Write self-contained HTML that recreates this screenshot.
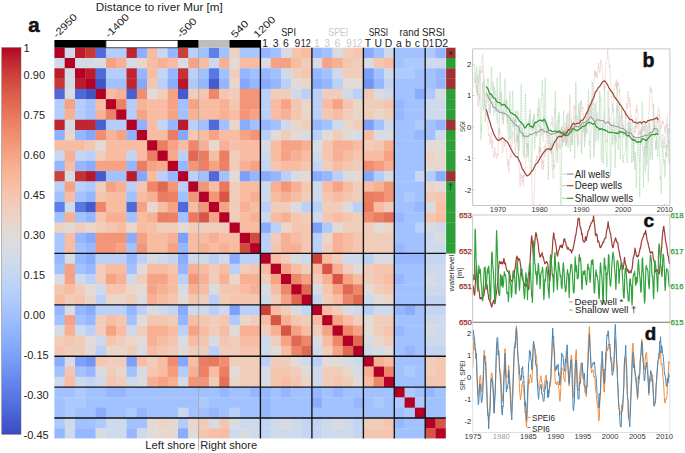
<!DOCTYPE html>
<html><head><meta charset="utf-8"><title>Correlation matrix figure</title>
<style>
html,body{margin:0;padding:0;background:#fff;}
body{width:685px;height:453px;overflow:hidden;}
svg{display:block;font-family:"Liberation Sans",sans-serif;}
</style></head><body>
<svg width="685" height="453" viewBox="0 0 685 453">
<rect width="685" height="453" fill="#fff"/>
<defs><filter id="soft" x="-1%" y="-1%" width="102%" height="102%"><feGaussianBlur stdDeviation="0.45"/></filter></defs>
<g filter="url(#soft)">
<rect x="54.40" y="47.70" width="10.60" height="10.59" fill="#b40426"/>
<rect x="64.70" y="47.70" width="10.60" height="10.59" fill="#cedaeb"/>
<rect x="75.00" y="47.70" width="10.60" height="10.59" fill="#bb1b2c"/>
<rect x="85.30" y="47.70" width="10.60" height="10.59" fill="#c83836"/>
<rect x="95.60" y="47.70" width="10.60" height="10.59" fill="#4f69d9"/>
<rect x="105.90" y="47.70" width="20.90" height="10.59" fill="#b5cdfa"/>
<rect x="126.50" y="47.70" width="10.60" height="10.59" fill="#c0282f"/>
<rect x="136.80" y="47.70" width="10.60" height="10.59" fill="#8caffe"/>
<rect x="147.10" y="47.70" width="10.60" height="10.59" fill="#f7bca1"/>
<rect x="157.40" y="47.70" width="10.60" height="10.59" fill="#c9d7f0"/>
<rect x="167.70" y="47.70" width="10.60" height="10.59" fill="#96b7ff"/>
<rect x="178.00" y="47.70" width="10.60" height="10.59" fill="#cc403a"/>
<rect x="188.30" y="47.70" width="10.60" height="10.59" fill="#bad0f8"/>
<rect x="198.60" y="47.70" width="10.60" height="10.59" fill="#a2c1ff"/>
<rect x="208.90" y="47.70" width="10.60" height="10.59" fill="#5f7fe8"/>
<rect x="219.20" y="47.70" width="10.60" height="10.59" fill="#a2c1ff"/>
<rect x="229.50" y="47.70" width="10.60" height="10.59" fill="#edd1c2"/>
<rect x="239.80" y="47.70" width="20.90" height="10.59" fill="#a9c6fd"/>
<rect x="260.40" y="47.70" width="10.60" height="10.59" fill="#96b7ff"/>
<rect x="270.70" y="47.70" width="10.60" height="10.59" fill="#a2c1ff"/>
<rect x="281.00" y="47.70" width="10.60" height="10.59" fill="#d8dce2"/>
<rect x="291.30" y="47.70" width="10.60" height="10.59" fill="#f4c6af"/>
<rect x="301.60" y="47.70" width="10.60" height="10.59" fill="#f7bca1"/>
<rect x="311.90" y="47.70" width="10.60" height="10.59" fill="#96b7ff"/>
<rect x="322.20" y="47.70" width="10.60" height="10.59" fill="#a2c1ff"/>
<rect x="332.50" y="47.70" width="10.60" height="10.59" fill="#d8dce2"/>
<rect x="342.80" y="47.70" width="10.60" height="10.59" fill="#f0cdbb"/>
<rect x="353.10" y="47.70" width="10.60" height="10.59" fill="#f4c6af"/>
<rect x="363.40" y="47.70" width="10.60" height="10.59" fill="#89acfd"/>
<rect x="373.70" y="47.70" width="10.60" height="10.59" fill="#a2c1ff"/>
<rect x="384.00" y="47.70" width="10.60" height="10.59" fill="#cedaeb"/>
<rect x="394.30" y="47.70" width="31.20" height="10.59" fill="#a2c1ff"/>
<rect x="425.20" y="47.70" width="10.60" height="10.59" fill="#aec9fc"/>
<rect x="435.50" y="47.70" width="10.60" height="10.59" fill="#96b7ff"/>
<rect x="54.40" y="57.98" width="10.60" height="10.59" fill="#cedaeb"/>
<rect x="64.70" y="57.98" width="10.60" height="10.59" fill="#b40426"/>
<rect x="75.00" y="57.98" width="20.90" height="10.59" fill="#d3dbe7"/>
<rect x="95.60" y="57.98" width="10.60" height="10.59" fill="#d8dce2"/>
<rect x="105.90" y="57.98" width="10.60" height="10.59" fill="#f6a385"/>
<rect x="116.20" y="57.98" width="10.60" height="10.59" fill="#f7b093"/>
<rect x="126.50" y="57.98" width="10.60" height="10.59" fill="#d3dbe7"/>
<rect x="136.80" y="57.98" width="10.60" height="10.59" fill="#ead5c9"/>
<rect x="147.10" y="57.98" width="10.60" height="10.59" fill="#f7bca1"/>
<rect x="157.40" y="57.98" width="10.60" height="10.59" fill="#f7b093"/>
<rect x="167.70" y="57.98" width="10.60" height="10.59" fill="#f7bca1"/>
<rect x="178.00" y="57.98" width="10.60" height="10.59" fill="#d8dce2"/>
<rect x="188.30" y="57.98" width="10.60" height="10.59" fill="#f6a385"/>
<rect x="198.60" y="57.98" width="10.60" height="10.59" fill="#f7bca1"/>
<rect x="208.90" y="57.98" width="10.60" height="10.59" fill="#cedaeb"/>
<rect x="219.20" y="57.98" width="10.60" height="10.59" fill="#f7b093"/>
<rect x="229.50" y="57.98" width="10.60" height="10.59" fill="#e1dad6"/>
<rect x="239.80" y="57.98" width="20.90" height="10.59" fill="#f7bca1"/>
<rect x="260.40" y="57.98" width="10.60" height="10.59" fill="#d8dce2"/>
<rect x="270.70" y="57.98" width="20.90" height="10.59" fill="#f6a385"/>
<rect x="291.30" y="57.98" width="10.60" height="10.59" fill="#f7bca1"/>
<rect x="301.60" y="57.98" width="10.60" height="10.59" fill="#f0cdbb"/>
<rect x="311.90" y="57.98" width="10.60" height="10.59" fill="#d8dce2"/>
<rect x="322.20" y="57.98" width="10.60" height="10.59" fill="#f6a385"/>
<rect x="332.50" y="57.98" width="10.60" height="10.59" fill="#f7b093"/>
<rect x="342.80" y="57.98" width="10.60" height="10.59" fill="#f4c6af"/>
<rect x="353.10" y="57.98" width="10.60" height="10.59" fill="#f0cdbb"/>
<rect x="363.40" y="57.98" width="10.60" height="10.59" fill="#d8dce2"/>
<rect x="373.70" y="57.98" width="10.60" height="10.59" fill="#f4c6af"/>
<rect x="384.00" y="57.98" width="10.60" height="10.59" fill="#f7bca1"/>
<rect x="394.30" y="57.98" width="10.60" height="10.59" fill="#a2c1ff"/>
<rect x="404.60" y="57.98" width="20.90" height="10.59" fill="#aec9fc"/>
<rect x="425.20" y="57.98" width="20.90" height="10.59" fill="#cedaeb"/>
<rect x="54.40" y="68.27" width="10.60" height="10.59" fill="#bb1b2c"/>
<rect x="64.70" y="68.27" width="10.60" height="10.59" fill="#d3dbe7"/>
<rect x="75.00" y="68.27" width="10.60" height="10.59" fill="#b40426"/>
<rect x="85.30" y="68.27" width="10.60" height="10.59" fill="#bb1b2c"/>
<rect x="95.60" y="68.27" width="10.60" height="10.59" fill="#4f69d9"/>
<rect x="105.90" y="68.27" width="20.90" height="10.59" fill="#b5cdfa"/>
<rect x="126.50" y="68.27" width="10.60" height="10.59" fill="#c0282f"/>
<rect x="136.80" y="68.27" width="10.60" height="10.59" fill="#96b7ff"/>
<rect x="147.10" y="68.27" width="10.60" height="10.59" fill="#f7bca1"/>
<rect x="157.40" y="68.27" width="10.60" height="10.59" fill="#c4d5f3"/>
<rect x="167.70" y="68.27" width="10.60" height="10.59" fill="#96b7ff"/>
<rect x="178.00" y="68.27" width="10.60" height="10.59" fill="#c53334"/>
<rect x="188.30" y="68.27" width="10.60" height="10.59" fill="#bad0f8"/>
<rect x="198.60" y="68.27" width="10.60" height="10.59" fill="#a2c1ff"/>
<rect x="208.90" y="68.27" width="10.60" height="10.59" fill="#5a78e4"/>
<rect x="219.20" y="68.27" width="10.60" height="10.59" fill="#a2c1ff"/>
<rect x="229.50" y="68.27" width="10.60" height="10.59" fill="#f0cdbb"/>
<rect x="239.80" y="68.27" width="10.60" height="10.59" fill="#96b7ff"/>
<rect x="250.10" y="68.27" width="10.60" height="10.59" fill="#a2c1ff"/>
<rect x="260.40" y="68.27" width="10.60" height="10.59" fill="#96b7ff"/>
<rect x="270.70" y="68.27" width="10.60" height="10.59" fill="#a2c1ff"/>
<rect x="281.00" y="68.27" width="10.60" height="10.59" fill="#cedaeb"/>
<rect x="291.30" y="68.27" width="10.60" height="10.59" fill="#f0cdbb"/>
<rect x="301.60" y="68.27" width="10.60" height="10.59" fill="#f4c6af"/>
<rect x="311.90" y="68.27" width="10.60" height="10.59" fill="#96b7ff"/>
<rect x="322.20" y="68.27" width="10.60" height="10.59" fill="#a2c1ff"/>
<rect x="332.50" y="68.27" width="10.60" height="10.59" fill="#cedaeb"/>
<rect x="342.80" y="68.27" width="20.90" height="10.59" fill="#f0cdbb"/>
<rect x="363.40" y="68.27" width="10.60" height="10.59" fill="#7da0f9"/>
<rect x="373.70" y="68.27" width="10.60" height="10.59" fill="#a2c1ff"/>
<rect x="384.00" y="68.27" width="10.60" height="10.59" fill="#cedaeb"/>
<rect x="394.30" y="68.27" width="20.90" height="10.59" fill="#aec9fc"/>
<rect x="414.90" y="68.27" width="20.90" height="10.59" fill="#a2c1ff"/>
<rect x="435.50" y="68.27" width="10.60" height="10.59" fill="#96b7ff"/>
<rect x="54.40" y="78.56" width="10.60" height="10.59" fill="#c83836"/>
<rect x="64.70" y="78.56" width="10.60" height="10.59" fill="#d3dbe7"/>
<rect x="75.00" y="78.56" width="10.60" height="10.59" fill="#bb1b2c"/>
<rect x="85.30" y="78.56" width="10.60" height="10.59" fill="#b40426"/>
<rect x="95.60" y="78.56" width="10.60" height="10.59" fill="#4055c8"/>
<rect x="105.90" y="78.56" width="20.90" height="10.59" fill="#a2c1ff"/>
<rect x="126.50" y="78.56" width="10.60" height="10.59" fill="#c0282f"/>
<rect x="136.80" y="78.56" width="10.60" height="10.59" fill="#85a8fc"/>
<rect x="147.10" y="78.56" width="10.60" height="10.59" fill="#f4c6af"/>
<rect x="157.40" y="78.56" width="10.60" height="10.59" fill="#bad0f8"/>
<rect x="167.70" y="78.56" width="10.60" height="10.59" fill="#89acfd"/>
<rect x="178.00" y="78.56" width="10.60" height="10.59" fill="#b8122a"/>
<rect x="188.30" y="78.56" width="10.60" height="10.59" fill="#aec9fc"/>
<rect x="198.60" y="78.56" width="10.60" height="10.59" fill="#96b7ff"/>
<rect x="208.90" y="78.56" width="10.60" height="10.59" fill="#445acc"/>
<rect x="219.20" y="78.56" width="10.60" height="10.59" fill="#96b7ff"/>
<rect x="229.50" y="78.56" width="10.60" height="10.59" fill="#ead5c9"/>
<rect x="239.80" y="78.56" width="10.60" height="10.59" fill="#85a8fc"/>
<rect x="250.10" y="78.56" width="10.60" height="10.59" fill="#96b7ff"/>
<rect x="260.40" y="78.56" width="10.60" height="10.59" fill="#89acfd"/>
<rect x="270.70" y="78.56" width="10.60" height="10.59" fill="#96b7ff"/>
<rect x="281.00" y="78.56" width="10.60" height="10.59" fill="#bad0f8"/>
<rect x="291.30" y="78.56" width="10.60" height="10.59" fill="#e1dad6"/>
<rect x="301.60" y="78.56" width="10.60" height="10.59" fill="#ead5c9"/>
<rect x="311.90" y="78.56" width="10.60" height="10.59" fill="#89acfd"/>
<rect x="322.20" y="78.56" width="10.60" height="10.59" fill="#96b7ff"/>
<rect x="332.50" y="78.56" width="10.60" height="10.59" fill="#bad0f8"/>
<rect x="342.80" y="78.56" width="20.90" height="10.59" fill="#e1dad6"/>
<rect x="363.40" y="78.56" width="10.60" height="10.59" fill="#7295f4"/>
<rect x="373.70" y="78.56" width="10.60" height="10.59" fill="#96b7ff"/>
<rect x="384.00" y="78.56" width="10.60" height="10.59" fill="#c4d5f3"/>
<rect x="394.30" y="78.56" width="41.50" height="10.59" fill="#a2c1ff"/>
<rect x="435.50" y="78.56" width="10.60" height="10.59" fill="#96b7ff"/>
<rect x="54.40" y="88.84" width="10.60" height="10.59" fill="#4f69d9"/>
<rect x="64.70" y="88.84" width="10.60" height="10.59" fill="#d8dce2"/>
<rect x="75.00" y="88.84" width="10.60" height="10.59" fill="#4f69d9"/>
<rect x="85.30" y="88.84" width="10.60" height="10.59" fill="#4055c8"/>
<rect x="95.60" y="88.84" width="10.60" height="10.59" fill="#b40426"/>
<rect x="105.90" y="88.84" width="10.60" height="10.59" fill="#f7bca1"/>
<rect x="116.20" y="88.84" width="10.60" height="10.59" fill="#f7b093"/>
<rect x="126.50" y="88.84" width="10.60" height="10.59" fill="#4961d2"/>
<rect x="136.80" y="88.84" width="10.60" height="10.59" fill="#f18d6f"/>
<rect x="147.10" y="88.84" width="10.60" height="10.59" fill="#e1dad6"/>
<rect x="157.40" y="88.84" width="10.60" height="10.59" fill="#f0cdbb"/>
<rect x="167.70" y="88.84" width="10.60" height="10.59" fill="#f6a385"/>
<rect x="178.00" y="88.84" width="10.60" height="10.59" fill="#445acc"/>
<rect x="188.30" y="88.84" width="10.60" height="10.59" fill="#f0cdbb"/>
<rect x="198.60" y="88.84" width="10.60" height="10.59" fill="#f4c6af"/>
<rect x="208.90" y="88.84" width="10.60" height="10.59" fill="#ee8669"/>
<rect x="219.20" y="88.84" width="10.60" height="10.59" fill="#f4c6af"/>
<rect x="229.50" y="88.84" width="10.60" height="10.59" fill="#f0cdbb"/>
<rect x="239.80" y="88.84" width="20.90" height="10.59" fill="#f39577"/>
<rect x="260.40" y="88.84" width="10.60" height="10.59" fill="#bad0f8"/>
<rect x="270.70" y="88.84" width="20.90" height="10.59" fill="#f0cdbb"/>
<rect x="291.30" y="88.84" width="10.60" height="10.59" fill="#cedaeb"/>
<rect x="301.60" y="88.84" width="20.90" height="10.59" fill="#bad0f8"/>
<rect x="322.20" y="88.84" width="20.90" height="10.59" fill="#f0cdbb"/>
<rect x="342.80" y="88.84" width="10.60" height="10.59" fill="#cedaeb"/>
<rect x="353.10" y="88.84" width="10.60" height="10.59" fill="#bad0f8"/>
<rect x="363.40" y="88.84" width="10.60" height="10.59" fill="#f4c6af"/>
<rect x="373.70" y="88.84" width="10.60" height="10.59" fill="#d8dce2"/>
<rect x="384.00" y="88.84" width="10.60" height="10.59" fill="#cedaeb"/>
<rect x="394.30" y="88.84" width="20.90" height="10.59" fill="#a2c1ff"/>
<rect x="414.90" y="88.84" width="10.60" height="10.59" fill="#89acfd"/>
<rect x="425.20" y="88.84" width="10.60" height="10.59" fill="#aec9fc"/>
<rect x="435.50" y="88.84" width="10.60" height="10.59" fill="#d8dce2"/>
<rect x="54.40" y="99.12" width="10.60" height="10.59" fill="#b5cdfa"/>
<rect x="64.70" y="99.12" width="10.60" height="10.59" fill="#f6a385"/>
<rect x="75.00" y="99.12" width="10.60" height="10.59" fill="#b5cdfa"/>
<rect x="85.30" y="99.12" width="10.60" height="10.59" fill="#a2c1ff"/>
<rect x="95.60" y="99.12" width="10.60" height="10.59" fill="#f7bca1"/>
<rect x="105.90" y="99.12" width="10.60" height="10.59" fill="#b40426"/>
<rect x="116.20" y="99.12" width="10.60" height="10.59" fill="#ec8165"/>
<rect x="126.50" y="99.12" width="10.60" height="10.59" fill="#b5cdfa"/>
<rect x="136.80" y="99.12" width="10.60" height="10.59" fill="#f7b497"/>
<rect x="147.10" y="99.12" width="20.90" height="10.59" fill="#f7bca1"/>
<rect x="167.70" y="99.12" width="10.60" height="10.59" fill="#f6a385"/>
<rect x="178.00" y="99.12" width="10.60" height="10.59" fill="#a2c1ff"/>
<rect x="188.30" y="99.12" width="10.60" height="10.59" fill="#f6a385"/>
<rect x="198.60" y="99.12" width="20.90" height="10.59" fill="#f7bca1"/>
<rect x="219.20" y="99.12" width="10.60" height="10.59" fill="#f7b093"/>
<rect x="229.50" y="99.12" width="10.60" height="10.59" fill="#f4c6af"/>
<rect x="239.80" y="99.12" width="20.90" height="10.59" fill="#f39577"/>
<rect x="260.40" y="99.12" width="10.60" height="10.59" fill="#bad0f8"/>
<rect x="270.70" y="99.12" width="10.60" height="10.59" fill="#f7bca1"/>
<rect x="281.00" y="99.12" width="10.60" height="10.59" fill="#f6a385"/>
<rect x="291.30" y="99.12" width="10.60" height="10.59" fill="#f4c6af"/>
<rect x="301.60" y="99.12" width="10.60" height="10.59" fill="#ead5c9"/>
<rect x="311.90" y="99.12" width="10.60" height="10.59" fill="#bad0f8"/>
<rect x="322.20" y="99.12" width="10.60" height="10.59" fill="#f7bca1"/>
<rect x="332.50" y="99.12" width="10.60" height="10.59" fill="#f6a385"/>
<rect x="342.80" y="99.12" width="10.60" height="10.59" fill="#f4c6af"/>
<rect x="353.10" y="99.12" width="10.60" height="10.59" fill="#ead5c9"/>
<rect x="363.40" y="99.12" width="20.90" height="10.59" fill="#f0cdbb"/>
<rect x="384.00" y="99.12" width="10.60" height="10.59" fill="#f4c6af"/>
<rect x="394.30" y="99.12" width="10.60" height="10.59" fill="#96b7ff"/>
<rect x="404.60" y="99.12" width="20.90" height="10.59" fill="#a2c1ff"/>
<rect x="425.20" y="99.12" width="20.90" height="10.59" fill="#cedaeb"/>
<rect x="54.40" y="109.41" width="10.60" height="10.59" fill="#b5cdfa"/>
<rect x="64.70" y="109.41" width="10.60" height="10.59" fill="#f7b093"/>
<rect x="75.00" y="109.41" width="10.60" height="10.59" fill="#b5cdfa"/>
<rect x="85.30" y="109.41" width="10.60" height="10.59" fill="#a2c1ff"/>
<rect x="95.60" y="109.41" width="10.60" height="10.59" fill="#f7b093"/>
<rect x="105.90" y="109.41" width="10.60" height="10.59" fill="#ec8165"/>
<rect x="116.20" y="109.41" width="10.60" height="10.59" fill="#b40426"/>
<rect x="126.50" y="109.41" width="10.60" height="10.59" fill="#b5cdfa"/>
<rect x="136.80" y="109.41" width="10.60" height="10.59" fill="#f6a385"/>
<rect x="147.10" y="109.41" width="20.90" height="10.59" fill="#f7bca1"/>
<rect x="167.70" y="109.41" width="10.60" height="10.59" fill="#f6a385"/>
<rect x="178.00" y="109.41" width="10.60" height="10.59" fill="#a2c1ff"/>
<rect x="188.30" y="109.41" width="10.60" height="10.59" fill="#f7b093"/>
<rect x="198.60" y="109.41" width="20.90" height="10.59" fill="#f7bca1"/>
<rect x="219.20" y="109.41" width="10.60" height="10.59" fill="#f7b093"/>
<rect x="229.50" y="109.41" width="10.60" height="10.59" fill="#f7bca1"/>
<rect x="239.80" y="109.41" width="10.60" height="10.59" fill="#f39577"/>
<rect x="250.10" y="109.41" width="10.60" height="10.59" fill="#f6a385"/>
<rect x="260.40" y="109.41" width="10.60" height="10.59" fill="#bad0f8"/>
<rect x="270.70" y="109.41" width="10.60" height="10.59" fill="#f7bca1"/>
<rect x="281.00" y="109.41" width="10.60" height="10.59" fill="#f7b093"/>
<rect x="291.30" y="109.41" width="10.60" height="10.59" fill="#f4c6af"/>
<rect x="301.60" y="109.41" width="10.60" height="10.59" fill="#ead5c9"/>
<rect x="311.90" y="109.41" width="10.60" height="10.59" fill="#bad0f8"/>
<rect x="322.20" y="109.41" width="10.60" height="10.59" fill="#f4c6af"/>
<rect x="332.50" y="109.41" width="10.60" height="10.59" fill="#f7bca1"/>
<rect x="342.80" y="109.41" width="10.60" height="10.59" fill="#f0cdbb"/>
<rect x="353.10" y="109.41" width="10.60" height="10.59" fill="#ead5c9"/>
<rect x="363.40" y="109.41" width="10.60" height="10.59" fill="#f0cdbb"/>
<rect x="373.70" y="109.41" width="10.60" height="10.59" fill="#ead5c9"/>
<rect x="384.00" y="109.41" width="10.60" height="10.59" fill="#f0cdbb"/>
<rect x="394.30" y="109.41" width="10.60" height="10.59" fill="#96b7ff"/>
<rect x="404.60" y="109.41" width="20.90" height="10.59" fill="#a2c1ff"/>
<rect x="425.20" y="109.41" width="20.90" height="10.59" fill="#cedaeb"/>
<rect x="54.40" y="119.70" width="10.60" height="10.59" fill="#c0282f"/>
<rect x="64.70" y="119.70" width="10.60" height="10.59" fill="#d3dbe7"/>
<rect x="75.00" y="119.70" width="20.90" height="10.59" fill="#c0282f"/>
<rect x="95.60" y="119.70" width="10.60" height="10.59" fill="#4961d2"/>
<rect x="105.90" y="119.70" width="20.90" height="10.59" fill="#b5cdfa"/>
<rect x="126.50" y="119.70" width="10.60" height="10.59" fill="#b40426"/>
<rect x="136.80" y="119.70" width="10.60" height="10.59" fill="#8fb1fe"/>
<rect x="147.10" y="119.70" width="10.60" height="10.59" fill="#f7bca1"/>
<rect x="157.40" y="119.70" width="10.60" height="10.59" fill="#c4d5f3"/>
<rect x="167.70" y="119.70" width="10.60" height="10.59" fill="#96b7ff"/>
<rect x="178.00" y="119.70" width="10.60" height="10.59" fill="#bb1b2c"/>
<rect x="188.30" y="119.70" width="10.60" height="10.59" fill="#bad0f8"/>
<rect x="198.60" y="119.70" width="10.60" height="10.59" fill="#a2c1ff"/>
<rect x="208.90" y="119.70" width="10.60" height="10.59" fill="#4f69d9"/>
<rect x="219.20" y="119.70" width="10.60" height="10.59" fill="#a2c1ff"/>
<rect x="229.50" y="119.70" width="10.60" height="10.59" fill="#ead5c9"/>
<rect x="239.80" y="119.70" width="10.60" height="10.59" fill="#89acfd"/>
<rect x="250.10" y="119.70" width="10.60" height="10.59" fill="#a2c1ff"/>
<rect x="260.40" y="119.70" width="10.60" height="10.59" fill="#96b7ff"/>
<rect x="270.70" y="119.70" width="10.60" height="10.59" fill="#a2c1ff"/>
<rect x="281.00" y="119.70" width="10.60" height="10.59" fill="#cedaeb"/>
<rect x="291.30" y="119.70" width="10.60" height="10.59" fill="#ead5c9"/>
<rect x="301.60" y="119.70" width="10.60" height="10.59" fill="#f0cdbb"/>
<rect x="311.90" y="119.70" width="10.60" height="10.59" fill="#96b7ff"/>
<rect x="322.20" y="119.70" width="10.60" height="10.59" fill="#a2c1ff"/>
<rect x="332.50" y="119.70" width="10.60" height="10.59" fill="#cedaeb"/>
<rect x="342.80" y="119.70" width="10.60" height="10.59" fill="#ead5c9"/>
<rect x="353.10" y="119.70" width="10.60" height="10.59" fill="#f0cdbb"/>
<rect x="363.40" y="119.70" width="10.60" height="10.59" fill="#7da0f9"/>
<rect x="373.70" y="119.70" width="10.60" height="10.59" fill="#a2c1ff"/>
<rect x="384.00" y="119.70" width="10.60" height="10.59" fill="#cedaeb"/>
<rect x="394.30" y="119.70" width="20.90" height="10.59" fill="#a2c1ff"/>
<rect x="414.90" y="119.70" width="10.60" height="10.59" fill="#aec9fc"/>
<rect x="425.20" y="119.70" width="10.60" height="10.59" fill="#a2c1ff"/>
<rect x="435.50" y="119.70" width="10.60" height="10.59" fill="#96b7ff"/>
<rect x="54.40" y="129.98" width="10.60" height="10.59" fill="#8caffe"/>
<rect x="64.70" y="129.98" width="10.60" height="10.59" fill="#ead5c9"/>
<rect x="75.00" y="129.98" width="10.60" height="10.59" fill="#96b7ff"/>
<rect x="85.30" y="129.98" width="10.60" height="10.59" fill="#85a8fc"/>
<rect x="95.60" y="129.98" width="10.60" height="10.59" fill="#f18d6f"/>
<rect x="105.90" y="129.98" width="10.60" height="10.59" fill="#f7b497"/>
<rect x="116.20" y="129.98" width="10.60" height="10.59" fill="#f6a385"/>
<rect x="126.50" y="129.98" width="10.60" height="10.59" fill="#8fb1fe"/>
<rect x="136.80" y="129.98" width="10.60" height="10.59" fill="#b40426"/>
<rect x="147.10" y="129.98" width="20.90" height="10.59" fill="#f7bca1"/>
<rect x="167.70" y="129.98" width="10.60" height="10.59" fill="#eb7d62"/>
<rect x="178.00" y="129.98" width="10.60" height="10.59" fill="#85a8fc"/>
<rect x="188.30" y="129.98" width="10.60" height="10.59" fill="#f4c6af"/>
<rect x="198.60" y="129.98" width="10.60" height="10.59" fill="#f7bca1"/>
<rect x="208.90" y="129.98" width="10.60" height="10.59" fill="#f6a385"/>
<rect x="219.20" y="129.98" width="20.90" height="10.59" fill="#f7bca1"/>
<rect x="239.80" y="129.98" width="10.60" height="10.59" fill="#f6a385"/>
<rect x="250.10" y="129.98" width="10.60" height="10.59" fill="#f39577"/>
<rect x="260.40" y="129.98" width="10.60" height="10.59" fill="#bad0f8"/>
<rect x="270.70" y="129.98" width="10.60" height="10.59" fill="#e1dad6"/>
<rect x="281.00" y="129.98" width="10.60" height="10.59" fill="#f0cdbb"/>
<rect x="291.30" y="129.98" width="10.60" height="10.59" fill="#e1dad6"/>
<rect x="301.60" y="129.98" width="10.60" height="10.59" fill="#d8dce2"/>
<rect x="311.90" y="129.98" width="10.60" height="10.59" fill="#bad0f8"/>
<rect x="322.20" y="129.98" width="10.60" height="10.59" fill="#e1dad6"/>
<rect x="332.50" y="129.98" width="10.60" height="10.59" fill="#f0cdbb"/>
<rect x="342.80" y="129.98" width="10.60" height="10.59" fill="#e1dad6"/>
<rect x="353.10" y="129.98" width="10.60" height="10.59" fill="#d8dce2"/>
<rect x="363.40" y="129.98" width="10.60" height="10.59" fill="#f7bca1"/>
<rect x="373.70" y="129.98" width="20.90" height="10.59" fill="#d8dce2"/>
<rect x="394.30" y="129.98" width="20.90" height="10.59" fill="#a2c1ff"/>
<rect x="414.90" y="129.98" width="10.60" height="10.59" fill="#96b7ff"/>
<rect x="425.20" y="129.98" width="10.60" height="10.59" fill="#a2c1ff"/>
<rect x="435.50" y="129.98" width="10.60" height="10.59" fill="#cedaeb"/>
<rect x="54.40" y="140.26" width="31.20" height="10.59" fill="#f7bca1"/>
<rect x="85.30" y="140.26" width="10.60" height="10.59" fill="#f4c6af"/>
<rect x="95.60" y="140.26" width="10.60" height="10.59" fill="#e1dad6"/>
<rect x="105.90" y="140.26" width="41.50" height="10.59" fill="#f7bca1"/>
<rect x="147.10" y="140.26" width="10.60" height="10.59" fill="#b40426"/>
<rect x="157.40" y="140.26" width="10.60" height="10.59" fill="#eb7d62"/>
<rect x="167.70" y="140.26" width="10.60" height="10.59" fill="#f6a385"/>
<rect x="178.00" y="140.26" width="10.60" height="10.59" fill="#f7bca1"/>
<rect x="188.30" y="140.26" width="10.60" height="10.59" fill="#ee8669"/>
<rect x="198.60" y="140.26" width="10.60" height="10.59" fill="#f7b093"/>
<rect x="208.90" y="140.26" width="10.60" height="10.59" fill="#e6d7cf"/>
<rect x="219.20" y="140.26" width="10.60" height="10.59" fill="#f7b093"/>
<rect x="229.50" y="140.26" width="10.60" height="10.59" fill="#f5c1a9"/>
<rect x="239.80" y="140.26" width="20.90" height="10.59" fill="#f7bca1"/>
<rect x="260.40" y="140.26" width="10.60" height="10.59" fill="#d8dce2"/>
<rect x="270.70" y="140.26" width="10.60" height="10.59" fill="#f7bca1"/>
<rect x="281.00" y="140.26" width="20.90" height="10.59" fill="#f6a385"/>
<rect x="301.60" y="140.26" width="10.60" height="10.59" fill="#f7b093"/>
<rect x="311.90" y="140.26" width="10.60" height="10.59" fill="#d8dce2"/>
<rect x="322.20" y="140.26" width="10.60" height="10.59" fill="#f4c6af"/>
<rect x="332.50" y="140.26" width="20.90" height="10.59" fill="#f7b093"/>
<rect x="353.10" y="140.26" width="10.60" height="10.59" fill="#f7bca1"/>
<rect x="363.40" y="140.26" width="10.60" height="10.59" fill="#f0cdbb"/>
<rect x="373.70" y="140.26" width="10.60" height="10.59" fill="#f4c6af"/>
<rect x="384.00" y="140.26" width="10.60" height="10.59" fill="#f7b093"/>
<rect x="394.30" y="140.26" width="31.20" height="10.59" fill="#a2c1ff"/>
<rect x="425.20" y="140.26" width="20.90" height="10.59" fill="#e1dad6"/>
<rect x="54.40" y="150.55" width="10.60" height="10.59" fill="#c9d7f0"/>
<rect x="64.70" y="150.55" width="10.60" height="10.59" fill="#f7b093"/>
<rect x="75.00" y="150.55" width="10.60" height="10.59" fill="#c4d5f3"/>
<rect x="85.30" y="150.55" width="10.60" height="10.59" fill="#bad0f8"/>
<rect x="95.60" y="150.55" width="10.60" height="10.59" fill="#f0cdbb"/>
<rect x="105.90" y="150.55" width="20.90" height="10.59" fill="#f7bca1"/>
<rect x="126.50" y="150.55" width="10.60" height="10.59" fill="#c4d5f3"/>
<rect x="136.80" y="150.55" width="10.60" height="10.59" fill="#f7bca1"/>
<rect x="147.10" y="150.55" width="10.60" height="10.59" fill="#eb7d62"/>
<rect x="157.40" y="150.55" width="10.60" height="10.59" fill="#b40426"/>
<rect x="167.70" y="150.55" width="10.60" height="10.59" fill="#f7a98b"/>
<rect x="178.00" y="150.55" width="10.60" height="10.59" fill="#bad0f8"/>
<rect x="188.30" y="150.55" width="10.60" height="10.59" fill="#e16751"/>
<rect x="198.60" y="150.55" width="10.60" height="10.59" fill="#eb7d62"/>
<rect x="208.90" y="150.55" width="10.60" height="10.59" fill="#f6bea4"/>
<rect x="219.20" y="150.55" width="10.60" height="10.59" fill="#eb7d62"/>
<rect x="229.50" y="150.55" width="10.60" height="10.59" fill="#f0cdbb"/>
<rect x="239.80" y="150.55" width="20.90" height="10.59" fill="#f7bca1"/>
<rect x="260.40" y="150.55" width="10.60" height="10.59" fill="#cedaeb"/>
<rect x="270.70" y="150.55" width="10.60" height="10.59" fill="#f7bca1"/>
<rect x="281.00" y="150.55" width="10.60" height="10.59" fill="#f6a385"/>
<rect x="291.30" y="150.55" width="10.60" height="10.59" fill="#f7b093"/>
<rect x="301.60" y="150.55" width="10.60" height="10.59" fill="#f7bca1"/>
<rect x="311.90" y="150.55" width="10.60" height="10.59" fill="#cedaeb"/>
<rect x="322.20" y="150.55" width="10.60" height="10.59" fill="#f4c6af"/>
<rect x="332.50" y="150.55" width="10.60" height="10.59" fill="#f7b093"/>
<rect x="342.80" y="150.55" width="10.60" height="10.59" fill="#f7bca1"/>
<rect x="353.10" y="150.55" width="10.60" height="10.59" fill="#f4c6af"/>
<rect x="363.40" y="150.55" width="20.90" height="10.59" fill="#f7bca1"/>
<rect x="384.00" y="150.55" width="10.60" height="10.59" fill="#f6a385"/>
<rect x="394.30" y="150.55" width="31.20" height="10.59" fill="#a2c1ff"/>
<rect x="425.20" y="150.55" width="10.60" height="10.59" fill="#ebd3c6"/>
<rect x="435.50" y="150.55" width="10.60" height="10.59" fill="#e6d7cf"/>
<rect x="54.40" y="160.84" width="10.60" height="10.59" fill="#96b7ff"/>
<rect x="64.70" y="160.84" width="10.60" height="10.59" fill="#f7bca1"/>
<rect x="75.00" y="160.84" width="10.60" height="10.59" fill="#96b7ff"/>
<rect x="85.30" y="160.84" width="10.60" height="10.59" fill="#89acfd"/>
<rect x="95.60" y="160.84" width="31.20" height="10.59" fill="#f6a385"/>
<rect x="126.50" y="160.84" width="10.60" height="10.59" fill="#96b7ff"/>
<rect x="136.80" y="160.84" width="10.60" height="10.59" fill="#eb7d62"/>
<rect x="147.10" y="160.84" width="10.60" height="10.59" fill="#f6a385"/>
<rect x="157.40" y="160.84" width="10.60" height="10.59" fill="#f7a98b"/>
<rect x="167.70" y="160.84" width="10.60" height="10.59" fill="#b40426"/>
<rect x="178.00" y="160.84" width="10.60" height="10.59" fill="#96b7ff"/>
<rect x="188.30" y="160.84" width="10.60" height="10.59" fill="#f39577"/>
<rect x="198.60" y="160.84" width="10.60" height="10.59" fill="#ec8165"/>
<rect x="208.90" y="160.84" width="10.60" height="10.59" fill="#f6a385"/>
<rect x="219.20" y="160.84" width="10.60" height="10.59" fill="#ec8165"/>
<rect x="229.50" y="160.84" width="10.60" height="10.59" fill="#f0cdbb"/>
<rect x="239.80" y="160.84" width="10.60" height="10.59" fill="#f7b093"/>
<rect x="250.10" y="160.84" width="10.60" height="10.59" fill="#f6a385"/>
<rect x="260.40" y="160.84" width="10.60" height="10.59" fill="#c4d5f3"/>
<rect x="270.70" y="160.84" width="10.60" height="10.59" fill="#f4c6af"/>
<rect x="281.00" y="160.84" width="20.90" height="10.59" fill="#f7bca1"/>
<rect x="301.60" y="160.84" width="10.60" height="10.59" fill="#f4c6af"/>
<rect x="311.90" y="160.84" width="10.60" height="10.59" fill="#c4d5f3"/>
<rect x="322.20" y="160.84" width="10.60" height="10.59" fill="#f0cdbb"/>
<rect x="332.50" y="160.84" width="10.60" height="10.59" fill="#f7bca1"/>
<rect x="342.80" y="160.84" width="10.60" height="10.59" fill="#f4c6af"/>
<rect x="353.10" y="160.84" width="10.60" height="10.59" fill="#f0cdbb"/>
<rect x="363.40" y="160.84" width="10.60" height="10.59" fill="#f18d6f"/>
<rect x="373.70" y="160.84" width="10.60" height="10.59" fill="#f59c7d"/>
<rect x="384.00" y="160.84" width="10.60" height="10.59" fill="#f7b093"/>
<rect x="394.30" y="160.84" width="31.20" height="10.59" fill="#a2c1ff"/>
<rect x="425.20" y="160.84" width="20.90" height="10.59" fill="#e6d7cf"/>
<rect x="54.40" y="171.12" width="10.60" height="10.59" fill="#cc403a"/>
<rect x="64.70" y="171.12" width="10.60" height="10.59" fill="#d8dce2"/>
<rect x="75.00" y="171.12" width="10.60" height="10.59" fill="#c53334"/>
<rect x="85.30" y="171.12" width="10.60" height="10.59" fill="#b8122a"/>
<rect x="95.60" y="171.12" width="10.60" height="10.59" fill="#445acc"/>
<rect x="105.90" y="171.12" width="20.90" height="10.59" fill="#a2c1ff"/>
<rect x="126.50" y="171.12" width="10.60" height="10.59" fill="#bb1b2c"/>
<rect x="136.80" y="171.12" width="10.60" height="10.59" fill="#85a8fc"/>
<rect x="147.10" y="171.12" width="10.60" height="10.59" fill="#f7bca1"/>
<rect x="157.40" y="171.12" width="10.60" height="10.59" fill="#bad0f8"/>
<rect x="167.70" y="171.12" width="10.60" height="10.59" fill="#96b7ff"/>
<rect x="178.00" y="171.12" width="10.60" height="10.59" fill="#b40426"/>
<rect x="188.30" y="171.12" width="10.60" height="10.59" fill="#bad0f8"/>
<rect x="198.60" y="171.12" width="10.60" height="10.59" fill="#a2c1ff"/>
<rect x="208.90" y="171.12" width="10.60" height="10.59" fill="#4f69d9"/>
<rect x="219.20" y="171.12" width="10.60" height="10.59" fill="#a2c1ff"/>
<rect x="229.50" y="171.12" width="10.60" height="10.59" fill="#e1dad6"/>
<rect x="239.80" y="171.12" width="10.60" height="10.59" fill="#7da0f9"/>
<rect x="250.10" y="171.12" width="10.60" height="10.59" fill="#96b7ff"/>
<rect x="260.40" y="171.12" width="10.60" height="10.59" fill="#89acfd"/>
<rect x="270.70" y="171.12" width="10.60" height="10.59" fill="#96b7ff"/>
<rect x="281.00" y="171.12" width="10.60" height="10.59" fill="#bad0f8"/>
<rect x="291.30" y="171.12" width="10.60" height="10.59" fill="#d8dce2"/>
<rect x="301.60" y="171.12" width="10.60" height="10.59" fill="#e1dad6"/>
<rect x="311.90" y="171.12" width="10.60" height="10.59" fill="#89acfd"/>
<rect x="322.20" y="171.12" width="10.60" height="10.59" fill="#96b7ff"/>
<rect x="332.50" y="171.12" width="10.60" height="10.59" fill="#bad0f8"/>
<rect x="342.80" y="171.12" width="10.60" height="10.59" fill="#d8dce2"/>
<rect x="353.10" y="171.12" width="10.60" height="10.59" fill="#e1dad6"/>
<rect x="363.40" y="171.12" width="10.60" height="10.59" fill="#85a8fc"/>
<rect x="373.70" y="171.12" width="10.60" height="10.59" fill="#b2ccfb"/>
<rect x="384.00" y="171.12" width="10.60" height="10.59" fill="#d3dbe7"/>
<rect x="394.30" y="171.12" width="20.90" height="10.59" fill="#a2c1ff"/>
<rect x="414.90" y="171.12" width="10.60" height="10.59" fill="#c9d7f0"/>
<rect x="425.20" y="171.12" width="10.60" height="10.59" fill="#b2ccfb"/>
<rect x="435.50" y="171.12" width="10.60" height="10.59" fill="#89acfd"/>
<rect x="54.40" y="181.41" width="10.60" height="10.59" fill="#bad0f8"/>
<rect x="64.70" y="181.41" width="10.60" height="10.59" fill="#f6a385"/>
<rect x="75.00" y="181.41" width="10.60" height="10.59" fill="#bad0f8"/>
<rect x="85.30" y="181.41" width="10.60" height="10.59" fill="#aec9fc"/>
<rect x="95.60" y="181.41" width="10.60" height="10.59" fill="#f0cdbb"/>
<rect x="105.90" y="181.41" width="10.60" height="10.59" fill="#f6a385"/>
<rect x="116.20" y="181.41" width="10.60" height="10.59" fill="#f7b093"/>
<rect x="126.50" y="181.41" width="10.60" height="10.59" fill="#bad0f8"/>
<rect x="136.80" y="181.41" width="10.60" height="10.59" fill="#f4c6af"/>
<rect x="147.10" y="181.41" width="10.60" height="10.59" fill="#ee8669"/>
<rect x="157.40" y="181.41" width="10.60" height="10.59" fill="#e16751"/>
<rect x="167.70" y="181.41" width="10.60" height="10.59" fill="#f39577"/>
<rect x="178.00" y="181.41" width="10.60" height="10.59" fill="#bad0f8"/>
<rect x="188.30" y="181.41" width="10.60" height="10.59" fill="#b40426"/>
<rect x="198.60" y="181.41" width="10.60" height="10.59" fill="#f39577"/>
<rect x="208.90" y="181.41" width="10.60" height="10.59" fill="#f7bca1"/>
<rect x="219.20" y="181.41" width="10.60" height="10.59" fill="#e9785d"/>
<rect x="229.50" y="181.41" width="10.60" height="10.59" fill="#f0cdbb"/>
<rect x="239.80" y="181.41" width="20.90" height="10.59" fill="#f7bca1"/>
<rect x="260.40" y="181.41" width="10.60" height="10.59" fill="#cedaeb"/>
<rect x="270.70" y="181.41" width="10.60" height="10.59" fill="#f7b093"/>
<rect x="281.00" y="181.41" width="10.60" height="10.59" fill="#f39577"/>
<rect x="291.30" y="181.41" width="10.60" height="10.59" fill="#f7b093"/>
<rect x="301.60" y="181.41" width="10.60" height="10.59" fill="#f4c6af"/>
<rect x="311.90" y="181.41" width="10.60" height="10.59" fill="#cedaeb"/>
<rect x="322.20" y="181.41" width="10.60" height="10.59" fill="#f7bca1"/>
<rect x="332.50" y="181.41" width="10.60" height="10.59" fill="#f6a385"/>
<rect x="342.80" y="181.41" width="10.60" height="10.59" fill="#f7bca1"/>
<rect x="353.10" y="181.41" width="10.60" height="10.59" fill="#f0cdbb"/>
<rect x="363.40" y="181.41" width="10.60" height="10.59" fill="#f7bca1"/>
<rect x="373.70" y="181.41" width="10.60" height="10.59" fill="#f7b093"/>
<rect x="384.00" y="181.41" width="10.60" height="10.59" fill="#f39577"/>
<rect x="394.30" y="181.41" width="31.20" height="10.59" fill="#a2c1ff"/>
<rect x="425.20" y="181.41" width="10.60" height="10.59" fill="#ead5c9"/>
<rect x="435.50" y="181.41" width="10.60" height="10.59" fill="#e1dad6"/>
<rect x="54.40" y="191.69" width="10.60" height="10.59" fill="#a2c1ff"/>
<rect x="64.70" y="191.69" width="10.60" height="10.59" fill="#f7bca1"/>
<rect x="75.00" y="191.69" width="10.60" height="10.59" fill="#a2c1ff"/>
<rect x="85.30" y="191.69" width="10.60" height="10.59" fill="#96b7ff"/>
<rect x="95.60" y="191.69" width="10.60" height="10.59" fill="#f4c6af"/>
<rect x="105.90" y="191.69" width="20.90" height="10.59" fill="#f7bca1"/>
<rect x="126.50" y="191.69" width="10.60" height="10.59" fill="#a2c1ff"/>
<rect x="136.80" y="191.69" width="10.60" height="10.59" fill="#f7bca1"/>
<rect x="147.10" y="191.69" width="10.60" height="10.59" fill="#f7b093"/>
<rect x="157.40" y="191.69" width="10.60" height="10.59" fill="#eb7d62"/>
<rect x="167.70" y="191.69" width="10.60" height="10.59" fill="#ec8165"/>
<rect x="178.00" y="191.69" width="10.60" height="10.59" fill="#a2c1ff"/>
<rect x="188.30" y="191.69" width="10.60" height="10.59" fill="#f39577"/>
<rect x="198.60" y="191.69" width="10.60" height="10.59" fill="#b40426"/>
<rect x="208.90" y="191.69" width="10.60" height="10.59" fill="#f39577"/>
<rect x="219.20" y="191.69" width="10.60" height="10.59" fill="#d75445"/>
<rect x="229.50" y="191.69" width="10.60" height="10.59" fill="#f0cdbb"/>
<rect x="239.80" y="191.69" width="10.60" height="10.59" fill="#f7bca1"/>
<rect x="250.10" y="191.69" width="10.60" height="10.59" fill="#f7b093"/>
<rect x="260.40" y="191.69" width="10.60" height="10.59" fill="#cedaeb"/>
<rect x="270.70" y="191.69" width="10.60" height="10.59" fill="#f7bca1"/>
<rect x="281.00" y="191.69" width="10.60" height="10.59" fill="#f7b093"/>
<rect x="291.30" y="191.69" width="10.60" height="10.59" fill="#f7bca1"/>
<rect x="301.60" y="191.69" width="10.60" height="10.59" fill="#f0cdbb"/>
<rect x="311.90" y="191.69" width="10.60" height="10.59" fill="#cedaeb"/>
<rect x="322.20" y="191.69" width="10.60" height="10.59" fill="#f4c6af"/>
<rect x="332.50" y="191.69" width="10.60" height="10.59" fill="#f7bca1"/>
<rect x="342.80" y="191.69" width="10.60" height="10.59" fill="#f4c6af"/>
<rect x="353.10" y="191.69" width="10.60" height="10.59" fill="#f0cdbb"/>
<rect x="363.40" y="191.69" width="10.60" height="10.59" fill="#eb7d62"/>
<rect x="373.70" y="191.69" width="10.60" height="10.59" fill="#ec8165"/>
<rect x="384.00" y="191.69" width="10.60" height="10.59" fill="#f39577"/>
<rect x="394.30" y="191.69" width="10.60" height="10.59" fill="#a2c1ff"/>
<rect x="404.60" y="191.69" width="10.60" height="10.59" fill="#aec9fc"/>
<rect x="414.90" y="191.69" width="10.60" height="10.59" fill="#a2c1ff"/>
<rect x="425.20" y="191.69" width="10.60" height="10.59" fill="#f2cbb7"/>
<rect x="435.50" y="191.69" width="10.60" height="10.59" fill="#f4c6af"/>
<rect x="54.40" y="201.98" width="10.60" height="10.59" fill="#5f7fe8"/>
<rect x="64.70" y="201.98" width="10.60" height="10.59" fill="#cedaeb"/>
<rect x="75.00" y="201.98" width="10.60" height="10.59" fill="#5a78e4"/>
<rect x="85.30" y="201.98" width="10.60" height="10.59" fill="#445acc"/>
<rect x="95.60" y="201.98" width="10.60" height="10.59" fill="#ee8669"/>
<rect x="105.90" y="201.98" width="20.90" height="10.59" fill="#f7bca1"/>
<rect x="126.50" y="201.98" width="10.60" height="10.59" fill="#4f69d9"/>
<rect x="136.80" y="201.98" width="10.60" height="10.59" fill="#f6a385"/>
<rect x="147.10" y="201.98" width="10.60" height="10.59" fill="#e6d7cf"/>
<rect x="157.40" y="201.98" width="10.60" height="10.59" fill="#f6bea4"/>
<rect x="167.70" y="201.98" width="10.60" height="10.59" fill="#f6a385"/>
<rect x="178.00" y="201.98" width="10.60" height="10.59" fill="#4f69d9"/>
<rect x="188.30" y="201.98" width="10.60" height="10.59" fill="#f7bca1"/>
<rect x="198.60" y="201.98" width="10.60" height="10.59" fill="#f39577"/>
<rect x="208.90" y="201.98" width="10.60" height="10.59" fill="#b40426"/>
<rect x="219.20" y="201.98" width="10.60" height="10.59" fill="#f6a385"/>
<rect x="229.50" y="201.98" width="10.60" height="10.59" fill="#f0cdbb"/>
<rect x="239.80" y="201.98" width="10.60" height="10.59" fill="#f7b093"/>
<rect x="250.10" y="201.98" width="10.60" height="10.59" fill="#f7bca1"/>
<rect x="260.40" y="201.98" width="10.60" height="10.59" fill="#bad0f8"/>
<rect x="270.70" y="201.98" width="20.90" height="10.59" fill="#f0cdbb"/>
<rect x="291.30" y="201.98" width="10.60" height="10.59" fill="#d8dce2"/>
<rect x="301.60" y="201.98" width="20.90" height="10.59" fill="#bad0f8"/>
<rect x="322.20" y="201.98" width="20.90" height="10.59" fill="#f0cdbb"/>
<rect x="342.80" y="201.98" width="10.60" height="10.59" fill="#d8dce2"/>
<rect x="353.10" y="201.98" width="10.60" height="10.59" fill="#bad0f8"/>
<rect x="363.40" y="201.98" width="10.60" height="10.59" fill="#e97a5f"/>
<rect x="373.70" y="201.98" width="10.60" height="10.59" fill="#f7bca1"/>
<rect x="384.00" y="201.98" width="10.60" height="10.59" fill="#f0cdbb"/>
<rect x="394.30" y="201.98" width="20.90" height="10.59" fill="#a2c1ff"/>
<rect x="414.90" y="201.98" width="10.60" height="10.59" fill="#96b7ff"/>
<rect x="425.20" y="201.98" width="10.60" height="10.59" fill="#d8dce2"/>
<rect x="435.50" y="201.98" width="10.60" height="10.59" fill="#f6bfa6"/>
<rect x="54.40" y="212.26" width="10.60" height="10.59" fill="#a2c1ff"/>
<rect x="64.70" y="212.26" width="10.60" height="10.59" fill="#f7b093"/>
<rect x="75.00" y="212.26" width="10.60" height="10.59" fill="#a2c1ff"/>
<rect x="85.30" y="212.26" width="10.60" height="10.59" fill="#96b7ff"/>
<rect x="95.60" y="212.26" width="10.60" height="10.59" fill="#f4c6af"/>
<rect x="105.90" y="212.26" width="20.90" height="10.59" fill="#f7b093"/>
<rect x="126.50" y="212.26" width="10.60" height="10.59" fill="#a2c1ff"/>
<rect x="136.80" y="212.26" width="10.60" height="10.59" fill="#f7bca1"/>
<rect x="147.10" y="212.26" width="10.60" height="10.59" fill="#f7b093"/>
<rect x="157.40" y="212.26" width="10.60" height="10.59" fill="#eb7d62"/>
<rect x="167.70" y="212.26" width="10.60" height="10.59" fill="#ec8165"/>
<rect x="178.00" y="212.26" width="10.60" height="10.59" fill="#a2c1ff"/>
<rect x="188.30" y="212.26" width="10.60" height="10.59" fill="#e9785d"/>
<rect x="198.60" y="212.26" width="10.60" height="10.59" fill="#d75445"/>
<rect x="208.90" y="212.26" width="10.60" height="10.59" fill="#f6a385"/>
<rect x="219.20" y="212.26" width="10.60" height="10.59" fill="#b40426"/>
<rect x="229.50" y="212.26" width="10.60" height="10.59" fill="#f0cdbb"/>
<rect x="239.80" y="212.26" width="10.60" height="10.59" fill="#f7bca1"/>
<rect x="250.10" y="212.26" width="10.60" height="10.59" fill="#f7b093"/>
<rect x="260.40" y="212.26" width="10.60" height="10.59" fill="#cedaeb"/>
<rect x="270.70" y="212.26" width="10.60" height="10.59" fill="#f7bca1"/>
<rect x="281.00" y="212.26" width="10.60" height="10.59" fill="#f7b093"/>
<rect x="291.30" y="212.26" width="10.60" height="10.59" fill="#f4c6af"/>
<rect x="301.60" y="212.26" width="10.60" height="10.59" fill="#f0cdbb"/>
<rect x="311.90" y="212.26" width="10.60" height="10.59" fill="#cedaeb"/>
<rect x="322.20" y="212.26" width="10.60" height="10.59" fill="#f4c6af"/>
<rect x="332.50" y="212.26" width="10.60" height="10.59" fill="#f7bca1"/>
<rect x="342.80" y="212.26" width="10.60" height="10.59" fill="#f4c6af"/>
<rect x="353.10" y="212.26" width="10.60" height="10.59" fill="#f0cdbb"/>
<rect x="363.40" y="212.26" width="10.60" height="10.59" fill="#f18d6f"/>
<rect x="373.70" y="212.26" width="10.60" height="10.59" fill="#eb7d62"/>
<rect x="384.00" y="212.26" width="10.60" height="10.59" fill="#e57058"/>
<rect x="394.30" y="212.26" width="10.60" height="10.59" fill="#96b7ff"/>
<rect x="404.60" y="212.26" width="20.90" height="10.59" fill="#a2c1ff"/>
<rect x="425.20" y="212.26" width="10.60" height="10.59" fill="#f4c6af"/>
<rect x="435.50" y="212.26" width="10.60" height="10.59" fill="#f7bca1"/>
<rect x="54.40" y="222.55" width="10.60" height="10.59" fill="#edd1c2"/>
<rect x="64.70" y="222.55" width="10.60" height="10.59" fill="#e1dad6"/>
<rect x="75.00" y="222.55" width="10.60" height="10.59" fill="#f0cdbb"/>
<rect x="85.30" y="222.55" width="10.60" height="10.59" fill="#ead5c9"/>
<rect x="95.60" y="222.55" width="10.60" height="10.59" fill="#f0cdbb"/>
<rect x="105.90" y="222.55" width="10.60" height="10.59" fill="#f4c6af"/>
<rect x="116.20" y="222.55" width="10.60" height="10.59" fill="#f7bca1"/>
<rect x="126.50" y="222.55" width="10.60" height="10.59" fill="#ead5c9"/>
<rect x="136.80" y="222.55" width="10.60" height="10.59" fill="#f7bca1"/>
<rect x="147.10" y="222.55" width="10.60" height="10.59" fill="#f5c1a9"/>
<rect x="157.40" y="222.55" width="20.90" height="10.59" fill="#f0cdbb"/>
<rect x="178.00" y="222.55" width="10.60" height="10.59" fill="#e1dad6"/>
<rect x="188.30" y="222.55" width="41.50" height="10.59" fill="#f0cdbb"/>
<rect x="229.50" y="222.55" width="10.60" height="10.59" fill="#b40426"/>
<rect x="239.80" y="222.55" width="20.90" height="10.59" fill="#f7bca1"/>
<rect x="260.40" y="222.55" width="10.60" height="10.59" fill="#89acfd"/>
<rect x="270.70" y="222.55" width="10.60" height="10.59" fill="#bad0f8"/>
<rect x="281.00" y="222.55" width="10.60" height="10.59" fill="#ead5c9"/>
<rect x="291.30" y="222.55" width="20.90" height="10.59" fill="#f4c6af"/>
<rect x="311.90" y="222.55" width="10.60" height="10.59" fill="#7da0f9"/>
<rect x="322.20" y="222.55" width="10.60" height="10.59" fill="#aec9fc"/>
<rect x="332.50" y="222.55" width="10.60" height="10.59" fill="#e1dad6"/>
<rect x="342.80" y="222.55" width="31.20" height="10.59" fill="#f0cdbb"/>
<rect x="373.70" y="222.55" width="10.60" height="10.59" fill="#e1dad6"/>
<rect x="384.00" y="222.55" width="10.60" height="10.59" fill="#ead5c9"/>
<rect x="394.30" y="222.55" width="20.90" height="10.59" fill="#a2c1ff"/>
<rect x="414.90" y="222.55" width="10.60" height="10.59" fill="#bad0f8"/>
<rect x="425.20" y="222.55" width="10.60" height="10.59" fill="#d8dce2"/>
<rect x="435.50" y="222.55" width="10.60" height="10.59" fill="#cedaeb"/>
<rect x="54.40" y="232.83" width="10.60" height="10.59" fill="#a9c6fd"/>
<rect x="64.70" y="232.83" width="10.60" height="10.59" fill="#f7bca1"/>
<rect x="75.00" y="232.83" width="10.60" height="10.59" fill="#96b7ff"/>
<rect x="85.30" y="232.83" width="10.60" height="10.59" fill="#85a8fc"/>
<rect x="95.60" y="232.83" width="31.20" height="10.59" fill="#f39577"/>
<rect x="126.50" y="232.83" width="10.60" height="10.59" fill="#89acfd"/>
<rect x="136.80" y="232.83" width="10.60" height="10.59" fill="#f6a385"/>
<rect x="147.10" y="232.83" width="20.90" height="10.59" fill="#f7bca1"/>
<rect x="167.70" y="232.83" width="10.60" height="10.59" fill="#f7b093"/>
<rect x="178.00" y="232.83" width="10.60" height="10.59" fill="#7da0f9"/>
<rect x="188.30" y="232.83" width="20.90" height="10.59" fill="#f7bca1"/>
<rect x="208.90" y="232.83" width="10.60" height="10.59" fill="#f7b093"/>
<rect x="219.20" y="232.83" width="20.90" height="10.59" fill="#f7bca1"/>
<rect x="239.80" y="232.83" width="10.60" height="10.59" fill="#b40426"/>
<rect x="250.10" y="232.83" width="10.60" height="10.59" fill="#d24b40"/>
<rect x="260.40" y="232.83" width="10.60" height="10.59" fill="#bad0f8"/>
<rect x="270.70" y="232.83" width="10.60" height="10.59" fill="#f0cdbb"/>
<rect x="281.00" y="232.83" width="10.60" height="10.59" fill="#f7b093"/>
<rect x="291.30" y="232.83" width="10.60" height="10.59" fill="#f7bca1"/>
<rect x="301.60" y="232.83" width="10.60" height="10.59" fill="#f4c6af"/>
<rect x="311.90" y="232.83" width="10.60" height="10.59" fill="#bad0f8"/>
<rect x="322.20" y="232.83" width="10.60" height="10.59" fill="#ead5c9"/>
<rect x="332.50" y="232.83" width="10.60" height="10.59" fill="#f7b093"/>
<rect x="342.80" y="232.83" width="10.60" height="10.59" fill="#f7bca1"/>
<rect x="353.10" y="232.83" width="10.60" height="10.59" fill="#f4c6af"/>
<rect x="363.40" y="232.83" width="31.20" height="10.59" fill="#f0cdbb"/>
<rect x="394.30" y="232.83" width="31.20" height="10.59" fill="#a2c1ff"/>
<rect x="425.20" y="232.83" width="10.60" height="10.59" fill="#cedaeb"/>
<rect x="435.50" y="232.83" width="10.60" height="10.59" fill="#d8dce2"/>
<rect x="54.40" y="243.12" width="10.60" height="10.59" fill="#a9c6fd"/>
<rect x="64.70" y="243.12" width="10.60" height="10.59" fill="#f7bca1"/>
<rect x="75.00" y="243.12" width="10.60" height="10.59" fill="#a2c1ff"/>
<rect x="85.30" y="243.12" width="10.60" height="10.59" fill="#96b7ff"/>
<rect x="95.60" y="243.12" width="20.90" height="10.59" fill="#f39577"/>
<rect x="116.20" y="243.12" width="10.60" height="10.59" fill="#f6a385"/>
<rect x="126.50" y="243.12" width="10.60" height="10.59" fill="#a2c1ff"/>
<rect x="136.80" y="243.12" width="10.60" height="10.59" fill="#f39577"/>
<rect x="147.10" y="243.12" width="20.90" height="10.59" fill="#f7bca1"/>
<rect x="167.70" y="243.12" width="10.60" height="10.59" fill="#f6a385"/>
<rect x="178.00" y="243.12" width="10.60" height="10.59" fill="#96b7ff"/>
<rect x="188.30" y="243.12" width="10.60" height="10.59" fill="#f7bca1"/>
<rect x="198.60" y="243.12" width="10.60" height="10.59" fill="#f7b093"/>
<rect x="208.90" y="243.12" width="10.60" height="10.59" fill="#f7bca1"/>
<rect x="219.20" y="243.12" width="10.60" height="10.59" fill="#f7b093"/>
<rect x="229.50" y="243.12" width="10.60" height="10.59" fill="#f7bca1"/>
<rect x="239.80" y="243.12" width="10.60" height="10.59" fill="#d24b40"/>
<rect x="250.10" y="243.12" width="10.60" height="10.59" fill="#b40426"/>
<rect x="260.40" y="243.12" width="10.60" height="10.59" fill="#bad0f8"/>
<rect x="270.70" y="243.12" width="10.60" height="10.59" fill="#f4c6af"/>
<rect x="281.00" y="243.12" width="20.90" height="10.59" fill="#f7b093"/>
<rect x="301.60" y="243.12" width="10.60" height="10.59" fill="#f4c6af"/>
<rect x="311.90" y="243.12" width="10.60" height="10.59" fill="#bad0f8"/>
<rect x="322.20" y="243.12" width="10.60" height="10.59" fill="#f0cdbb"/>
<rect x="332.50" y="243.12" width="10.60" height="10.59" fill="#f7b093"/>
<rect x="342.80" y="243.12" width="10.60" height="10.59" fill="#f7bca1"/>
<rect x="353.10" y="243.12" width="10.60" height="10.59" fill="#f4c6af"/>
<rect x="363.40" y="243.12" width="31.20" height="10.59" fill="#f0cdbb"/>
<rect x="394.30" y="243.12" width="10.60" height="10.59" fill="#96b7ff"/>
<rect x="404.60" y="243.12" width="20.90" height="10.59" fill="#a2c1ff"/>
<rect x="425.20" y="243.12" width="20.90" height="10.59" fill="#cedaeb"/>
<rect x="54.40" y="253.40" width="10.60" height="10.59" fill="#96b7ff"/>
<rect x="64.70" y="253.40" width="10.60" height="10.59" fill="#d8dce2"/>
<rect x="75.00" y="253.40" width="10.60" height="10.59" fill="#96b7ff"/>
<rect x="85.30" y="253.40" width="10.60" height="10.59" fill="#89acfd"/>
<rect x="95.60" y="253.40" width="31.20" height="10.59" fill="#bad0f8"/>
<rect x="126.50" y="253.40" width="10.60" height="10.59" fill="#96b7ff"/>
<rect x="136.80" y="253.40" width="10.60" height="10.59" fill="#bad0f8"/>
<rect x="147.10" y="253.40" width="10.60" height="10.59" fill="#d8dce2"/>
<rect x="157.40" y="253.40" width="10.60" height="10.59" fill="#cedaeb"/>
<rect x="167.70" y="253.40" width="10.60" height="10.59" fill="#c4d5f3"/>
<rect x="178.00" y="253.40" width="10.60" height="10.59" fill="#89acfd"/>
<rect x="188.30" y="253.40" width="20.90" height="10.59" fill="#cedaeb"/>
<rect x="208.90" y="253.40" width="10.60" height="10.59" fill="#bad0f8"/>
<rect x="219.20" y="253.40" width="10.60" height="10.59" fill="#cedaeb"/>
<rect x="229.50" y="253.40" width="10.60" height="10.59" fill="#89acfd"/>
<rect x="239.80" y="253.40" width="20.90" height="10.59" fill="#bad0f8"/>
<rect x="260.40" y="253.40" width="10.60" height="10.59" fill="#b40426"/>
<rect x="270.70" y="253.40" width="10.60" height="10.59" fill="#f7bca1"/>
<rect x="281.00" y="253.40" width="10.60" height="10.59" fill="#f0cdbb"/>
<rect x="291.30" y="253.40" width="10.60" height="10.59" fill="#d8dce2"/>
<rect x="301.60" y="253.40" width="10.60" height="10.59" fill="#cedaeb"/>
<rect x="311.90" y="253.40" width="10.60" height="10.59" fill="#cc403a"/>
<rect x="322.20" y="253.40" width="10.60" height="10.59" fill="#f7bca1"/>
<rect x="332.50" y="253.40" width="10.60" height="10.59" fill="#f0cdbb"/>
<rect x="342.80" y="253.40" width="20.90" height="10.59" fill="#cedaeb"/>
<rect x="363.40" y="253.40" width="10.60" height="10.59" fill="#bad0f8"/>
<rect x="373.70" y="253.40" width="20.90" height="10.59" fill="#d8dce2"/>
<rect x="394.30" y="253.40" width="31.20" height="10.59" fill="#96b7ff"/>
<rect x="425.20" y="253.40" width="20.90" height="10.59" fill="#c4d5f3"/>
<rect x="54.40" y="263.69" width="10.60" height="10.59" fill="#a2c1ff"/>
<rect x="64.70" y="263.69" width="10.60" height="10.59" fill="#f6a385"/>
<rect x="75.00" y="263.69" width="10.60" height="10.59" fill="#a2c1ff"/>
<rect x="85.30" y="263.69" width="10.60" height="10.59" fill="#96b7ff"/>
<rect x="95.60" y="263.69" width="10.60" height="10.59" fill="#f0cdbb"/>
<rect x="105.90" y="263.69" width="20.90" height="10.59" fill="#f7bca1"/>
<rect x="126.50" y="263.69" width="10.60" height="10.59" fill="#a2c1ff"/>
<rect x="136.80" y="263.69" width="10.60" height="10.59" fill="#e1dad6"/>
<rect x="147.10" y="263.69" width="20.90" height="10.59" fill="#f7bca1"/>
<rect x="167.70" y="263.69" width="10.60" height="10.59" fill="#f4c6af"/>
<rect x="178.00" y="263.69" width="10.60" height="10.59" fill="#96b7ff"/>
<rect x="188.30" y="263.69" width="10.60" height="10.59" fill="#f7b093"/>
<rect x="198.60" y="263.69" width="10.60" height="10.59" fill="#f7bca1"/>
<rect x="208.90" y="263.69" width="10.60" height="10.59" fill="#f0cdbb"/>
<rect x="219.20" y="263.69" width="10.60" height="10.59" fill="#f7bca1"/>
<rect x="229.50" y="263.69" width="10.60" height="10.59" fill="#bad0f8"/>
<rect x="239.80" y="263.69" width="10.60" height="10.59" fill="#f0cdbb"/>
<rect x="250.10" y="263.69" width="10.60" height="10.59" fill="#f4c6af"/>
<rect x="260.40" y="263.69" width="10.60" height="10.59" fill="#f7bca1"/>
<rect x="270.70" y="263.69" width="10.60" height="10.59" fill="#b40426"/>
<rect x="281.00" y="263.69" width="10.60" height="10.59" fill="#f6a385"/>
<rect x="291.30" y="263.69" width="10.60" height="10.59" fill="#f7bca1"/>
<rect x="301.60" y="263.69" width="10.60" height="10.59" fill="#f0cdbb"/>
<rect x="311.90" y="263.69" width="10.60" height="10.59" fill="#f7bca1"/>
<rect x="322.20" y="263.69" width="10.60" height="10.59" fill="#d75445"/>
<rect x="332.50" y="263.69" width="10.60" height="10.59" fill="#f7b093"/>
<rect x="342.80" y="263.69" width="10.60" height="10.59" fill="#f0cdbb"/>
<rect x="353.10" y="263.69" width="10.60" height="10.59" fill="#e1dad6"/>
<rect x="363.40" y="263.69" width="10.60" height="10.59" fill="#f0cdbb"/>
<rect x="373.70" y="263.69" width="20.90" height="10.59" fill="#f4c6af"/>
<rect x="394.30" y="263.69" width="31.20" height="10.59" fill="#a2c1ff"/>
<rect x="425.20" y="263.69" width="20.90" height="10.59" fill="#cedaeb"/>
<rect x="54.40" y="273.97" width="10.60" height="10.59" fill="#d8dce2"/>
<rect x="64.70" y="273.97" width="10.60" height="10.59" fill="#f6a385"/>
<rect x="75.00" y="273.97" width="10.60" height="10.59" fill="#cedaeb"/>
<rect x="85.30" y="273.97" width="10.60" height="10.59" fill="#bad0f8"/>
<rect x="95.60" y="273.97" width="10.60" height="10.59" fill="#f0cdbb"/>
<rect x="105.90" y="273.97" width="10.60" height="10.59" fill="#f6a385"/>
<rect x="116.20" y="273.97" width="10.60" height="10.59" fill="#f7b093"/>
<rect x="126.50" y="273.97" width="10.60" height="10.59" fill="#cedaeb"/>
<rect x="136.80" y="273.97" width="10.60" height="10.59" fill="#f0cdbb"/>
<rect x="147.10" y="273.97" width="20.90" height="10.59" fill="#f6a385"/>
<rect x="167.70" y="273.97" width="10.60" height="10.59" fill="#f7bca1"/>
<rect x="178.00" y="273.97" width="10.60" height="10.59" fill="#bad0f8"/>
<rect x="188.30" y="273.97" width="10.60" height="10.59" fill="#f39577"/>
<rect x="198.60" y="273.97" width="10.60" height="10.59" fill="#f7b093"/>
<rect x="208.90" y="273.97" width="10.60" height="10.59" fill="#f0cdbb"/>
<rect x="219.20" y="273.97" width="10.60" height="10.59" fill="#f7b093"/>
<rect x="229.50" y="273.97" width="10.60" height="10.59" fill="#ead5c9"/>
<rect x="239.80" y="273.97" width="20.90" height="10.59" fill="#f7b093"/>
<rect x="260.40" y="273.97" width="10.60" height="10.59" fill="#f0cdbb"/>
<rect x="270.70" y="273.97" width="10.60" height="10.59" fill="#f6a385"/>
<rect x="281.00" y="273.97" width="10.60" height="10.59" fill="#b40426"/>
<rect x="291.30" y="273.97" width="10.60" height="10.59" fill="#ee8669"/>
<rect x="301.60" y="273.97" width="10.60" height="10.59" fill="#f6a385"/>
<rect x="311.90" y="273.97" width="10.60" height="10.59" fill="#f0cdbb"/>
<rect x="322.20" y="273.97" width="10.60" height="10.59" fill="#f7b093"/>
<rect x="332.50" y="273.97" width="10.60" height="10.59" fill="#d75445"/>
<rect x="342.80" y="273.97" width="10.60" height="10.59" fill="#f6a385"/>
<rect x="353.10" y="273.97" width="10.60" height="10.59" fill="#f7bca1"/>
<rect x="363.40" y="273.97" width="10.60" height="10.59" fill="#f0cdbb"/>
<rect x="373.70" y="273.97" width="10.60" height="10.59" fill="#f4c6af"/>
<rect x="384.00" y="273.97" width="10.60" height="10.59" fill="#f7bca1"/>
<rect x="394.30" y="273.97" width="10.60" height="10.59" fill="#96b7ff"/>
<rect x="404.60" y="273.97" width="20.90" height="10.59" fill="#a2c1ff"/>
<rect x="425.20" y="273.97" width="10.60" height="10.59" fill="#d8dce2"/>
<rect x="435.50" y="273.97" width="10.60" height="10.59" fill="#cedaeb"/>
<rect x="54.40" y="284.25" width="10.60" height="10.59" fill="#f4c6af"/>
<rect x="64.70" y="284.25" width="10.60" height="10.59" fill="#f7bca1"/>
<rect x="75.00" y="284.25" width="10.60" height="10.59" fill="#f0cdbb"/>
<rect x="85.30" y="284.25" width="10.60" height="10.59" fill="#e1dad6"/>
<rect x="95.60" y="284.25" width="10.60" height="10.59" fill="#cedaeb"/>
<rect x="105.90" y="284.25" width="20.90" height="10.59" fill="#f4c6af"/>
<rect x="126.50" y="284.25" width="10.60" height="10.59" fill="#ead5c9"/>
<rect x="136.80" y="284.25" width="10.60" height="10.59" fill="#e1dad6"/>
<rect x="147.10" y="284.25" width="10.60" height="10.59" fill="#f6a385"/>
<rect x="157.40" y="284.25" width="10.60" height="10.59" fill="#f7b093"/>
<rect x="167.70" y="284.25" width="10.60" height="10.59" fill="#f7bca1"/>
<rect x="178.00" y="284.25" width="10.60" height="10.59" fill="#d8dce2"/>
<rect x="188.30" y="284.25" width="10.60" height="10.59" fill="#f7b093"/>
<rect x="198.60" y="284.25" width="10.60" height="10.59" fill="#f7bca1"/>
<rect x="208.90" y="284.25" width="10.60" height="10.59" fill="#d8dce2"/>
<rect x="219.20" y="284.25" width="20.90" height="10.59" fill="#f4c6af"/>
<rect x="239.80" y="284.25" width="10.60" height="10.59" fill="#f7bca1"/>
<rect x="250.10" y="284.25" width="10.60" height="10.59" fill="#f7b093"/>
<rect x="260.40" y="284.25" width="10.60" height="10.59" fill="#d8dce2"/>
<rect x="270.70" y="284.25" width="10.60" height="10.59" fill="#f7bca1"/>
<rect x="281.00" y="284.25" width="10.60" height="10.59" fill="#ee8669"/>
<rect x="291.30" y="284.25" width="10.60" height="10.59" fill="#b40426"/>
<rect x="301.60" y="284.25" width="10.60" height="10.59" fill="#e16751"/>
<rect x="311.90" y="284.25" width="10.60" height="10.59" fill="#d8dce2"/>
<rect x="322.20" y="284.25" width="10.60" height="10.59" fill="#f4c6af"/>
<rect x="332.50" y="284.25" width="10.60" height="10.59" fill="#f6a385"/>
<rect x="342.80" y="284.25" width="10.60" height="10.59" fill="#e16751"/>
<rect x="353.10" y="284.25" width="10.60" height="10.59" fill="#ee8669"/>
<rect x="363.40" y="284.25" width="10.60" height="10.59" fill="#e1dad6"/>
<rect x="373.70" y="284.25" width="10.60" height="10.59" fill="#f0cdbb"/>
<rect x="384.00" y="284.25" width="10.60" height="10.59" fill="#f4c6af"/>
<rect x="394.30" y="284.25" width="31.20" height="10.59" fill="#a2c1ff"/>
<rect x="425.20" y="284.25" width="20.90" height="10.59" fill="#cedaeb"/>
<rect x="54.40" y="294.54" width="10.60" height="10.59" fill="#f7bca1"/>
<rect x="64.70" y="294.54" width="10.60" height="10.59" fill="#f0cdbb"/>
<rect x="75.00" y="294.54" width="10.60" height="10.59" fill="#f4c6af"/>
<rect x="85.30" y="294.54" width="10.60" height="10.59" fill="#ead5c9"/>
<rect x="95.60" y="294.54" width="10.60" height="10.59" fill="#bad0f8"/>
<rect x="105.90" y="294.54" width="20.90" height="10.59" fill="#ead5c9"/>
<rect x="126.50" y="294.54" width="10.60" height="10.59" fill="#f0cdbb"/>
<rect x="136.80" y="294.54" width="10.60" height="10.59" fill="#d8dce2"/>
<rect x="147.10" y="294.54" width="10.60" height="10.59" fill="#f7b093"/>
<rect x="157.40" y="294.54" width="10.60" height="10.59" fill="#f7bca1"/>
<rect x="167.70" y="294.54" width="10.60" height="10.59" fill="#f4c6af"/>
<rect x="178.00" y="294.54" width="10.60" height="10.59" fill="#e1dad6"/>
<rect x="188.30" y="294.54" width="10.60" height="10.59" fill="#f4c6af"/>
<rect x="198.60" y="294.54" width="10.60" height="10.59" fill="#f0cdbb"/>
<rect x="208.90" y="294.54" width="10.60" height="10.59" fill="#bad0f8"/>
<rect x="219.20" y="294.54" width="10.60" height="10.59" fill="#f0cdbb"/>
<rect x="229.50" y="294.54" width="31.20" height="10.59" fill="#f4c6af"/>
<rect x="260.40" y="294.54" width="10.60" height="10.59" fill="#cedaeb"/>
<rect x="270.70" y="294.54" width="10.60" height="10.59" fill="#f0cdbb"/>
<rect x="281.00" y="294.54" width="10.60" height="10.59" fill="#f6a385"/>
<rect x="291.30" y="294.54" width="10.60" height="10.59" fill="#e16751"/>
<rect x="301.60" y="294.54" width="10.60" height="10.59" fill="#b40426"/>
<rect x="311.90" y="294.54" width="10.60" height="10.59" fill="#c4d5f3"/>
<rect x="322.20" y="294.54" width="10.60" height="10.59" fill="#f0cdbb"/>
<rect x="332.50" y="294.54" width="10.60" height="10.59" fill="#f7bca1"/>
<rect x="342.80" y="294.54" width="10.60" height="10.59" fill="#ee8669"/>
<rect x="353.10" y="294.54" width="10.60" height="10.59" fill="#e16751"/>
<rect x="363.40" y="294.54" width="10.60" height="10.59" fill="#cedaeb"/>
<rect x="373.70" y="294.54" width="10.60" height="10.59" fill="#e1dad6"/>
<rect x="384.00" y="294.54" width="10.60" height="10.59" fill="#ead5c9"/>
<rect x="394.30" y="294.54" width="31.20" height="10.59" fill="#a2c1ff"/>
<rect x="425.20" y="294.54" width="20.90" height="10.59" fill="#c4d5f3"/>
<rect x="54.40" y="304.82" width="10.60" height="10.59" fill="#96b7ff"/>
<rect x="64.70" y="304.82" width="10.60" height="10.59" fill="#d8dce2"/>
<rect x="75.00" y="304.82" width="10.60" height="10.59" fill="#96b7ff"/>
<rect x="85.30" y="304.82" width="10.60" height="10.59" fill="#89acfd"/>
<rect x="95.60" y="304.82" width="31.20" height="10.59" fill="#bad0f8"/>
<rect x="126.50" y="304.82" width="10.60" height="10.59" fill="#96b7ff"/>
<rect x="136.80" y="304.82" width="10.60" height="10.59" fill="#bad0f8"/>
<rect x="147.10" y="304.82" width="10.60" height="10.59" fill="#d8dce2"/>
<rect x="157.40" y="304.82" width="10.60" height="10.59" fill="#cedaeb"/>
<rect x="167.70" y="304.82" width="10.60" height="10.59" fill="#c4d5f3"/>
<rect x="178.00" y="304.82" width="10.60" height="10.59" fill="#89acfd"/>
<rect x="188.30" y="304.82" width="20.90" height="10.59" fill="#cedaeb"/>
<rect x="208.90" y="304.82" width="10.60" height="10.59" fill="#bad0f8"/>
<rect x="219.20" y="304.82" width="10.60" height="10.59" fill="#cedaeb"/>
<rect x="229.50" y="304.82" width="10.60" height="10.59" fill="#7da0f9"/>
<rect x="239.80" y="304.82" width="20.90" height="10.59" fill="#bad0f8"/>
<rect x="260.40" y="304.82" width="10.60" height="10.59" fill="#cc403a"/>
<rect x="270.70" y="304.82" width="10.60" height="10.59" fill="#f7bca1"/>
<rect x="281.00" y="304.82" width="10.60" height="10.59" fill="#f0cdbb"/>
<rect x="291.30" y="304.82" width="10.60" height="10.59" fill="#d8dce2"/>
<rect x="301.60" y="304.82" width="10.60" height="10.59" fill="#c4d5f3"/>
<rect x="311.90" y="304.82" width="10.60" height="10.59" fill="#b40426"/>
<rect x="322.20" y="304.82" width="10.60" height="10.59" fill="#f7bca1"/>
<rect x="332.50" y="304.82" width="10.60" height="10.59" fill="#f0cdbb"/>
<rect x="342.80" y="304.82" width="10.60" height="10.59" fill="#d8dce2"/>
<rect x="353.10" y="304.82" width="10.60" height="10.59" fill="#cedaeb"/>
<rect x="363.40" y="304.82" width="10.60" height="10.59" fill="#bad0f8"/>
<rect x="373.70" y="304.82" width="20.90" height="10.59" fill="#cedaeb"/>
<rect x="394.30" y="304.82" width="10.60" height="10.59" fill="#96b7ff"/>
<rect x="404.60" y="304.82" width="10.60" height="10.59" fill="#89acfd"/>
<rect x="414.90" y="304.82" width="10.60" height="10.59" fill="#a2c1ff"/>
<rect x="425.20" y="304.82" width="20.90" height="10.59" fill="#c4d5f3"/>
<rect x="54.40" y="315.11" width="10.60" height="10.59" fill="#a2c1ff"/>
<rect x="64.70" y="315.11" width="10.60" height="10.59" fill="#f6a385"/>
<rect x="75.00" y="315.11" width="10.60" height="10.59" fill="#a2c1ff"/>
<rect x="85.30" y="315.11" width="10.60" height="10.59" fill="#96b7ff"/>
<rect x="95.60" y="315.11" width="10.60" height="10.59" fill="#f0cdbb"/>
<rect x="105.90" y="315.11" width="10.60" height="10.59" fill="#f7bca1"/>
<rect x="116.20" y="315.11" width="10.60" height="10.59" fill="#f4c6af"/>
<rect x="126.50" y="315.11" width="10.60" height="10.59" fill="#a2c1ff"/>
<rect x="136.80" y="315.11" width="10.60" height="10.59" fill="#e1dad6"/>
<rect x="147.10" y="315.11" width="20.90" height="10.59" fill="#f4c6af"/>
<rect x="167.70" y="315.11" width="10.60" height="10.59" fill="#f0cdbb"/>
<rect x="178.00" y="315.11" width="10.60" height="10.59" fill="#96b7ff"/>
<rect x="188.30" y="315.11" width="10.60" height="10.59" fill="#f7bca1"/>
<rect x="198.60" y="315.11" width="10.60" height="10.59" fill="#f4c6af"/>
<rect x="208.90" y="315.11" width="10.60" height="10.59" fill="#f0cdbb"/>
<rect x="219.20" y="315.11" width="10.60" height="10.59" fill="#f4c6af"/>
<rect x="229.50" y="315.11" width="10.60" height="10.59" fill="#aec9fc"/>
<rect x="239.80" y="315.11" width="10.60" height="10.59" fill="#ead5c9"/>
<rect x="250.10" y="315.11" width="10.60" height="10.59" fill="#f0cdbb"/>
<rect x="260.40" y="315.11" width="10.60" height="10.59" fill="#f7bca1"/>
<rect x="270.70" y="315.11" width="10.60" height="10.59" fill="#d75445"/>
<rect x="281.00" y="315.11" width="10.60" height="10.59" fill="#f7b093"/>
<rect x="291.30" y="315.11" width="10.60" height="10.59" fill="#f4c6af"/>
<rect x="301.60" y="315.11" width="10.60" height="10.59" fill="#f0cdbb"/>
<rect x="311.90" y="315.11" width="10.60" height="10.59" fill="#f7bca1"/>
<rect x="322.20" y="315.11" width="10.60" height="10.59" fill="#b40426"/>
<rect x="332.50" y="315.11" width="10.60" height="10.59" fill="#f6a385"/>
<rect x="342.80" y="315.11" width="10.60" height="10.59" fill="#f7bca1"/>
<rect x="353.10" y="315.11" width="10.60" height="10.59" fill="#f0cdbb"/>
<rect x="363.40" y="315.11" width="10.60" height="10.59" fill="#e1dad6"/>
<rect x="373.70" y="315.11" width="20.90" height="10.59" fill="#f0cdbb"/>
<rect x="394.30" y="315.11" width="31.20" height="10.59" fill="#a2c1ff"/>
<rect x="425.20" y="315.11" width="20.90" height="10.59" fill="#cedaeb"/>
<rect x="54.40" y="325.39" width="10.60" height="10.59" fill="#d8dce2"/>
<rect x="64.70" y="325.39" width="10.60" height="10.59" fill="#f7b093"/>
<rect x="75.00" y="325.39" width="10.60" height="10.59" fill="#cedaeb"/>
<rect x="85.30" y="325.39" width="10.60" height="10.59" fill="#bad0f8"/>
<rect x="95.60" y="325.39" width="10.60" height="10.59" fill="#f0cdbb"/>
<rect x="105.90" y="325.39" width="10.60" height="10.59" fill="#f6a385"/>
<rect x="116.20" y="325.39" width="10.60" height="10.59" fill="#f7bca1"/>
<rect x="126.50" y="325.39" width="10.60" height="10.59" fill="#cedaeb"/>
<rect x="136.80" y="325.39" width="10.60" height="10.59" fill="#f0cdbb"/>
<rect x="147.10" y="325.39" width="20.90" height="10.59" fill="#f7b093"/>
<rect x="167.70" y="325.39" width="10.60" height="10.59" fill="#f7bca1"/>
<rect x="178.00" y="325.39" width="10.60" height="10.59" fill="#bad0f8"/>
<rect x="188.30" y="325.39" width="10.60" height="10.59" fill="#f6a385"/>
<rect x="198.60" y="325.39" width="10.60" height="10.59" fill="#f7bca1"/>
<rect x="208.90" y="325.39" width="10.60" height="10.59" fill="#f0cdbb"/>
<rect x="219.20" y="325.39" width="10.60" height="10.59" fill="#f7bca1"/>
<rect x="229.50" y="325.39" width="10.60" height="10.59" fill="#e1dad6"/>
<rect x="239.80" y="325.39" width="20.90" height="10.59" fill="#f7b093"/>
<rect x="260.40" y="325.39" width="10.60" height="10.59" fill="#f0cdbb"/>
<rect x="270.70" y="325.39" width="10.60" height="10.59" fill="#f7b093"/>
<rect x="281.00" y="325.39" width="10.60" height="10.59" fill="#d75445"/>
<rect x="291.30" y="325.39" width="10.60" height="10.59" fill="#f6a385"/>
<rect x="301.60" y="325.39" width="10.60" height="10.59" fill="#f7bca1"/>
<rect x="311.90" y="325.39" width="10.60" height="10.59" fill="#f0cdbb"/>
<rect x="322.20" y="325.39" width="10.60" height="10.59" fill="#f6a385"/>
<rect x="332.50" y="325.39" width="10.60" height="10.59" fill="#b40426"/>
<rect x="342.80" y="325.39" width="10.60" height="10.59" fill="#ee8669"/>
<rect x="353.10" y="325.39" width="10.60" height="10.59" fill="#f6a385"/>
<rect x="363.40" y="325.39" width="10.60" height="10.59" fill="#e1dad6"/>
<rect x="373.70" y="325.39" width="10.60" height="10.59" fill="#f0cdbb"/>
<rect x="384.00" y="325.39" width="10.60" height="10.59" fill="#f4c6af"/>
<rect x="394.30" y="325.39" width="10.60" height="10.59" fill="#96b7ff"/>
<rect x="404.60" y="325.39" width="20.90" height="10.59" fill="#a2c1ff"/>
<rect x="425.20" y="325.39" width="10.60" height="10.59" fill="#d8dce2"/>
<rect x="435.50" y="325.39" width="10.60" height="10.59" fill="#cedaeb"/>
<rect x="54.40" y="335.68" width="10.60" height="10.59" fill="#f0cdbb"/>
<rect x="64.70" y="335.68" width="10.60" height="10.59" fill="#f4c6af"/>
<rect x="75.00" y="335.68" width="10.60" height="10.59" fill="#f0cdbb"/>
<rect x="85.30" y="335.68" width="10.60" height="10.59" fill="#e1dad6"/>
<rect x="95.60" y="335.68" width="10.60" height="10.59" fill="#cedaeb"/>
<rect x="105.90" y="335.68" width="10.60" height="10.59" fill="#f4c6af"/>
<rect x="116.20" y="335.68" width="10.60" height="10.59" fill="#f0cdbb"/>
<rect x="126.50" y="335.68" width="10.60" height="10.59" fill="#ead5c9"/>
<rect x="136.80" y="335.68" width="10.60" height="10.59" fill="#e1dad6"/>
<rect x="147.10" y="335.68" width="10.60" height="10.59" fill="#f7b093"/>
<rect x="157.40" y="335.68" width="10.60" height="10.59" fill="#f7bca1"/>
<rect x="167.70" y="335.68" width="10.60" height="10.59" fill="#f4c6af"/>
<rect x="178.00" y="335.68" width="10.60" height="10.59" fill="#d8dce2"/>
<rect x="188.30" y="335.68" width="10.60" height="10.59" fill="#f7bca1"/>
<rect x="198.60" y="335.68" width="10.60" height="10.59" fill="#f4c6af"/>
<rect x="208.90" y="335.68" width="10.60" height="10.59" fill="#d8dce2"/>
<rect x="219.20" y="335.68" width="10.60" height="10.59" fill="#f4c6af"/>
<rect x="229.50" y="335.68" width="10.60" height="10.59" fill="#f0cdbb"/>
<rect x="239.80" y="335.68" width="20.90" height="10.59" fill="#f7bca1"/>
<rect x="260.40" y="335.68" width="10.60" height="10.59" fill="#cedaeb"/>
<rect x="270.70" y="335.68" width="10.60" height="10.59" fill="#f0cdbb"/>
<rect x="281.00" y="335.68" width="10.60" height="10.59" fill="#f6a385"/>
<rect x="291.30" y="335.68" width="10.60" height="10.59" fill="#e16751"/>
<rect x="301.60" y="335.68" width="10.60" height="10.59" fill="#ee8669"/>
<rect x="311.90" y="335.68" width="10.60" height="10.59" fill="#d8dce2"/>
<rect x="322.20" y="335.68" width="10.60" height="10.59" fill="#f7bca1"/>
<rect x="332.50" y="335.68" width="10.60" height="10.59" fill="#ee8669"/>
<rect x="342.80" y="335.68" width="10.60" height="10.59" fill="#b40426"/>
<rect x="353.10" y="335.68" width="10.60" height="10.59" fill="#e16751"/>
<rect x="363.40" y="335.68" width="10.60" height="10.59" fill="#d8dce2"/>
<rect x="373.70" y="335.68" width="10.60" height="10.59" fill="#ead5c9"/>
<rect x="384.00" y="335.68" width="10.60" height="10.59" fill="#f0cdbb"/>
<rect x="394.30" y="335.68" width="31.20" height="10.59" fill="#a2c1ff"/>
<rect x="425.20" y="335.68" width="20.90" height="10.59" fill="#cedaeb"/>
<rect x="54.40" y="345.96" width="10.60" height="10.59" fill="#f4c6af"/>
<rect x="64.70" y="345.96" width="20.90" height="10.59" fill="#f0cdbb"/>
<rect x="85.30" y="345.96" width="10.60" height="10.59" fill="#e1dad6"/>
<rect x="95.60" y="345.96" width="10.60" height="10.59" fill="#bad0f8"/>
<rect x="105.90" y="345.96" width="20.90" height="10.59" fill="#ead5c9"/>
<rect x="126.50" y="345.96" width="10.60" height="10.59" fill="#f0cdbb"/>
<rect x="136.80" y="345.96" width="10.60" height="10.59" fill="#d8dce2"/>
<rect x="147.10" y="345.96" width="10.60" height="10.59" fill="#f7bca1"/>
<rect x="157.40" y="345.96" width="10.60" height="10.59" fill="#f4c6af"/>
<rect x="167.70" y="345.96" width="10.60" height="10.59" fill="#f0cdbb"/>
<rect x="178.00" y="345.96" width="10.60" height="10.59" fill="#e1dad6"/>
<rect x="188.30" y="345.96" width="20.90" height="10.59" fill="#f0cdbb"/>
<rect x="208.90" y="345.96" width="10.60" height="10.59" fill="#bad0f8"/>
<rect x="219.20" y="345.96" width="20.90" height="10.59" fill="#f0cdbb"/>
<rect x="239.80" y="345.96" width="20.90" height="10.59" fill="#f4c6af"/>
<rect x="260.40" y="345.96" width="10.60" height="10.59" fill="#cedaeb"/>
<rect x="270.70" y="345.96" width="10.60" height="10.59" fill="#e1dad6"/>
<rect x="281.00" y="345.96" width="10.60" height="10.59" fill="#f7bca1"/>
<rect x="291.30" y="345.96" width="10.60" height="10.59" fill="#ee8669"/>
<rect x="301.60" y="345.96" width="10.60" height="10.59" fill="#e16751"/>
<rect x="311.90" y="345.96" width="10.60" height="10.59" fill="#cedaeb"/>
<rect x="322.20" y="345.96" width="10.60" height="10.59" fill="#f0cdbb"/>
<rect x="332.50" y="345.96" width="10.60" height="10.59" fill="#f6a385"/>
<rect x="342.80" y="345.96" width="10.60" height="10.59" fill="#e16751"/>
<rect x="353.10" y="345.96" width="10.60" height="10.59" fill="#b40426"/>
<rect x="363.40" y="345.96" width="10.60" height="10.59" fill="#cedaeb"/>
<rect x="373.70" y="345.96" width="10.60" height="10.59" fill="#d8dce2"/>
<rect x="384.00" y="345.96" width="10.60" height="10.59" fill="#e1dad6"/>
<rect x="394.30" y="345.96" width="10.60" height="10.59" fill="#a2c1ff"/>
<rect x="404.60" y="345.96" width="10.60" height="10.59" fill="#96b7ff"/>
<rect x="414.90" y="345.96" width="10.60" height="10.59" fill="#a2c1ff"/>
<rect x="425.20" y="345.96" width="20.90" height="10.59" fill="#c4d5f3"/>
<rect x="54.40" y="356.25" width="10.60" height="10.59" fill="#89acfd"/>
<rect x="64.70" y="356.25" width="10.60" height="10.59" fill="#d8dce2"/>
<rect x="75.00" y="356.25" width="10.60" height="10.59" fill="#7da0f9"/>
<rect x="85.30" y="356.25" width="10.60" height="10.59" fill="#7295f4"/>
<rect x="95.60" y="356.25" width="10.60" height="10.59" fill="#f4c6af"/>
<rect x="105.90" y="356.25" width="20.90" height="10.59" fill="#f0cdbb"/>
<rect x="126.50" y="356.25" width="10.60" height="10.59" fill="#7da0f9"/>
<rect x="136.80" y="356.25" width="10.60" height="10.59" fill="#f7bca1"/>
<rect x="147.10" y="356.25" width="10.60" height="10.59" fill="#f0cdbb"/>
<rect x="157.40" y="356.25" width="10.60" height="10.59" fill="#f7bca1"/>
<rect x="167.70" y="356.25" width="10.60" height="10.59" fill="#f18d6f"/>
<rect x="178.00" y="356.25" width="10.60" height="10.59" fill="#85a8fc"/>
<rect x="188.30" y="356.25" width="10.60" height="10.59" fill="#f7bca1"/>
<rect x="198.60" y="356.25" width="10.60" height="10.59" fill="#eb7d62"/>
<rect x="208.90" y="356.25" width="10.60" height="10.59" fill="#e97a5f"/>
<rect x="219.20" y="356.25" width="10.60" height="10.59" fill="#f18d6f"/>
<rect x="229.50" y="356.25" width="31.20" height="10.59" fill="#f0cdbb"/>
<rect x="260.40" y="356.25" width="10.60" height="10.59" fill="#bad0f8"/>
<rect x="270.70" y="356.25" width="20.90" height="10.59" fill="#f0cdbb"/>
<rect x="291.30" y="356.25" width="10.60" height="10.59" fill="#e1dad6"/>
<rect x="301.60" y="356.25" width="10.60" height="10.59" fill="#cedaeb"/>
<rect x="311.90" y="356.25" width="10.60" height="10.59" fill="#bad0f8"/>
<rect x="322.20" y="356.25" width="20.90" height="10.59" fill="#e1dad6"/>
<rect x="342.80" y="356.25" width="10.60" height="10.59" fill="#d8dce2"/>
<rect x="353.10" y="356.25" width="10.60" height="10.59" fill="#cedaeb"/>
<rect x="363.40" y="356.25" width="10.60" height="10.59" fill="#b40426"/>
<rect x="373.70" y="356.25" width="10.60" height="10.59" fill="#f7b093"/>
<rect x="384.00" y="356.25" width="10.60" height="10.59" fill="#f7bca1"/>
<rect x="394.30" y="356.25" width="31.20" height="10.59" fill="#a2c1ff"/>
<rect x="425.20" y="356.25" width="10.60" height="10.59" fill="#f0cdbb"/>
<rect x="435.50" y="356.25" width="10.60" height="10.59" fill="#f4c6af"/>
<rect x="54.40" y="366.53" width="10.60" height="10.59" fill="#a2c1ff"/>
<rect x="64.70" y="366.53" width="10.60" height="10.59" fill="#f4c6af"/>
<rect x="75.00" y="366.53" width="10.60" height="10.59" fill="#a2c1ff"/>
<rect x="85.30" y="366.53" width="10.60" height="10.59" fill="#96b7ff"/>
<rect x="95.60" y="366.53" width="10.60" height="10.59" fill="#d8dce2"/>
<rect x="105.90" y="366.53" width="10.60" height="10.59" fill="#f0cdbb"/>
<rect x="116.20" y="366.53" width="10.60" height="10.59" fill="#ead5c9"/>
<rect x="126.50" y="366.53" width="10.60" height="10.59" fill="#a2c1ff"/>
<rect x="136.80" y="366.53" width="10.60" height="10.59" fill="#d8dce2"/>
<rect x="147.10" y="366.53" width="10.60" height="10.59" fill="#f4c6af"/>
<rect x="157.40" y="366.53" width="10.60" height="10.59" fill="#f7bca1"/>
<rect x="167.70" y="366.53" width="10.60" height="10.59" fill="#f59c7d"/>
<rect x="178.00" y="366.53" width="10.60" height="10.59" fill="#b2ccfb"/>
<rect x="188.30" y="366.53" width="10.60" height="10.59" fill="#f7b093"/>
<rect x="198.60" y="366.53" width="10.60" height="10.59" fill="#ec8165"/>
<rect x="208.90" y="366.53" width="10.60" height="10.59" fill="#f7bca1"/>
<rect x="219.20" y="366.53" width="10.60" height="10.59" fill="#eb7d62"/>
<rect x="229.50" y="366.53" width="10.60" height="10.59" fill="#e1dad6"/>
<rect x="239.80" y="366.53" width="20.90" height="10.59" fill="#f0cdbb"/>
<rect x="260.40" y="366.53" width="10.60" height="10.59" fill="#d8dce2"/>
<rect x="270.70" y="366.53" width="20.90" height="10.59" fill="#f4c6af"/>
<rect x="291.30" y="366.53" width="10.60" height="10.59" fill="#f0cdbb"/>
<rect x="301.60" y="366.53" width="10.60" height="10.59" fill="#e1dad6"/>
<rect x="311.90" y="366.53" width="10.60" height="10.59" fill="#cedaeb"/>
<rect x="322.20" y="366.53" width="20.90" height="10.59" fill="#f0cdbb"/>
<rect x="342.80" y="366.53" width="10.60" height="10.59" fill="#ead5c9"/>
<rect x="353.10" y="366.53" width="10.60" height="10.59" fill="#d8dce2"/>
<rect x="363.40" y="366.53" width="10.60" height="10.59" fill="#f7b093"/>
<rect x="373.70" y="366.53" width="10.60" height="10.59" fill="#b40426"/>
<rect x="384.00" y="366.53" width="10.60" height="10.59" fill="#ee8669"/>
<rect x="394.30" y="366.53" width="10.60" height="10.59" fill="#a2c1ff"/>
<rect x="404.60" y="366.53" width="10.60" height="10.59" fill="#aec9fc"/>
<rect x="414.90" y="366.53" width="10.60" height="10.59" fill="#a2c1ff"/>
<rect x="425.20" y="366.53" width="10.60" height="10.59" fill="#f0cdbb"/>
<rect x="435.50" y="366.53" width="10.60" height="10.59" fill="#f4c6af"/>
<rect x="54.40" y="376.82" width="10.60" height="10.59" fill="#cedaeb"/>
<rect x="64.70" y="376.82" width="10.60" height="10.59" fill="#f7bca1"/>
<rect x="75.00" y="376.82" width="10.60" height="10.59" fill="#cedaeb"/>
<rect x="85.30" y="376.82" width="10.60" height="10.59" fill="#c4d5f3"/>
<rect x="95.60" y="376.82" width="10.60" height="10.59" fill="#cedaeb"/>
<rect x="105.90" y="376.82" width="10.60" height="10.59" fill="#f4c6af"/>
<rect x="116.20" y="376.82" width="10.60" height="10.59" fill="#f0cdbb"/>
<rect x="126.50" y="376.82" width="10.60" height="10.59" fill="#cedaeb"/>
<rect x="136.80" y="376.82" width="10.60" height="10.59" fill="#d8dce2"/>
<rect x="147.10" y="376.82" width="10.60" height="10.59" fill="#f7b093"/>
<rect x="157.40" y="376.82" width="10.60" height="10.59" fill="#f6a385"/>
<rect x="167.70" y="376.82" width="10.60" height="10.59" fill="#f7b093"/>
<rect x="178.00" y="376.82" width="10.60" height="10.59" fill="#d3dbe7"/>
<rect x="188.30" y="376.82" width="20.90" height="10.59" fill="#f39577"/>
<rect x="208.90" y="376.82" width="10.60" height="10.59" fill="#f0cdbb"/>
<rect x="219.20" y="376.82" width="10.60" height="10.59" fill="#e57058"/>
<rect x="229.50" y="376.82" width="10.60" height="10.59" fill="#ead5c9"/>
<rect x="239.80" y="376.82" width="20.90" height="10.59" fill="#f0cdbb"/>
<rect x="260.40" y="376.82" width="10.60" height="10.59" fill="#d8dce2"/>
<rect x="270.70" y="376.82" width="10.60" height="10.59" fill="#f4c6af"/>
<rect x="281.00" y="376.82" width="10.60" height="10.59" fill="#f7bca1"/>
<rect x="291.30" y="376.82" width="10.60" height="10.59" fill="#f4c6af"/>
<rect x="301.60" y="376.82" width="10.60" height="10.59" fill="#ead5c9"/>
<rect x="311.90" y="376.82" width="10.60" height="10.59" fill="#cedaeb"/>
<rect x="322.20" y="376.82" width="10.60" height="10.59" fill="#f0cdbb"/>
<rect x="332.50" y="376.82" width="10.60" height="10.59" fill="#f4c6af"/>
<rect x="342.80" y="376.82" width="10.60" height="10.59" fill="#f0cdbb"/>
<rect x="353.10" y="376.82" width="10.60" height="10.59" fill="#e1dad6"/>
<rect x="363.40" y="376.82" width="10.60" height="10.59" fill="#f7bca1"/>
<rect x="373.70" y="376.82" width="10.60" height="10.59" fill="#ee8669"/>
<rect x="384.00" y="376.82" width="10.60" height="10.59" fill="#b40426"/>
<rect x="394.30" y="376.82" width="31.20" height="10.59" fill="#a2c1ff"/>
<rect x="425.20" y="376.82" width="20.90" height="10.59" fill="#f4c6af"/>
<rect x="54.40" y="387.11" width="20.90" height="10.59" fill="#a2c1ff"/>
<rect x="75.00" y="387.11" width="10.60" height="10.59" fill="#aec9fc"/>
<rect x="85.30" y="387.11" width="20.90" height="10.59" fill="#a2c1ff"/>
<rect x="105.90" y="387.11" width="20.90" height="10.59" fill="#96b7ff"/>
<rect x="126.50" y="387.11" width="93.00" height="10.59" fill="#a2c1ff"/>
<rect x="219.20" y="387.11" width="10.60" height="10.59" fill="#96b7ff"/>
<rect x="229.50" y="387.11" width="20.90" height="10.59" fill="#a2c1ff"/>
<rect x="250.10" y="387.11" width="20.90" height="10.59" fill="#96b7ff"/>
<rect x="270.70" y="387.11" width="10.60" height="10.59" fill="#a2c1ff"/>
<rect x="281.00" y="387.11" width="10.60" height="10.59" fill="#96b7ff"/>
<rect x="291.30" y="387.11" width="20.90" height="10.59" fill="#a2c1ff"/>
<rect x="311.90" y="387.11" width="10.60" height="10.59" fill="#96b7ff"/>
<rect x="322.20" y="387.11" width="10.60" height="10.59" fill="#a2c1ff"/>
<rect x="332.50" y="387.11" width="10.60" height="10.59" fill="#96b7ff"/>
<rect x="342.80" y="387.11" width="51.80" height="10.59" fill="#a2c1ff"/>
<rect x="394.30" y="387.11" width="10.60" height="10.59" fill="#b40426"/>
<rect x="404.60" y="387.11" width="10.60" height="10.59" fill="#aec9fc"/>
<rect x="414.90" y="387.11" width="10.60" height="10.59" fill="#a2c1ff"/>
<rect x="425.20" y="387.11" width="10.60" height="10.59" fill="#96b7ff"/>
<rect x="435.50" y="387.11" width="10.60" height="10.59" fill="#a2c1ff"/>
<rect x="54.40" y="397.39" width="10.60" height="10.59" fill="#a2c1ff"/>
<rect x="64.70" y="397.39" width="20.90" height="10.59" fill="#aec9fc"/>
<rect x="85.30" y="397.39" width="113.60" height="10.59" fill="#a2c1ff"/>
<rect x="198.60" y="397.39" width="10.60" height="10.59" fill="#aec9fc"/>
<rect x="208.90" y="397.39" width="51.80" height="10.59" fill="#a2c1ff"/>
<rect x="260.40" y="397.39" width="10.60" height="10.59" fill="#96b7ff"/>
<rect x="270.70" y="397.39" width="41.50" height="10.59" fill="#a2c1ff"/>
<rect x="311.90" y="397.39" width="10.60" height="10.59" fill="#89acfd"/>
<rect x="322.20" y="397.39" width="31.20" height="10.59" fill="#a2c1ff"/>
<rect x="353.10" y="397.39" width="10.60" height="10.59" fill="#96b7ff"/>
<rect x="363.40" y="397.39" width="10.60" height="10.59" fill="#a2c1ff"/>
<rect x="373.70" y="397.39" width="10.60" height="10.59" fill="#aec9fc"/>
<rect x="384.00" y="397.39" width="10.60" height="10.59" fill="#a2c1ff"/>
<rect x="394.30" y="397.39" width="10.60" height="10.59" fill="#aec9fc"/>
<rect x="404.60" y="397.39" width="10.60" height="10.59" fill="#b40426"/>
<rect x="414.90" y="397.39" width="10.60" height="10.59" fill="#aec9fc"/>
<rect x="425.20" y="397.39" width="20.90" height="10.59" fill="#a2c1ff"/>
<rect x="54.40" y="407.68" width="10.60" height="10.59" fill="#a2c1ff"/>
<rect x="64.70" y="407.68" width="10.60" height="10.59" fill="#aec9fc"/>
<rect x="75.00" y="407.68" width="20.90" height="10.59" fill="#a2c1ff"/>
<rect x="95.60" y="407.68" width="10.60" height="10.59" fill="#89acfd"/>
<rect x="105.90" y="407.68" width="20.90" height="10.59" fill="#a2c1ff"/>
<rect x="126.50" y="407.68" width="10.60" height="10.59" fill="#aec9fc"/>
<rect x="136.80" y="407.68" width="10.60" height="10.59" fill="#96b7ff"/>
<rect x="147.10" y="407.68" width="31.20" height="10.59" fill="#a2c1ff"/>
<rect x="178.00" y="407.68" width="10.60" height="10.59" fill="#c9d7f0"/>
<rect x="188.30" y="407.68" width="20.90" height="10.59" fill="#a2c1ff"/>
<rect x="208.90" y="407.68" width="10.60" height="10.59" fill="#96b7ff"/>
<rect x="219.20" y="407.68" width="10.60" height="10.59" fill="#a2c1ff"/>
<rect x="229.50" y="407.68" width="10.60" height="10.59" fill="#bad0f8"/>
<rect x="239.80" y="407.68" width="20.90" height="10.59" fill="#a2c1ff"/>
<rect x="260.40" y="407.68" width="10.60" height="10.59" fill="#96b7ff"/>
<rect x="270.70" y="407.68" width="134.20" height="10.59" fill="#a2c1ff"/>
<rect x="404.60" y="407.68" width="10.60" height="10.59" fill="#aec9fc"/>
<rect x="414.90" y="407.68" width="10.60" height="10.59" fill="#b40426"/>
<rect x="425.20" y="407.68" width="20.90" height="10.59" fill="#a2c1ff"/>
<rect x="54.40" y="417.96" width="10.60" height="10.59" fill="#aec9fc"/>
<rect x="64.70" y="417.96" width="10.60" height="10.59" fill="#cedaeb"/>
<rect x="75.00" y="417.96" width="20.90" height="10.59" fill="#a2c1ff"/>
<rect x="95.60" y="417.96" width="10.60" height="10.59" fill="#aec9fc"/>
<rect x="105.90" y="417.96" width="20.90" height="10.59" fill="#cedaeb"/>
<rect x="126.50" y="417.96" width="20.90" height="10.59" fill="#a2c1ff"/>
<rect x="147.10" y="417.96" width="10.60" height="10.59" fill="#e1dad6"/>
<rect x="157.40" y="417.96" width="10.60" height="10.59" fill="#ebd3c6"/>
<rect x="167.70" y="417.96" width="10.60" height="10.59" fill="#e6d7cf"/>
<rect x="178.00" y="417.96" width="10.60" height="10.59" fill="#b2ccfb"/>
<rect x="188.30" y="417.96" width="10.60" height="10.59" fill="#ead5c9"/>
<rect x="198.60" y="417.96" width="10.60" height="10.59" fill="#f2cbb7"/>
<rect x="208.90" y="417.96" width="10.60" height="10.59" fill="#d8dce2"/>
<rect x="219.20" y="417.96" width="10.60" height="10.59" fill="#f4c6af"/>
<rect x="229.50" y="417.96" width="10.60" height="10.59" fill="#d8dce2"/>
<rect x="239.80" y="417.96" width="20.90" height="10.59" fill="#cedaeb"/>
<rect x="260.40" y="417.96" width="10.60" height="10.59" fill="#c4d5f3"/>
<rect x="270.70" y="417.96" width="10.60" height="10.59" fill="#cedaeb"/>
<rect x="281.00" y="417.96" width="10.60" height="10.59" fill="#d8dce2"/>
<rect x="291.30" y="417.96" width="10.60" height="10.59" fill="#cedaeb"/>
<rect x="301.60" y="417.96" width="20.90" height="10.59" fill="#c4d5f3"/>
<rect x="322.20" y="417.96" width="10.60" height="10.59" fill="#cedaeb"/>
<rect x="332.50" y="417.96" width="10.60" height="10.59" fill="#d8dce2"/>
<rect x="342.80" y="417.96" width="10.60" height="10.59" fill="#cedaeb"/>
<rect x="353.10" y="417.96" width="10.60" height="10.59" fill="#c4d5f3"/>
<rect x="363.40" y="417.96" width="20.90" height="10.59" fill="#f0cdbb"/>
<rect x="384.00" y="417.96" width="10.60" height="10.59" fill="#f4c6af"/>
<rect x="394.30" y="417.96" width="10.60" height="10.59" fill="#96b7ff"/>
<rect x="404.60" y="417.96" width="20.90" height="10.59" fill="#a2c1ff"/>
<rect x="425.20" y="417.96" width="10.60" height="10.59" fill="#b40426"/>
<rect x="435.50" y="417.96" width="10.60" height="10.59" fill="#d75445"/>
<rect x="54.40" y="428.25" width="10.60" height="10.59" fill="#96b7ff"/>
<rect x="64.70" y="428.25" width="10.60" height="10.59" fill="#cedaeb"/>
<rect x="75.00" y="428.25" width="20.90" height="10.59" fill="#96b7ff"/>
<rect x="95.60" y="428.25" width="10.60" height="10.59" fill="#d8dce2"/>
<rect x="105.90" y="428.25" width="20.90" height="10.59" fill="#cedaeb"/>
<rect x="126.50" y="428.25" width="10.60" height="10.59" fill="#96b7ff"/>
<rect x="136.80" y="428.25" width="10.60" height="10.59" fill="#cedaeb"/>
<rect x="147.10" y="428.25" width="10.60" height="10.59" fill="#e1dad6"/>
<rect x="157.40" y="428.25" width="20.90" height="10.59" fill="#e6d7cf"/>
<rect x="178.00" y="428.25" width="10.60" height="10.59" fill="#89acfd"/>
<rect x="188.30" y="428.25" width="10.60" height="10.59" fill="#e1dad6"/>
<rect x="198.60" y="428.25" width="10.60" height="10.59" fill="#f4c6af"/>
<rect x="208.90" y="428.25" width="10.60" height="10.59" fill="#f6bfa6"/>
<rect x="219.20" y="428.25" width="10.60" height="10.59" fill="#f7bca1"/>
<rect x="229.50" y="428.25" width="10.60" height="10.59" fill="#cedaeb"/>
<rect x="239.80" y="428.25" width="10.60" height="10.59" fill="#d8dce2"/>
<rect x="250.10" y="428.25" width="10.60" height="10.59" fill="#cedaeb"/>
<rect x="260.40" y="428.25" width="10.60" height="10.59" fill="#c4d5f3"/>
<rect x="270.70" y="428.25" width="31.20" height="10.59" fill="#cedaeb"/>
<rect x="301.60" y="428.25" width="20.90" height="10.59" fill="#c4d5f3"/>
<rect x="322.20" y="428.25" width="31.20" height="10.59" fill="#cedaeb"/>
<rect x="353.10" y="428.25" width="10.60" height="10.59" fill="#c4d5f3"/>
<rect x="363.40" y="428.25" width="31.20" height="10.59" fill="#f4c6af"/>
<rect x="394.30" y="428.25" width="31.20" height="10.59" fill="#a2c1ff"/>
<rect x="425.20" y="428.25" width="10.60" height="10.59" fill="#d75445"/>
<rect x="435.50" y="428.25" width="10.60" height="10.59" fill="#b40426"/>
</g>
<rect x="445.80" y="40" width="1" height="399.53" fill="#fff"/>
<rect x="54.40" y="438.53" width="392.40" height="1" fill="#fff"/>
<rect x="446.1" y="47.70" width="9.4" height="10.48" fill="#9e3232"/>
<rect x="446.1" y="57.98" width="9.4" height="10.48" fill="#2d9f37"/>
<rect x="446.1" y="68.27" width="9.4" height="10.48" fill="#9e3232"/>
<rect x="446.1" y="78.56" width="9.4" height="10.48" fill="#9e3232"/>
<rect x="446.1" y="88.84" width="9.4" height="10.48" fill="#2d9f37"/>
<rect x="446.1" y="99.12" width="9.4" height="10.48" fill="#2d9f37"/>
<rect x="446.1" y="109.41" width="9.4" height="10.48" fill="#2d9f37"/>
<rect x="446.1" y="119.70" width="9.4" height="10.48" fill="#9e3232"/>
<rect x="446.1" y="129.98" width="9.4" height="10.48" fill="#2d9f37"/>
<rect x="446.1" y="140.26" width="9.4" height="10.48" fill="#2d9f37"/>
<rect x="446.1" y="150.55" width="9.4" height="10.48" fill="#2d9f37"/>
<rect x="446.1" y="160.84" width="9.4" height="10.48" fill="#2d9f37"/>
<rect x="446.1" y="171.12" width="9.4" height="10.48" fill="#9e3232"/>
<rect x="446.1" y="181.41" width="9.4" height="10.48" fill="#2d9f37"/>
<rect x="446.1" y="191.69" width="9.4" height="10.48" fill="#2d9f37"/>
<rect x="446.1" y="201.98" width="9.4" height="10.48" fill="#2d9f37"/>
<rect x="446.1" y="212.26" width="9.4" height="10.48" fill="#2d9f37"/>
<rect x="446.1" y="222.55" width="9.4" height="10.48" fill="#2d9f37"/>
<rect x="446.1" y="232.83" width="9.4" height="10.48" fill="#2d9f37"/>
<rect x="446.1" y="243.12" width="9.4" height="10.48" fill="#2d9f37"/>
<text x="450.6" y="58.5" font-size="11" text-anchor="middle" fill="#222">*</text>
<text x="450.6" y="190" font-size="9" text-anchor="middle" fill="#1c2a6b">†</text>
<line x1="198.6" y1="40" x2="198.6" y2="450.5" stroke="#a9a9a9" stroke-width="0.9"/>
<line x1="260.40" y1="40.00" x2="260.40" y2="438.53" stroke="#111" stroke-width="1.35"/>
<line x1="54.40" y1="253.40" x2="445.80" y2="253.40" stroke="#111" stroke-width="1.35"/>
<line x1="311.90" y1="47.70" x2="311.90" y2="438.53" stroke="#111" stroke-width="1.35"/>
<line x1="54.40" y1="304.82" x2="445.80" y2="304.82" stroke="#111" stroke-width="1.35"/>
<line x1="363.40" y1="47.70" x2="363.40" y2="438.53" stroke="#111" stroke-width="1.35"/>
<line x1="54.40" y1="356.25" x2="445.80" y2="356.25" stroke="#111" stroke-width="1.35"/>
<line x1="394.30" y1="47.70" x2="394.30" y2="438.53" stroke="#111" stroke-width="1.35"/>
<line x1="54.40" y1="387.11" x2="445.80" y2="387.11" stroke="#111" stroke-width="1.35"/>
<line x1="425.20" y1="47.70" x2="425.20" y2="438.53" stroke="#111" stroke-width="1.35"/>
<line x1="54.40" y1="417.96" x2="445.80" y2="417.96" stroke="#111" stroke-width="1.35"/>
<rect x="54.40" y="40" width="51.50" height="7.70" fill="#000"/>
<rect x="105.90" y="40.5" width="72.10" height="7.30" fill="#fff" stroke="#000" stroke-width="0.7"/>
<rect x="178.00" y="40" width="20.60" height="7.70" fill="#000"/>
<rect x="198.60" y="40" width="30.90" height="7.70" fill="#bdbdbd"/>
<rect x="229.50" y="40" width="30.90" height="7.70" fill="#000"/>
<text x="95.8" y="11.1" font-size="11.6" fill="#222" textLength="127" lengthAdjust="spacingAndGlyphs">Distance to river Mur [m]</text>
<text x="28.2" y="32" font-size="20.5" fill="#111" font-weight="bold" stroke="#111" stroke-width="0.5">a</text>
<text transform="translate(57,38.5) rotate(-45)" font-size="10" fill="#222" textLength="29.5" lengthAdjust="spacingAndGlyphs">-2950</text>
<text transform="translate(109,38.5) rotate(-45)" font-size="10" fill="#222" textLength="29.5" lengthAdjust="spacingAndGlyphs">-1400</text>
<text transform="translate(180.8,38.5) rotate(-45)" font-size="10" fill="#222" textLength="23.5" lengthAdjust="spacingAndGlyphs">-500</text>
<text transform="translate(235,38.5) rotate(-45)" font-size="10" fill="#222" textLength="20" lengthAdjust="spacingAndGlyphs">540</text>
<text transform="translate(257.6,38.5) rotate(-45)" font-size="10" fill="#222" textLength="26" lengthAdjust="spacingAndGlyphs">1200</text>
<text x="265.2" y="46.8" font-size="10.4" text-anchor="middle" fill="#222">1</text>
<text x="275.6" y="46.8" font-size="10.4" text-anchor="middle" fill="#222">3</text>
<text x="285.9" y="46.8" font-size="10.4" text-anchor="middle" fill="#222">6</text>
<text x="297.3" y="46.8" font-size="10.4" text-anchor="middle" fill="#222">9</text>
<text x="305.8" y="46.8" font-size="10.4" text-anchor="middle" fill="#222" textLength="10" lengthAdjust="spacingAndGlyphs">12</text>
<text x="316.8" y="46.8" font-size="10.4" text-anchor="middle" fill="#c9c9c9">1</text>
<text x="327.1" y="46.8" font-size="10.4" text-anchor="middle" fill="#c9c9c9">3</text>
<text x="337.3" y="46.8" font-size="10.4" text-anchor="middle" fill="#c9c9c9">6</text>
<text x="348.8" y="46.8" font-size="10.4" text-anchor="middle" fill="#c9c9c9">9</text>
<text x="357.2" y="46.8" font-size="10.4" text-anchor="middle" fill="#c9c9c9" textLength="10" lengthAdjust="spacingAndGlyphs">12</text>
<text x="288.6" y="36.3" font-size="10.6" text-anchor="middle" fill="#222" textLength="14.8" lengthAdjust="spacingAndGlyphs">SPI</text>
<text x="338.3" y="36.3" font-size="10.6" text-anchor="middle" fill="#c9c9c9" textLength="20" lengthAdjust="spacingAndGlyphs">SPEI</text>
<text x="378.4" y="36.3" font-size="10.6" text-anchor="middle" fill="#222" textLength="19.5" lengthAdjust="spacingAndGlyphs">SRSI</text>
<text x="422.3" y="36.3" font-size="10.6" text-anchor="middle" fill="#222" textLength="45.5" lengthAdjust="spacingAndGlyphs">rand SRSI</text>
<text x="367.9" y="46.8" font-size="10.4" text-anchor="middle" fill="#222">T</text>
<text x="378.2" y="46.8" font-size="10.4" text-anchor="middle" fill="#222">U</text>
<text x="388.5" y="46.8" font-size="10.4" text-anchor="middle" fill="#222">D</text>
<text x="398.8" y="46.8" font-size="10.4" text-anchor="middle" fill="#222">a</text>
<text x="408.2" y="46.8" font-size="10.4" text-anchor="middle" fill="#222">b</text>
<text x="417.4" y="46.8" font-size="10.4" text-anchor="middle" fill="#222">c</text>
<text x="428.2" y="46.8" font-size="10.4" text-anchor="middle" fill="#222" textLength="11.2" lengthAdjust="spacingAndGlyphs">D1</text>
<text x="441.5" y="46.8" font-size="10.4" text-anchor="middle" fill="#222" textLength="13.6" lengthAdjust="spacingAndGlyphs">D2</text>
<text x="195.3" y="449.2" font-size="11" text-anchor="end" fill="#222" textLength="50" lengthAdjust="spacingAndGlyphs">Left shore</text>
<text x="200.2" y="449.2" font-size="11" fill="#222" textLength="57" lengthAdjust="spacingAndGlyphs">Right shore</text>
<defs><linearGradient id="cb" x1="0" y1="0" x2="0" y2="1">
<stop offset="0.0000" stop-color="#b40426"/>
<stop offset="0.0312" stop-color="#be242e"/>
<stop offset="0.0625" stop-color="#ca3b37"/>
<stop offset="0.0938" stop-color="#d44e41"/>
<stop offset="0.1250" stop-color="#dd5f4b"/>
<stop offset="0.1562" stop-color="#e46e56"/>
<stop offset="0.1875" stop-color="#eb7d62"/>
<stop offset="0.2188" stop-color="#f08b6e"/>
<stop offset="0.2500" stop-color="#f4987a"/>
<stop offset="0.2812" stop-color="#f6a586"/>
<stop offset="0.3125" stop-color="#f7b093"/>
<stop offset="0.3438" stop-color="#f7ba9f"/>
<stop offset="0.3750" stop-color="#f5c4ac"/>
<stop offset="0.4062" stop-color="#f1ccb8"/>
<stop offset="0.4375" stop-color="#ecd3c5"/>
<stop offset="0.4688" stop-color="#e5d8d1"/>
<stop offset="0.5000" stop-color="#dddcdc"/>
<stop offset="0.5312" stop-color="#d5dbe5"/>
<stop offset="0.5625" stop-color="#ccd9ed"/>
<stop offset="0.5938" stop-color="#c3d5f4"/>
<stop offset="0.6250" stop-color="#b9d0f9"/>
<stop offset="0.6562" stop-color="#aec9fc"/>
<stop offset="0.6875" stop-color="#a3c2fe"/>
<stop offset="0.7188" stop-color="#98b9ff"/>
<stop offset="0.7500" stop-color="#8db0fe"/>
<stop offset="0.7812" stop-color="#82a6fb"/>
<stop offset="0.8125" stop-color="#779af7"/>
<stop offset="0.8438" stop-color="#6c8ff1"/>
<stop offset="0.8750" stop-color="#6180e9"/>
<stop offset="0.9062" stop-color="#5875e1"/>
<stop offset="0.9375" stop-color="#4e68d8"/>
<stop offset="0.9688" stop-color="#445acc"/>
<stop offset="1.0000" stop-color="#3b4cc0"/>
</linearGradient></defs>
<rect x="1.8" y="47.6" width="19.2" height="386.7" fill="url(#cb)" stroke="#555" stroke-width="0.4"/>
<text x="23.6" y="52.2" font-size="11" fill="#222">1</text>
<text x="23.6" y="78.9" font-size="11" fill="#222">0.90</text>
<text x="23.6" y="118.9" font-size="11" fill="#222">0.75</text>
<text x="23.6" y="158.9" font-size="11" fill="#222">0.60</text>
<text x="23.6" y="198.9" font-size="11" fill="#222">0.45</text>
<text x="23.6" y="238.9" font-size="11" fill="#222">0.30</text>
<text x="23.6" y="278.9" font-size="11" fill="#222">0.15</text>
<text x="23.6" y="318.9" font-size="11" fill="#222">0.00</text>
<text x="23.6" y="358.9" font-size="11" fill="#222">-0.15</text>
<text x="23.6" y="398.9" font-size="11" fill="#222">-0.30</text>
<text x="23.6" y="438.9" font-size="11" fill="#222">-0.45</text>
<clipPath id="cpb"><rect x="472.7" y="48.9" width="197.2" height="156.5"/></clipPath>
<g clip-path="url(#cpb)">
<path d="M474.6 65.5 L475 69.5 L475.3 78.6 L475.7 83 L476 77.5 L476.4 65.8 L476.7 66.3 L477.1 78.1 L477.4 95.4 L477.8 86.4 L478.1 74.8 L478.5 83.6 L478.8 81.5 L479.2 69.5 L479.5 72.1 L479.9 75.5 L480.2 111 L480.6 117.4 L480.9 139.7 L481.3 124.7 L481.6 131.5 L481.9 107.6 L482.3 98.6 L482.6 81.9 L483 106.2 L483.3 110.3 L483.7 108 L484 78.8 L484.4 93.1 L484.7 103.1 L485.1 121.9 L485.4 121.8 L485.8 104.5 L486.1 106.4 L486.5 93.2 L486.8 89.6 L487.2 81 L487.5 79.1 L487.9 81.4 L488.2 78.4 L488.5 95 L488.9 99.9 L489.2 93.1 L489.6 101.1 L489.9 95.7 L490.3 113.9 L490.6 97.1 L491 80.3 L491.3 67.6 L491.7 66.8 L492 89.8 L492.4 90.3 L492.7 84.9 L493.1 82.3 L493.4 97.1 L493.8 90.8 L494.1 86.2 L494.5 96.1 L494.8 97 L495.2 112.3 L495.5 97.2 L495.8 108.2 L496.2 104.4 L496.5 112.1 L496.9 90.2 L497.2 77.7 L497.6 97.8 L497.9 121.5 L498.3 132.3 L498.6 139.5 L499 130.9 L499.3 133.6 L499.7 90.5 L500 72.2 L500.4 74.8 L500.7 90.4 L501.1 107 L501.4 91.3 L501.8 99.3 L502.1 104.6 L502.4 119.9 L502.8 116.4 L503.1 111.2 L503.5 123.5 L503.8 116.8 L504.2 115.4 L504.5 88.1 L504.9 78.7 L505.2 78.7 L505.6 88.8 L505.9 107.7 L506.3 99.4 L506.6 111.6 L507 100.9 L507.3 122.3 L507.7 114.4 L508 133.6 L508.4 137.9 L508.7 140.8 L509.1 137.2 L509.4 113.6 L509.7 91.1 L510.1 98.5 L510.4 110.3 L510.8 138.9 L511.1 122.9 L511.5 116.4 L511.8 113.7 L512.2 106.1 L512.5 91 L512.9 99.2 L513.2 108.6 L513.6 115.5 L513.9 123.9 L514.3 125.7 L514.6 141.9 L515 120.8 L515.3 121.2 L515.7 110.2 L516 122.6 L516.3 119.3 L516.7 137.1 L517 142.4 L517.4 136.2 L517.7 140.9 L518.1 125.9 L518.4 157.3 L518.8 130.5 L519.1 150.9 L519.5 125.1 L519.8 128.6 L520.2 130.7 L520.5 119.6 L520.9 98.7 L521.2 83.5 L521.6 98.8 L521.9 120 L522.3 137.5 L522.6 128.3 L523 138.3 L523.3 132.1 L523.6 154.2 L524 151.1 L524.3 158.6 L524.7 129.4 L525 117.6 L525.4 93.8 L525.7 106.9 L526.1 116.2 L526.4 134.6 L526.8 148.6 L527.1 143 L527.5 147.4 L527.8 143.2 L528.2 156.7 L528.5 156.3 L528.9 128.2 L529.2 115.6 L529.6 114.2 L529.9 129.3 L530.2 108.8 L530.6 120.4 L530.9 132.4 L531.3 161 L531.6 171.2 L532 159 L532.3 145.4 L532.7 120.7 L533 130.6 L533.4 117.7 L533.7 125.6 L534.1 113.5 L534.4 137.9 L534.8 149.6 L535.1 139.4 L535.5 137.4 L535.8 121 L536.2 135.7 L536.5 132.5 L536.9 135.9 L537.2 122.9 L537.5 116.8 L537.9 108.2 L538.2 115.8 L538.6 101.4 L538.9 98.3 L539.3 99.4 L539.6 124.3 L540 152.6 L540.3 142.7 L540.7 122.8 L541 103.6 L541.4 101.4 L541.7 95.8 L542.1 81 L542.4 80.6 L542.8 95.7 L543.1 95 L543.5 125 L543.8 116.6 L544.1 132.4 L544.5 110.7 L544.8 92.1 L545.2 77.4 L545.5 93.9 L545.9 130.7 L546.2 131.4 L546.6 132.9 L546.9 121.2 L547.3 125.5 L547.6 139.6 L548 168.4 L548.3 179.6 L548.7 164.8 L549 136.3 L549.4 135.7 L549.7 138.8 L550.1 150.1 L550.4 147.2 L550.8 149.6 L551.1 154.3 L551.4 152.7 L551.8 149.8 L552.1 134.4 L552.5 149.7 L552.8 160 L553.2 170 L553.5 163.7 L553.9 146.4 L554.2 136.9 L554.6 123.7 L554.9 121.2 L555.3 91 L555.6 117.6 L556 118.3 L556.3 149.8 L556.7 134.7 L557 160.5 L557.4 163.1 L557.7 147.7 L558 126 L558.4 115 L558.7 123.6 L559.1 111.8 L559.4 116.3 L559.8 141.4 L560.1 169.3 L560.5 197.5 L560.8 213.5 L561.2 208.1 L561.5 168.1 L561.9 126.2 L562.2 127.8 L562.6 146.5 L562.9 133.6 L563.3 119.4 L563.6 110.3 L564 130.5 L564.3 137.2 L564.7 136 L565 132.8 L565.3 127.8 L565.7 146.9 L566 140.5 L566.4 145 L566.7 115.1 L567.1 133.9 L567.4 127.2 L567.8 141.5 L568.1 148 L568.5 132.7 L568.8 123.1 L569.2 112.5 L569.5 128 L569.9 132.3 L570.2 151.3 L570.6 151.3 L570.9 147.8 L571.3 118 L571.6 131.1 L571.9 135.4 L572.3 145.4 L572.6 126 L573 125.4 L573.3 126.8 L573.7 123 L574 127.4 L574.4 126.3 L574.7 158.5 L575.1 130.2 L575.4 109.5 L575.8 81.8 L576.1 94.1 L576.5 108.4 L576.8 121.6 L577.2 136 L577.5 147.2 L577.9 145.4 L578.2 120.9 L578.6 107.9 L578.9 103.1 L579.2 121.1 L579.6 127.2 L579.9 109.1 L580.3 102 L580.6 100.7 L581 128 L581.3 149.5 L581.7 154.2 L582 138.8 L582.4 128.2 L582.7 125.8 L583.1 131.9 L583.4 121.5 L583.8 129.5 L584.1 133.3 L584.5 147.1 L584.8 124.7 L585.2 137.1 L585.5 126.6 L585.8 121.7 L586.2 116.5 L586.5 123.7 L586.9 134.1 L587.2 124.1 L587.6 121 L587.9 115.1 L588.3 93.8 L588.6 89.8 L589 103.8 L589.3 144.8 L589.7 141 L590 155.4 L590.4 159.2 L590.7 145 L591.1 134.5 L591.4 103.1 L591.8 96.3 L592.1 81.8 L592.5 83.3 L592.8 82.4 L593.1 95.9 L593.5 115.9 L593.8 157.5 L594.2 157.3 L594.5 135.1 L594.9 103.7 L595.2 111.2 L595.6 131.9 L595.9 141.5 L596.3 125.9 L596.6 116.9 L597 113.1 L597.3 121 L597.7 128.1 L598 139.1 L598.4 141.3 L598.7 136.3 L599.1 127.4 L599.4 105.6 L599.7 90.8 L600.1 92.8 L600.4 127.8 L600.8 130.7 L601.1 157.2 L601.5 159.1 L601.8 162 L602.2 135.2 L602.5 123.7 L602.9 153.9 L603.2 164.5 L603.6 163.5 L603.9 130.1 L604.3 95.3 L604.6 84.5 L605 97.2 L605.3 143.3 L605.7 149.9 L606 149.4 L606.4 155.2 L606.7 159.4 L607 167.5 L607.4 136.6 L607.7 122.2 L608.1 90.5 L608.4 105.5 L608.8 108.3 L609.1 123.9 L609.5 123.6 L609.8 139.5 L610.2 159.1 L610.5 175.6 L610.9 167.8 L611.2 152.2 L611.6 133.8 L611.9 124.7 L612.3 135.1 L612.6 141.1 L613 145.2 L613.3 125.3 L613.6 121.7 L614 119.4 L614.3 127.9 L614.7 141.5 L615 167.7 L615.4 162.5 L615.7 135.6 L616.1 142.8 L616.4 129.6 L616.8 123.2 L617.1 84 L617.5 105.4 L617.8 117.4 L618.2 149.7 L618.5 122.7 L618.9 128.3 L619.2 102.8 L619.6 138.2 L619.9 129.5 L620.3 159.1 L620.6 149.8 L620.9 132.2 L621.3 128.7 L621.6 108.7 L622 120.3 L622.3 125.3 L622.7 149.8 L623 162.9 L623.4 156.3 L623.7 155.1 L624.1 155.5 L624.4 153.8 L624.8 152.9 L625.1 151.6 L625.5 150.3 L625.8 130.1 L626.2 134.8 L626.5 139.8 L626.9 162.7 L627.2 163.3 L627.5 156.1 L627.9 154.7 L628.2 122.7 L628.6 136.9 L628.9 120.6 L629.3 134.7 L629.6 131.4 L630 127 L630.3 133.3 L630.7 122.6 L631 136.3 L631.4 154.6 L631.7 163.1 L632.1 162.6 L632.4 137.9 L632.8 140 L633.1 135.4 L633.5 161.2 L633.8 136.3 L634.2 154.5 L634.5 157.2 L634.8 169.8 L635.2 151.7 L635.5 153.6 L635.9 168.1 L636.2 188.1 L636.6 182.7 L636.9 160.8 L637.3 155.5 L637.6 147.2 L638 138.4 L638.3 138.5 L638.7 130.8 L639 155 L639.4 166.2 L639.7 197.3 L640.1 167.1 L640.4 159 L640.8 129.2 L641.1 144.8 L641.4 133.3 L641.8 128.7 L642.1 102.3 L642.5 116.1 L642.8 139.9 L643.2 176.8 L643.5 187.6 L643.9 166.3 L644.2 148.5 L644.6 146 L644.9 163.4 L645.3 172.3 L645.6 138.7 L646 149.6 L646.3 134.5 L646.7 164.9 L647 124.7 L647.4 148.4 L647.7 146.3 L648.1 178.5 L648.4 182.1 L648.7 160.9 L649.1 133.4 L649.4 119.6 L649.8 138.5 L650.1 160.1 L650.5 158.5 L650.8 152.4 L651.2 132.9 L651.5 135.7 L651.9 153.8 L652.2 157.3 L652.6 160.1 L652.9 132.1 L653.3 108.3 L653.6 103.4 L654 118.5 L654.3 136.1 L654.7 136.8 L655 140 L655.3 140.7 L655.7 149.9 L656 140.8 L656.4 148.9 L656.7 136.9 L657.1 143.7 L657.4 150 L657.8 156.8 L658.1 150.9 L658.5 146.6 L658.8 131.2 L659.2 125.4 L659.5 150.8 L659.9 158.8 L660.2 180 L660.6 176.2 L660.9 184.6 L661.3 193.7 L661.6 182.3 L662 169.6 L662.3 142 L662.6 140.4 L663 145.9 L663.3 153.7 L663.7 158.9 L664 164.6 L664.4 159.8 L664.7 177.5 L665.1 171.6 L665.4 171.3 L665.8 151.8 L666.1 155.8 L666.5 145.1 L666.8 157.4 L667.2 144.4 L667.5 146.7 L667.9 128.4 L668.2 135.2 L668.6 151.4 L668.9 162.6 L669.2 163.4 L669.6 153.7" fill="none" stroke="#a6d4a6" stroke-width="0.7" stroke-linejoin="round" stroke-dasharray="1 0.6"/>
<path d="M474.6 72.4 L475 78.7 L475.3 82.7 L475.7 86.4 L476 86.2 L476.4 92.7 L476.7 85.4 L477.1 93.6 L477.4 102.2 L477.8 101.9 L478.1 106.9 L478.5 103.7 L478.8 99.4 L479.2 93.3 L479.5 101.1 L479.9 99.7 L480.2 83.6 L480.6 78.6 L480.9 70.2 L481.3 65.5 L481.6 61 L481.9 59.9 L482.3 56.1 L482.6 53.9 L483 60.4 L483.3 66.5 L483.7 73.3 L484 80.2 L484.4 96.1 L484.7 104.7 L485.1 108.5 L485.4 105 L485.8 114.1 L486.1 116 L486.5 115.3 L486.8 116.3 L487.2 111.1 L487.5 114.4 L487.9 119.3 L488.2 135 L488.5 136 L488.9 134.1 L489.2 133.7 L489.6 139.2 L489.9 144.5 L490.3 142.6 L490.6 137.8 L491 134.4 L491.3 132.6 L491.7 142.1 L492 147.7 L492.4 139.8 L492.7 148.4 L493.1 151.7 L493.4 154.5 L493.8 155 L494.1 157.8 L494.5 151.7 L494.8 147.6 L495.2 153.7 L495.5 152.6 L495.8 152.3 L496.2 157 L496.5 158.9 L496.9 156.7 L497.2 155.8 L497.6 153.5 L497.9 156 L498.3 146.6 L498.6 142.4 L499 135.5 L499.3 128.5 L499.7 129.6 L500 131.9 L500.4 131.2 L500.7 133.1 L501.1 134.2 L501.4 138.8 L501.8 142.5 L502.1 152.2 L502.4 153.2 L502.8 151.2 L503.1 149.9 L503.5 141.1 L503.8 142.7 L504.2 142.8 L504.5 146.5 L504.9 141.3 L505.2 141.9 L505.6 142.5 L505.9 142 L506.3 147.8 L506.6 154.2 L507 157.3 L507.3 159.8 L507.7 165.4 L508 159.3 L508.4 160.5 L508.7 172.4 L509.1 170.2 L509.4 160.6 L509.7 159.3 L510.1 157.1 L510.4 154.4 L510.8 158.6 L511.1 157.4 L511.5 147.4 L511.8 145 L512.2 144.7 L512.5 137.6 L512.9 131.7 L513.2 135 L513.6 135.4 L513.9 135.5 L514.3 140.2 L514.6 140.1 L515 144.8 L515.3 152.5 L515.7 149.2 L516 141.1 L516.3 140 L516.7 138.4 L517 134.1 L517.4 137.4 L517.7 146.7 L518.1 148 L518.4 157.5 L518.8 166.2 L519.1 169 L519.5 170.7 L519.8 179 L520.2 186.9 L520.5 172.7 L520.9 173.9 L521.2 178.5 L521.6 175.3 L521.9 175.2 L522.3 182.7 L522.6 178.1 L523 175.5 L523.3 185.8 L523.6 182.8 L524 174.5 L524.3 176.6 L524.7 175.8 L525 172.4 L525.4 163.6 L525.7 163.2 L526.1 153.8 L526.4 153.8 L526.8 156.6 L527.1 150.8 L527.5 148.3 L527.8 143.2 L528.2 152.7 L528.5 153 L528.9 161.3 L529.2 160.9 L529.6 160.5 L529.9 160.7 L530.2 165.6 L530.6 170 L530.9 169.6 L531.3 171 L531.6 178.7 L532 188.9 L532.3 199.8 L532.7 201.8 L533 207.9 L533.4 207.4 L533.7 209.6 L534.1 201.3 L534.4 188.3 L534.8 179.6 L535.1 169.7 L535.5 169.6 L535.8 160.3 L536.2 161.5 L536.5 159 L536.9 155.3 L537.2 161.7 L537.5 157.5 L537.9 157.8 L538.2 155.7 L538.6 152.1 L538.9 149.7 L539.3 146.5 L539.6 158.3 L540 148.4 L540.3 152.3 L540.7 147.7 L541 148.9 L541.4 162.7 L541.7 166.6 L542.1 169.9 L542.4 159.6 L542.8 163.6 L543.1 161.3 L543.5 169.3 L543.8 165 L544.1 148.9 L544.5 145.6 L544.8 146.4 L545.2 157 L545.5 153.6 L545.9 143.2 L546.2 133.7 L546.6 132.4 L546.9 135.1 L547.3 136.8 L547.6 129 L548 125.7 L548.3 128.3 L548.7 136 L549 134.6 L549.4 137.1 L549.7 137.5 L550.1 136.8 L550.4 146.8 L550.8 142.4 L551.1 144.4 L551.4 150.7 L551.8 159.3 L552.1 163.6 L552.5 172.9 L552.8 176.2 L553.2 178.6 L553.5 179.2 L553.9 176.1 L554.2 164.7 L554.6 166.1 L554.9 167.2 L555.3 157 L555.6 152.5 L556 147.1 L556.3 140.4 L556.7 141.8 L557 151.7 L557.4 149.1 L557.7 143.3 L558 143.4 L558.4 145.7 L558.7 146.1 L559.1 148.5 L559.4 143.4 L559.8 139.9 L560.1 131.4 L560.5 129.4 L560.8 136.3 L561.2 132 L561.5 126.8 L561.9 131.1 L562.2 141.6 L562.6 141.2 L562.9 141.8 L563.3 139.5 L563.6 142.5 L564 133.4 L564.3 140.7 L564.7 136.7 L565 125.9 L565.3 122.5 L565.7 125.6 L566 136.3 L566.4 126.3 L566.7 138.5 L567.1 143.3 L567.4 135.7 L567.8 136.6 L568.1 132.2 L568.5 134.5 L568.8 123 L569.2 117.2 L569.5 106.4 L569.9 94.8 L570.2 107.1 L570.6 108 L570.9 120.5 L571.3 121.5 L571.6 125 L571.9 133.3 L572.3 138.9 L572.6 138.8 L573 127.3 L573.3 122.1 L573.7 114.8 L574 105.1 L574.4 109.5 L574.7 108.7 L575.1 106.6 L575.4 112.6 L575.8 122.6 L576.1 133.9 L576.5 134.9 L576.8 134.8 L577.2 135.8 L577.5 134.5 L577.9 141.4 L578.2 141 L578.6 144.2 L578.9 133.3 L579.2 124 L579.6 126.8 L579.9 125.1 L580.3 121.6 L580.6 117.6 L581 108.5 L581.3 100.7 L581.7 103 L582 107.5 L582.4 109.6 L582.7 107 L583.1 114.7 L583.4 114.2 L583.8 121.8 L584.1 123.2 L584.5 127.9 L584.8 130.2 L585.2 126.8 L585.5 131.1 L585.8 128.6 L586.2 131.4 L586.5 124.5 L586.9 118.8 L587.2 113.2 L587.6 115.7 L587.9 112.7 L588.3 113.5 L588.6 105.1 L589 103.9 L589.3 116.2 L589.7 111.9 L590 107.9 L590.4 108.8 L590.7 111.7 L591.1 104.7 L591.4 107.4 L591.8 107.9 L592.1 97.5 L592.5 102.7 L592.8 104.9 L593.1 94 L593.5 91.6 L593.8 79.6 L594.2 80.1 L594.5 71.2 L594.9 73.2 L595.2 77 L595.6 70.5 L595.9 76 L596.3 72 L596.6 78.5 L597 77.6 L597.3 77.8 L597.7 71.1 L598 67.2 L598.4 68.8 L598.7 63.1 L599.1 68 L599.4 72.7 L599.7 70 L600.1 71.5 L600.4 68.5 L600.8 59.6 L601.1 61.6 L601.5 66 L601.8 65.9 L602.2 66.5 L602.5 71.1 L602.9 74.3 L603.2 79.1 L603.6 89.6 L603.9 88.9 L604.3 89.1 L604.6 87.9 L605 88.1 L605.3 78.1 L605.7 72.3 L606 64.4 L606.4 60.4 L606.7 58.4 L607 58.9 L607.4 57 L607.7 44.3 L608.1 56.8 L608.4 56.5 L608.8 59.2 L609.1 63 L609.5 68.1 L609.8 64.9 L610.2 72.2 L610.5 82.6 L610.9 83.1 L611.2 91.5 L611.6 101.2 L611.9 104 L612.3 106.7 L612.6 109.7 L613 112.2 L613.3 105.7 L613.6 97.2 L614 90.9 L614.3 88.7 L614.7 87.1 L615 84.3 L615.4 83.2 L615.7 83 L616.1 86.7 L616.4 79.4 L616.8 88.7 L617.1 83.5 L617.5 82 L617.8 85.1 L618.2 82.4 L618.5 81.8 L618.9 85.6 L619.2 92.9 L619.6 88.8 L619.9 96.4 L620.3 99.7 L620.6 103.3 L620.9 105 L621.3 106.2 L621.6 105.5 L622 117.6 L622.3 115.9 L622.7 115.9 L623 127 L623.4 125.9 L623.7 136 L624.1 134.1 L624.4 131.1 L624.8 129.9 L625.1 135.4 L625.5 128.5 L625.8 117.1 L626.2 110 L626.5 103.5 L626.9 103.9 L627.2 108.8 L627.5 99.1 L627.9 90.9 L628.2 96 L628.6 96.3 L628.9 102.9 L629.3 107 L629.6 97.5 L630 98.6 L630.3 109.1 L630.7 116.2 L631 115.5 L631.4 115.3 L631.7 117.6 L632.1 120 L632.4 129.3 L632.8 137.5 L633.1 139.9 L633.5 136.5 L633.8 142 L634.2 143.6 L634.5 138.7 L634.8 133.6 L635.2 133.1 L635.5 118 L635.9 109.5 L636.2 112.5 L636.6 106.5 L636.9 104.7 L637.3 110.8 L637.6 111.1 L638 110 L638.3 123.8 L638.7 125.5 L639 124 L639.4 127.5 L639.7 134.7 L640.1 132.5 L640.4 133.1 L640.8 132.5 L641.1 130.2 L641.4 128.1 L641.8 132.8 L642.1 133.4 L642.5 123.8 L642.8 126.7 L643.2 130.1 L643.5 128 L643.9 126.6 L644.2 131.3 L644.6 126.9 L644.9 122.9 L645.3 136.6 L645.6 137.1 L646 138.4 L646.3 145.4 L646.7 145.4 L647 145 L647.4 141.7 L647.7 145.4 L648.1 132.5 L648.4 123.5 L648.7 117.9 L649.1 109.1 L649.4 96.1 L649.8 88.8 L650.1 90.4 L650.5 86.5 L650.8 90.7 L651.2 92.5 L651.5 88.7 L651.9 95.1 L652.2 105.1 L652.6 105.4 L652.9 108.1 L653.3 110.2 L653.6 113.5 L654 120.3 L654.3 127.8 L654.7 118.8 L655 121.4 L655.3 129 L655.7 130.5 L656 133.1 L656.4 127.9 L656.7 124.8 L657.1 115.6 L657.4 122.8 L657.8 115.7 L658.1 112.1 L658.5 106.9 L658.8 110.5 L659.2 111.9 L659.5 111.2 L659.9 117.9 L660.2 124.8 L660.6 125.2 L660.9 126.2 L661.3 128.7 L661.6 123.3 L662 123 L662.3 120.8 L662.6 124.6 L663 120.4 L663.3 123.2 L663.7 122.2 L664 123.3 L664.4 125.9 L664.7 129.9 L665.1 133.4 L665.4 126.3 L665.8 128.7 L666.1 126 L666.5 125.2 L666.8 127 L667.2 123.2 L667.5 126.5 L667.9 133.3 L668.2 142.7 L668.6 140.2 L668.9 146.6 L669.2 150.9 L669.6 147.8" fill="none" stroke="#e6bcb7" stroke-width="0.7" stroke-linejoin="round" stroke-dasharray="1 0.6"/>
<path d="M474.6 78.5 L475 84.4 L475.3 82.5 L475.7 81.7 L476 81.2 L476.4 78.5 L476.7 81.2 L477.1 83.4 L477.4 88.4 L477.8 88 L478.1 96.4 L478.5 83.5 L478.8 78.9 L479.2 76.3 L479.5 76.7 L479.9 65.7 L480.2 73.2 L480.6 71.2 L480.9 71.7 L481.3 71 L481.6 71.6 L481.9 73 L482.3 69.1 L482.6 65.9 L483 67.9 L483.3 75.4 L483.7 76.6 L484 81.8 L484.4 92.1 L484.7 94.7 L485.1 94.1 L485.4 95.2 L485.8 109.4 L486.1 103.8 L486.5 101.2 L486.8 102.5 L487.2 100.1 L487.5 98.9 L487.9 95.6 L488.2 103.2 L488.5 100.1 L488.9 112.8 L489.2 104.2 L489.6 111.2 L489.9 106.2 L490.3 112.8 L490.6 105.1 L491 95.1 L491.3 94.3 L491.7 98.7 L492 95.9 L492.4 99.7 L492.7 108 L493.1 101.9 L493.4 106.4 L493.8 115.8 L494.1 107.9 L494.5 107.5 L494.8 108.8 L495.2 97.6 L495.5 90.9 L495.8 94.7 L496.2 104.8 L496.5 115.9 L496.9 119.9 L497.2 123.3 L497.6 116.9 L497.9 113.4 L498.3 110.9 L498.6 110.4 L499 97 L499.3 100.7 L499.7 102.5 L500 95.6 L500.4 92.6 L500.7 103.7 L501.1 112.2 L501.4 106.8 L501.8 111.5 L502.1 124.5 L502.4 124.7 L502.8 123.1 L503.1 123 L503.5 119.3 L503.8 106.2 L504.2 99.2 L504.5 102.2 L504.9 103.4 L505.2 103.4 L505.6 110.5 L505.9 113.1 L506.3 111.6 L506.6 118.1 L507 116.9 L507.3 120.7 L507.7 130.6 L508 120.6 L508.4 117.6 L508.7 122.7 L509.1 126 L509.4 126.2 L509.7 139.9 L510.1 142.6 L510.4 142.8 L510.8 147.6 L511.1 137.8 L511.5 135.1 L511.8 134.4 L512.2 129.7 L512.5 118.1 L512.9 127.4 L513.2 116.5 L513.6 119.1 L513.9 125.3 L514.3 128.3 L514.6 118.8 L515 129.5 L515.3 120.5 L515.7 121.9 L516 114.4 L516.3 120.1 L516.7 117.5 L517 113.5 L517.4 110.9 L517.7 118.7 L518.1 110.5 L518.4 111.8 L518.8 126.3 L519.1 125.7 L519.5 130.2 L519.8 132.3 L520.2 125.2 L520.5 120.9 L520.9 124.6 L521.2 118.8 L521.6 125.4 L521.9 138.2 L522.3 137.8 L522.6 147.9 L523 153.5 L523.3 156.3 L523.6 152.3 L524 150.6 L524.3 143.6 L524.7 135.9 L525 132.8 L525.4 133.8 L525.7 142.2 L526.1 145.1 L526.4 150 L526.8 157.1 L527.1 156.6 L527.5 146.9 L527.8 136.1 L528.2 127.8 L528.5 120.9 L528.9 121.8 L529.2 119.2 L529.6 121.5 L529.9 124.6 L530.2 126.2 L530.6 120.5 L530.9 124.8 L531.3 125.5 L531.6 128.5 L532 125.3 L532.3 126 L532.7 124.4 L533 119.3 L533.4 120.8 L533.7 114.4 L534.1 117.1 L534.4 116.9 L534.8 125.3 L535.1 127.8 L535.5 128.9 L535.8 130.2 L536.2 138.1 L536.5 137.4 L536.9 133.5 L537.2 129 L537.5 124.1 L537.9 114 L538.2 116.5 L538.6 116.7 L538.9 126.8 L539.3 123.7 L539.6 132.9 L540 126.6 L540.3 125.2 L540.7 129 L541 132.4 L541.4 126.6 L541.7 136.2 L542.1 134.2 L542.4 128.9 L542.8 133.6 L543.1 142 L543.5 129.8 L543.8 134.1 L544.1 133 L544.5 124.1 L544.8 117.8 L545.2 116.9 L545.5 115.6 L545.9 117.8 L546.2 123.8 L546.6 123.4 L546.9 125.6 L547.3 128.3 L547.6 132.7 L548 136.3 L548.3 135.7 L548.7 142.9 L549 142.7 L549.4 138.4 L549.7 136.1 L550.1 135.7 L550.4 134.1 L550.8 125 L551.1 122.3 L551.4 121.9 L551.8 125.3 L552.1 115.9 L552.5 123.5 L552.8 127.9 L553.2 125.3 L553.5 119.6 L553.9 119 L554.2 117.8 L554.6 107.9 L554.9 114.3 L555.3 115.7 L555.6 129.9 L556 125.9 L556.3 138.7 L556.7 135.8 L557 133.3 L557.4 120.6 L557.7 128.9 L558 125.1 L558.4 128.2 L558.7 130.8 L559.1 137.9 L559.4 137.8 L559.8 143.2 L560.1 142.8 L560.5 149.1 L560.8 147 L561.2 137.7 L561.5 139.8 L561.9 134.7 L562.2 129.5 L562.6 127.1 L562.9 136.9 L563.3 130.8 L563.6 137.8 L564 137.2 L564.3 142.6 L564.7 141.8 L565 140.3 L565.3 135.4 L565.7 141.6 L566 135.4 L566.4 129.6 L566.7 129.1 L567.1 123.2 L567.4 112.8 L567.8 123 L568.1 131.4 L568.5 127.9 L568.8 128.5 L569.2 137.3 L569.5 136 L569.9 132.2 L570.2 136.6 L570.6 145.4 L570.9 139.4 L571.3 138.9 L571.6 142.5 L571.9 139.5 L572.3 139.5 L572.6 143.5 L573 137.8 L573.3 129.6 L573.7 133.2 L574 126.8 L574.4 125.7 L574.7 117.1 L575.1 115.2 L575.4 117.7 L575.8 119.2 L576.1 115.8 L576.5 125 L576.8 123.7 L577.2 115.8 L577.5 118.6 L577.9 120.3 L578.2 124.3 L578.6 126.7 L578.9 127.8 L579.2 111.3 L579.6 109.6 L579.9 114.3 L580.3 121 L580.6 124.9 L581 145.2 L581.3 151.5 L581.7 144.6 L582 138.5 L582.4 136.3 L582.7 130.4 L583.1 119.4 L583.4 117.2 L583.8 119.9 L584.1 126.1 L584.5 128.6 L584.8 132.9 L585.2 141 L585.5 141.6 L585.8 133.2 L586.2 129.8 L586.5 128.2 L586.9 121.9 L587.2 112.1 L587.6 107.7 L587.9 104.3 L588.3 114 L588.6 116.8 L589 122.2 L589.3 123.3 L589.7 125.6 L590 113.5 L590.4 110.2 L590.7 111.9 L591.1 115 L591.4 110.6 L591.8 119.7 L592.1 112.6 L592.5 107.7 L592.8 115.8 L593.1 127.3 L593.5 123.3 L593.8 132.6 L594.2 148.9 L594.5 139.2 L594.9 129.7 L595.2 129.3 L595.6 113.9 L595.9 100.9 L596.3 106.9 L596.6 108.7 L597 114.4 L597.3 130.7 L597.7 133.5 L598 135.4 L598.4 138.5 L598.7 125.7 L599.1 115.8 L599.4 110.1 L599.7 101.9 L600.1 95.4 L600.4 95.7 L600.8 101 L601.1 99.7 L601.5 110.1 L601.8 117 L602.2 131.6 L602.5 133.7 L602.9 137.9 L603.2 124.7 L603.6 122.5 L603.9 113 L604.3 110.6 L604.6 115.3 L605 128 L605.3 128.2 L605.7 139.6 L606 141.5 L606.4 140.9 L606.7 139.5 L607 142.8 L607.4 138.4 L607.7 127.2 L608.1 129.3 L608.4 117.7 L608.8 110.5 L609.1 107.8 L609.5 124 L609.8 118.1 L610.2 121.4 L610.5 130.5 L610.9 131 L611.2 120.4 L611.6 120.3 L611.9 115.3 L612.3 110.1 L612.6 104.1 L613 113.3 L613.3 107.5 L613.6 122.2 L614 133.3 L614.3 140 L614.7 138 L615 139.5 L615.4 136.5 L615.7 124.2 L616.1 117.3 L616.4 106.3 L616.8 112.2 L617.1 105.9 L617.5 105.2 L617.8 112.2 L618.2 122.7 L618.5 126.2 L618.9 137 L619.2 134.8 L619.6 138.1 L619.9 130.4 L620.3 122.6 L620.6 115.4 L620.9 121.3 L621.3 115.9 L621.6 120.4 L622 124.6 L622.3 127.2 L622.7 123.7 L623 127.8 L623.4 129.6 L623.7 138.1 L624.1 133.1 L624.4 132.7 L624.8 128.6 L625.1 122.4 L625.5 112.5 L625.8 129.3 L626.2 133.2 L626.5 141.9 L626.9 146.4 L627.2 141.6 L627.5 132.9 L627.9 131.5 L628.2 123.5 L628.6 122.7 L628.9 126.9 L629.3 116.9 L629.6 120.9 L630 114.9 L630.3 123.6 L630.7 129.3 L631 133.8 L631.4 129.4 L631.7 140.8 L632.1 138.6 L632.4 138.8 L632.8 140.1 L633.1 134.7 L633.5 133.9 L633.8 128.5 L634.2 125.7 L634.5 126.5 L634.8 133.6 L635.2 125.8 L635.5 128.5 L635.9 128.3 L636.2 126.9 L636.6 118.3 L636.9 128.8 L637.3 121.8 L637.6 124.1 L638 127.1 L638.3 140.3 L638.7 143.5 L639 154.6 L639.4 160.1 L639.7 159.2 L640.1 161.8 L640.4 146.3 L640.8 140.2 L641.1 134.1 L641.4 135.2 L641.8 129.6 L642.1 139.6 L642.5 144.3 L642.8 146.2 L643.2 147.9 L643.5 154.2 L643.9 153.1 L644.2 155.1 L644.6 152.9 L644.9 141.1 L645.3 128.4 L645.6 124.7 L646 125.1 L646.3 131 L646.7 147.3 L647 149.8 L647.4 155.5 L647.7 152 L648.1 151 L648.4 144 L648.7 139.5 L649.1 135.8 L649.4 133.2 L649.8 130 L650.1 124 L650.5 133.3 L650.8 136.4 L651.2 143.7 L651.5 150 L651.9 155.3 L652.2 142.5 L652.6 142.3 L652.9 130.7 L653.3 120.3 L653.6 122.7 L654 130.6 L654.3 124.6 L654.7 130.7 L655 124.8 L655.3 131.1 L655.7 132.1 L656 133.3 L656.4 135.1 L656.7 143.6 L657.1 131 L657.4 129.3 L657.8 125.5 L658.1 116.8 L658.5 124 L658.8 121.3 L659.2 114.1 L659.5 115 L659.9 117.7 L660.2 119 L660.6 128.4 L660.9 142.1 L661.3 147.3 L661.6 144.5 L662 138 L662.3 134.3 L662.6 136.5 L663 134.1 L663.3 139.4 L663.7 142.2 L664 148.8 L664.4 136.7 L664.7 143.8 L665.1 149.3 L665.4 148.4 L665.8 137.2 L666.1 132.4 L666.5 122.2 L666.8 118.3 L667.2 116.2 L667.5 118.3 L667.9 134.2 L668.2 133.6 L668.6 128.5 L668.9 129.1 L669.2 131.5 L669.6 123.2" fill="none" stroke="#d2d2d2" stroke-width="0.7" stroke-linejoin="round" stroke-dasharray="1 0.6"/>
</g>
<rect x="472.7" y="48.9" width="197.2" height="156.5" fill="none" stroke="#b9b9b9" stroke-width="0.8"/>
<path d="M486.1 93 L487.2 94.5 L488.2 97.3 L489.2 98.8 L490.3 100.2 L491.3 102.5 L492.4 105 L493.4 107.1 L494.5 107.5 L495.5 107.9 L496.5 109.5 L497.6 110.4 L498.6 111.4 L499.7 112.6 L500.7 112.1 L501.8 112.7 L502.8 113.4 L503.8 113.1 L504.9 113.3 L505.9 114.5 L507 114.8 L508 115.8 L509.1 117 L510.1 118.3 L511.1 120.3 L512.2 121.2 L513.2 122.2 L514.3 123.7 L515.3 124.9 L516.3 125.3 L517.4 125.8 L518.4 126.9 L519.5 129.7 L520.5 132.2 L521.6 133 L522.6 133.9 L523.6 135.2 L524.7 136.8 L525.7 136.5 L526.8 135.9 L527.8 136.8 L528.9 135.9 L529.9 134.1 L530.9 134.7 L532 134.2 L533 133.7 L534.1 133.1 L535.1 132.3 L536.2 132.8 L537.2 132.4 L538.2 131.8 L539.3 131 L540.3 129.9 L541.4 129.5 L542.4 129.3 L543.5 131.1 L544.5 131.7 L545.5 131.6 L546.6 132.4 L547.6 131.5 L548.7 132.2 L549.7 133.7 L550.8 134.5 L551.8 134 L552.8 133.8 L553.9 133.7 L554.9 133.7 L556 132.6 L557 132 L558 132 L559.1 132 L560.1 132.4 L561.2 132.4 L562.2 132.2 L563.3 131.6 L564.3 131.7 L565.3 132.5 L566.4 132.7 L567.4 131.1 L568.5 130.4 L569.5 131.1 L570.6 129.8 L571.6 128.3 L572.6 128.2 L573.7 128.3 L574.7 126.7 L575.8 126 L576.8 126.7 L577.9 126.6 L578.9 126.9 L579.9 126.8 L581 125 L582 123.2 L583.1 122.7 L584.1 122.7 L585.2 122.6 L586.2 121.5 L587.2 120.9 L588.3 119.7 L589.3 118.1 L590.4 116.9 L591.4 116.8 L592.5 118.8 L593.5 119.9 L594.5 121.7 L595.6 121.7 L596.6 120.3 L597.7 119.8 L598.7 119.7 L599.7 120.2 L600.8 120.6 L601.8 120.7 L602.9 120.2 L603.9 121.4 L605 122.8 L606 123.2 L607 122.6 L608.1 121.7 L609.1 122.8 L610.2 124.8 L611.2 125.5 L612.3 125.3 L613.3 125.8 L614.3 126.1 L615.4 126.2 L616.4 126.7 L617.5 126.8 L618.5 126.7 L619.6 127.6 L620.6 128.1 L621.6 128.5 L622.7 128.5 L623.7 128.8 L624.8 129.7 L625.8 130.6 L626.9 132.4 L627.9 132.5 L628.9 132.8 L630 133.5 L631 133.2 L632.1 135 L633.1 136.5 L634.2 136.6 L635.2 137.2 L636.2 138.1 L637.3 137.6 L638.3 137.4 L639.4 137.8 L640.4 137.3 L641.4 136.8 L642.5 136.5 L643.5 136.3 L644.6 135.3 L645.6 135 L646.7 135.3 L647.7 135.3 L648.7 134.3 L649.8 132.9 L650.8 132.5 L651.9 132.4 L652.9 131.2 L654 128.6 L655 128.4 L656 128.8 L657.1 129.1 L658.1 132.3" fill="none" stroke="#9a9a9a" stroke-width="1.05" stroke-linejoin="round"/>
<path d="M486.1 109.4 L487.2 112.4 L488.2 116.5 L489.2 119.9 L490.3 123.2 L491.3 127.2 L492.4 129.9 L493.4 132.8 L494.5 135.4 L495.5 137.1 L496.5 138.7 L497.6 140.1 L498.6 140.5 L499.7 139.9 L500.7 139.1 L501.8 138.4 L502.8 137.9 L503.8 138.9 L504.9 140.1 L505.9 140.7 L507 141.5 L508 143 L509.1 145 L510.1 147.5 L511.1 149.3 L512.2 151.3 L513.2 153.1 L514.3 154.3 L515.3 156.1 L516.3 156.8 L517.4 156.7 L518.4 159 L519.5 161.3 L520.5 163.2 L521.6 167 L522.6 169.4 L523.6 170.6 L524.7 172.9 L525.7 174.2 L526.8 175.9 L527.8 175.6 L528.9 174.7 L529.9 173.8 L530.9 172.3 L532 171 L533 169.9 L534.1 167.4 L535.1 165.3 L536.2 163.7 L537.2 162.9 L538.2 161.8 L539.3 159.6 L540.3 157.7 L541.4 156.1 L542.4 154.3 L543.5 152.5 L544.5 151.5 L545.5 150.3 L546.6 149.3 L547.6 148.8 L548.7 148.8 L549.7 149.2 L550.8 149.9 L551.8 148.1 L552.8 145.9 L553.9 143.4 L554.9 141.5 L556 140.1 L557 138.4 L558 137.1 L559.1 136.5 L560.1 136.1 L561.2 137.1 L562.2 136 L563.3 134.5 L564.3 135.1 L565.3 134.6 L566.4 133.4 L567.4 131.4 L568.5 129.7 L569.5 129.8 L570.6 127.8 L571.6 125.5 L572.6 123.9 L573.7 123.1 L574.7 124.4 L575.8 124 L576.8 123.3 L577.9 123.3 L578.9 123.5 L579.9 122.6 L581 120.4 L582 120.5 L583.1 119.8 L584.1 118.2 L585.2 116.2 L586.2 113.5 L587.2 112.4 L588.3 109.8 L589.3 106.9 L590.4 105.1 L591.4 102.5 L592.5 100 L593.5 98.5 L594.5 94.9 L595.6 91.7 L596.6 90.9 L597.7 88.7 L598.7 87.2 L599.7 86.4 L600.8 84.6 L601.8 83 L602.9 81.7 L603.9 80.9 L605 81.2 L606 82.7 L607 83.8 L608.1 86.1 L609.1 88.1 L610.2 89.8 L611.2 91.3 L612.3 92.4 L613.3 94.3 L614.3 96.6 L615.4 98 L616.4 99.3 L617.5 100.7 L618.5 101.9 L619.6 104.2 L620.6 105.4 L621.6 106.4 L622.7 108.7 L623.7 110.2 L624.8 111.7 L625.8 114 L626.9 115.4 L627.9 116.9 L628.9 118.4 L630 119.5 L631 119.6 L632.1 119.9 L633.1 121.7 L634.2 122.2 L635.2 122.3 L636.2 123.1 L637.3 123 L638.3 122.9 L639.4 122.2 L640.4 122.1 L641.4 123.4 L642.5 122.4 L643.5 121.5 L644.6 121.7 L645.6 122.8 L646.7 122.2 L647.7 120.5 L648.7 120.5 L649.8 120.3 L650.8 119.7 L651.9 120 L652.9 119.5 L654 119.1 L655 118.9 L656 117.8 L657.1 118.1 L658.1 120" fill="none" stroke="#a4453c" stroke-width="1.25" stroke-linejoin="round"/>
<path d="M486.1 86.4 L487.2 87.9 L488.2 89.5 L489.2 92.3 L490.3 94.4 L491.3 94.2 L492.4 96 L493.4 98.1 L494.5 98.1 L495.5 99.1 L496.5 101.1 L497.6 102.4 L498.6 102.5 L499.7 102.6 L500.7 103.6 L501.8 105.2 L502.8 104.9 L503.8 104.2 L504.9 105.1 L505.9 106.6 L507 107.3 L508 108.4 L509.1 109.6 L510.1 111.9 L511.1 113.2 L512.2 113.1 L513.2 114.3 L514.3 114.6 L515.3 115.1 L516.3 116.6 L517.4 117.5 L518.4 119.4 L519.5 121.2 L520.5 121.8 L521.6 123 L522.6 123.7 L523.6 125.6 L524.7 128.1 L525.7 127.4 L526.8 125.7 L527.8 124.1 L528.9 123.7 L529.9 125.9 L530.9 126.4 L532 126.9 L533 127.5 L534.1 124.5 L535.1 122.4 L536.2 122.5 L537.2 121.9 L538.2 120.8 L539.3 120.4 L540.3 120.2 L541.4 120.4 L542.4 121.3 L543.5 119.7 L544.5 119.6 L545.5 121.6 L546.6 124.4 L547.6 127.1 L548.7 130.2 L549.7 130.5 L550.8 130.3 L551.8 131.5 L552.8 131.7 L553.9 131.3 L554.9 131 L556 131 L557 132.1 L558 132.4 L559.1 130.7 L560.1 131.6 L561.2 133.5 L562.2 133.2 L563.3 133.2 L564.3 133.6 L565.3 135.3 L566.4 135.7 L567.4 135.1 L568.5 135 L569.5 133.3 L570.6 132.2 L571.6 131.5 L572.6 129.1 L573.7 128.6 L574.7 129.5 L575.8 130.1 L576.8 130.6 L577.9 130.3 L578.9 129.5 L579.9 128.7 L581 128 L582 126.8 L583.1 126.3 L584.1 126.2 L585.2 125.9 L586.2 124.4 L587.2 123.3 L588.3 122.6 L589.3 122.1 L590.4 122.8 L591.4 123 L592.5 124.1 L593.5 123.9 L594.5 123.1 L595.6 125.2 L596.6 127.2 L597.7 127.5 L598.7 128.5 L599.7 129.7 L600.8 128.7 L601.8 128.7 L602.9 129.8 L603.9 129.6 L605 130.1 L606 130.8 L607 130.9 L608.1 132.1 L609.1 132.1 L610.2 132.7 L611.2 132.3 L612.3 132.4 L613.3 132.7 L614.3 132.8 L615.4 133.2 L616.4 132.9 L617.5 133.7 L618.5 132.8 L619.6 131.5 L620.6 132.1 L621.6 132 L622.7 132.1 L623.7 133 L624.8 132.9 L625.8 133.5 L626.9 135.7 L627.9 136 L628.9 135.2 L630 136.8 L631 138.1 L632.1 139.3 L633.1 140.3 L634.2 139.9 L635.2 140.1 L636.2 141.7 L637.3 142.5 L638.3 141.6 L639.4 141.8 L640.4 142.1 L641.4 140.2 L642.5 138.7 L643.5 139.1 L644.6 139.6 L645.6 140.3 L646.7 140.3 L647.7 138.9 L648.7 137.6 L649.8 136.3 L650.8 135.3 L651.9 134.8 L652.9 134.4 L654 134.5 L655 134.8 L656 133.6 L657.1 133.4 L658.1 134.9" fill="none" stroke="#2a9a35" stroke-width="1.25" stroke-linejoin="round"/>
<line x1="472.7" y1="64.2" x2="474.7" y2="64.2" stroke="#999" stroke-width="0.5"/>
<text x="471.2" y="66.9" font-size="7.6" text-anchor="end" fill="#222">2</text>
<line x1="472.7" y1="95.6" x2="474.7" y2="95.6" stroke="#999" stroke-width="0.5"/>
<text x="471.2" y="98.3" font-size="7.6" text-anchor="end" fill="#222">1</text>
<line x1="472.7" y1="127.0" x2="474.7" y2="127.0" stroke="#999" stroke-width="0.5"/>
<text x="471.2" y="129.7" font-size="7.6" text-anchor="end" fill="#222">0</text>
<line x1="472.7" y1="158.4" x2="474.7" y2="158.4" stroke="#999" stroke-width="0.5"/>
<text x="471.2" y="161.1" font-size="7.6" text-anchor="end" fill="#222">-1</text>
<line x1="472.7" y1="189.8" x2="474.7" y2="189.8" stroke="#999" stroke-width="0.5"/>
<text x="471.2" y="192.5" font-size="7.6" text-anchor="end" fill="#222">-2</text>
<line x1="498.0" y1="203.4" x2="498.0" y2="205.4" stroke="#999" stroke-width="0.5"/>
<text x="498" y="212.2" font-size="7.5" text-anchor="middle" fill="#333" textLength="16.3" lengthAdjust="spacingAndGlyphs">1970</text>
<line x1="539.7" y1="203.4" x2="539.7" y2="205.4" stroke="#999" stroke-width="0.5"/>
<text x="539.7" y="212.2" font-size="7.5" text-anchor="middle" fill="#333" textLength="16.3" lengthAdjust="spacingAndGlyphs">1980</text>
<line x1="581.4" y1="203.4" x2="581.4" y2="205.4" stroke="#999" stroke-width="0.5"/>
<text x="581.4" y="212.2" font-size="7.5" text-anchor="middle" fill="#333" textLength="16.3" lengthAdjust="spacingAndGlyphs">1990</text>
<line x1="623.1" y1="203.4" x2="623.1" y2="205.4" stroke="#999" stroke-width="0.5"/>
<text x="623.1" y="212.2" font-size="7.5" text-anchor="middle" fill="#333" textLength="16.3" lengthAdjust="spacingAndGlyphs">2000</text>
<line x1="664.8" y1="203.4" x2="664.8" y2="205.4" stroke="#999" stroke-width="0.5"/>
<text x="664.8" y="212.2" font-size="7.5" text-anchor="middle" fill="#333" textLength="16.3" lengthAdjust="spacingAndGlyphs">2010</text>
<text transform="translate(465.4,126.6) rotate(-90)" font-size="7.4" text-anchor="middle" fill="#333" textLength="10.8" lengthAdjust="spacingAndGlyphs">SGI</text>
<text x="642.5" y="66.9" font-size="19.6" fill="#111" font-weight="bold" stroke="#111" stroke-width="0.5">b</text>
<line x1="562" y1="174.1" x2="573.4" y2="174.1" stroke="#d8d8d8" stroke-width="1"/>
<line x1="567" y1="174.1" x2="573.4" y2="174.1" stroke="#9a9a9a" stroke-width="1.1"/>
<text x="574.8" y="177.8" font-size="10.4" fill="#222" textLength="35" lengthAdjust="spacingAndGlyphs">All wells</text>
<line x1="562" y1="185.7" x2="573.4" y2="185.7" stroke="#e6bcb7" stroke-width="1"/>
<line x1="567" y1="185.7" x2="573.4" y2="185.7" stroke="#a4453c" stroke-width="1.1"/>
<text x="574.8" y="189.4" font-size="10.4" fill="#222" textLength="47.3" lengthAdjust="spacingAndGlyphs">Deep wells</text>
<line x1="562" y1="198.3" x2="573.4" y2="198.3" stroke="#a6d4a6" stroke-width="1"/>
<line x1="567" y1="198.3" x2="573.4" y2="198.3" stroke="#2a9a35" stroke-width="1.1"/>
<text x="574.8" y="202" font-size="10.4" fill="#222" textLength="58.3" lengthAdjust="spacingAndGlyphs">Shallow wells</text>
<clipPath id="cpc"><rect x="472.7" y="215.0" width="197.2" height="107.3"/></clipPath>
<g clip-path="url(#cpc)">
<path d="M473 285.5 L473.3 286.6 L473.7 290 L474 293.2 L474.4 295.2 L474.7 294.9 L475.1 288 L475.4 281.4 L475.8 276.3 L476.1 269.2 L476.5 265.5 L476.8 270.1 L477.1 274 L477.5 278.6 L477.8 282.1 L478.2 284.1 L478.5 286.9 L478.9 290 L479.2 291.6 L479.6 294.5 L479.9 298.5 L480.3 298.3 L480.6 297.5 L481 299 L481.3 298.9 L481.7 297.5 L482 297.6 L482.4 298.1 L482.7 297 L483.1 294.9 L483.4 294.9 L483.8 295.9 L484.1 293.8 L484.4 290.8 L484.8 289.4 L485.1 287.6 L485.5 284.6 L485.8 283.3 L486.2 282.7 L486.5 282.9 L486.9 284.3 L487.2 286 L487.6 289.4 L487.9 293 L488.3 294.9 L488.6 298 L489 299.5 L489.3 299.2 L489.7 301.1 L490 301.7 L490.4 301.7 L490.7 303.6 L491 305.1 L491.4 306.1 L491.7 307.1 L492.1 306 L492.4 303.1 L492.8 303.5 L493.1 302.3 L493.5 300.2 L493.8 300.8 L494.2 301.7 L494.5 303.2 L494.9 303.5 L495.2 301.7 L495.6 299.2 L495.9 296.2 L496.3 293.9 L496.6 291.8 L497 289 L497.3 285.7 L497.7 282.6 L498 278 L498.3 272.3 L498.7 266.9 L499 264.4 L499.4 262.5 L499.7 261.1 L500.1 262.1 L500.4 263.4 L500.8 262.5 L501.1 262.9 L501.5 263.7 L501.8 261.8 L502.2 263.1 L502.5 264 L502.9 263.4 L503.2 262.6 L503.6 260.1 L503.9 258.4 L504.3 260.6 L504.6 263.8 L504.9 263.2 L505.3 262.8 L505.6 264.2 L506 267.2 L506.3 268.6 L506.7 269.3 L507 270.3 L507.4 271.3 L507.7 271.4 L508.1 271.1 L508.4 271.9 L508.8 272.8 L509.1 274.2 L509.5 275.5 L509.8 275.1 L510.2 276.3 L510.5 279.7 L510.9 280 L511.2 280 L511.6 280.8 L511.9 281.5 L512.2 282 L512.6 281.7 L512.9 278.9 L513.3 274.4 L513.6 274.6 L514 275.6 L514.3 272.9 L514.7 270.7 L515 269.1 L515.4 266.5 L515.7 263.8 L516.1 260.4 L516.4 258.3 L516.8 256.1 L517.1 256.8 L517.5 257.6 L517.8 259.2 L518.2 260.9 L518.5 259 L518.8 258.6 L519.2 259.1 L519.5 259 L519.9 260.7 L520.2 262.8 L520.6 265.3 L520.9 268.3 L521.3 271.9 L521.6 274.6 L522 276.7 L522.3 278.3 L522.7 279.6 L523 280 L523.4 280.7 L523.7 282.1 L524.1 285 L524.4 286 L524.8 284.8 L525.1 284.1 L525.5 284 L525.8 285.5 L526.1 286.7 L526.5 284.8 L526.8 283.9 L527.2 284.2 L527.5 284.2 L527.9 287.3 L528.2 289.6 L528.6 289.7 L528.9 288.7 L529.3 280.2 L529.6 272.1 L530 263.9 L530.3 256.8 L530.7 251 L531 244.3 L531.4 238.1 L531.7 235.8 L532.1 239.5 L532.4 242.6 L532.7 246.8 L533.1 251.3 L533.4 255.5 L533.8 252.7 L534.1 249.5 L534.5 246.1 L534.8 242.3 L535.2 238.6 L535.5 235.1 L535.9 232.7 L536.2 233.3 L536.6 234.8 L536.9 237.9 L537.3 239.4 L537.6 241.2 L538 242.7 L538.3 245.4 L538.7 249.4 L539 252.5 L539.4 253.6 L539.7 255.8 L540 257.2 L540.4 256.7 L540.7 256.5 L541.1 254.7 L541.4 254.2 L541.8 254.7 L542.1 252.6 L542.5 255.2 L542.8 256.9 L543.2 256.6 L543.5 258 L543.9 260.1 L544.2 261.3 L544.6 262.9 L544.9 263.7 L545.3 263.4 L545.6 262.7 L546 262.8 L546.3 262.2 L546.6 261.4 L547 262.3 L547.3 262.5 L547.7 263.4 L548 265.9 L548.4 270.6 L548.7 273.8 L549.1 276.7 L549.4 280.3 L549.8 281.3 L550.1 278.1 L550.5 273.1 L550.8 267.2 L551.2 263 L551.5 258.4 L551.9 255 L552.2 250.8 L552.6 245.2 L552.9 239.4 L553.3 236.2 L553.6 232.8 L553.9 233.7 L554.3 237.9 L554.6 239.4 L555 239.5 L555.3 241.8 L555.7 244 L556 245.6 L556.4 248.8 L556.7 252.8 L557.1 254.7 L557.4 256.1 L557.8 255.1 L558.1 253 L558.5 250.3 L558.8 250.2 L559.2 249.8 L559.5 247.7 L559.9 246.5 L560.2 245.5 L560.5 246.5 L560.9 246.9 L561.2 245.2 L561.6 245.3 L561.9 247.5 L562.3 247.8 L562.6 246.5 L563 244.6 L563.3 243.9 L563.7 240.9 L564 239.3 L564.4 238.7 L564.7 239 L565.1 241.6 L565.4 241.9 L565.8 242 L566.1 245 L566.5 245.9 L566.8 245.9 L567.2 248.4 L567.5 249.1 L567.8 248 L568.2 247.6 L568.5 248.2 L568.9 249.2 L569.2 249.3 L569.6 249.8 L569.9 249.6 L570.3 249.7 L570.6 250.7 L571 250.8 L571.3 252.2 L571.7 252.9 L572 250.7 L572.4 249.6 L572.7 250.4 L573.1 248.6 L573.4 246.9 L573.8 245.2 L574.1 243.6 L574.4 241.8 L574.8 240.7 L575.1 238.1 L575.5 235.2 L575.8 235.3 L576.2 233 L576.5 230 L576.9 227.6 L577.2 226.1 L577.6 224.3 L577.9 219 L578.3 218.7 L578.6 219.5 L579 217.9 L579.3 220.2 L579.7 223.4 L580 226.6 L580.4 227 L580.7 228.3 L581.1 229.5 L581.4 232.2 L581.7 234.7 L582.1 233.3 L582.4 235.4 L582.8 239.7 L583.1 240.6 L583.5 241.3 L583.8 242 L584.2 241.6 L584.5 242.1 L584.9 241.4 L585.2 238.1 L585.6 236.6 L585.9 240 L586.3 240.4 L586.6 238 L587 236.4 L587.3 234.8 L587.7 232.8 L588 230.9 L588.3 230.7 L588.7 230.2 L589 229.9 L589.4 228.7 L589.7 226.7 L590.1 225.6 L590.4 225.8 L590.8 224.2 L591.1 222.8 L591.5 222.8 L591.8 222.5 L592.2 221.7 L592.5 220.5 L592.9 221.1 L593.2 218.7 L593.6 215.8 L593.9 219.8 L594.3 222.5 L594.6 225.1 L595 228.6 L595.3 233.9 L595.6 235.7 L596 234.4 L596.3 234 L596.7 233.9 L597 235 L597.4 238.3 L597.7 242 L598.1 241.6 L598.4 241 L598.8 241.7 L599.1 242.9 L599.5 244.5 L599.8 246.6 L600.2 247.5 L600.5 247.7 L600.9 247.4 L601.2 246 L601.6 245.7 L601.9 245.1 L602.2 244.3 L602.6 243.3 L602.9 242.2 L603.3 242.5 L603.6 242.6 L604 240.2 L604.3 239.2 L604.7 239 L605 238 L605.4 238.4 L605.7 238 L606.1 235.4 L606.4 232.5 L606.8 230 L607.1 229 L607.5 227.8 L607.8 224.7 L608.2 221.7 L608.5 225.2 L608.9 227.8 L609.2 228.1 L609.5 229.9 L609.9 231.5 L610.2 233.4 L610.6 233.9 L610.9 236 L611.3 239 L611.6 241 L612 244 L612.3 246 L612.7 247.7 L613 247.5 L613.4 246.2 L613.7 244.5 L614.1 242.7 L614.4 241.4 L614.8 241.2 L615.1 238.9 L615.5 237.9 L615.8 238.5 L616.1 239.3 L616.5 240.8 L616.8 242.1 L617.2 242.7 L617.5 242.2 L617.9 243.2 L618.2 246.8 L618.6 248.7 L618.9 250.4 L619.3 252.1 L619.6 253.7 L620 256.6 L620.3 257.5 L620.7 258.7 L621 262.1 L621.4 263.6 L621.7 262.7 L622.1 266.5 L622.4 268.9 L622.8 269.5 L623.1 268.9 L623.4 266.2 L623.8 264.6 L624.1 261.2 L624.5 257.4 L624.8 259.8 L625.2 262 L625.5 264.1 L625.9 265.8 L626.2 265.5 L626.6 268.2 L626.9 270.8 L627.3 271 L627.6 270.1 L628 269.4 L628.3 270.8 L628.7 272.6 L629 272.2 L629.4 272.1 L629.7 272.9 L630 272.1 L630.4 270.8 L630.7 271.6 L631.1 272.8 L631.4 270.5 L631.8 269.7 L632.1 268.1 L632.5 265.4 L632.8 261.4 L633.2 257.9 L633.5 257.3 L633.9 255.6 L634.2 255.2 L634.6 252.1 L634.9 248.1 L635.3 250.4 L635.6 252.4 L636 252.5 L636.3 255.4 L636.7 256.5 L637 255.6 L637.3 256.9 L637.7 257 L638 255.7 L638.4 255.9 L638.7 255.5 L639.1 252.6 L639.4 252 L639.8 250.2 L640.1 247.8 L640.5 248.4 L640.8 246.3 L641.2 243.7 L641.5 241.6 L641.9 240.5 L642.2 239.2 L642.6 238 L642.9 237.7 L643.3 236.7 L643.6 236.4 L643.9 234.3 L644.3 233.2 L644.6 233.6 L645 234 L645.3 232.1 L645.7 230.3 L646 233.1 L646.4 235.2 L646.7 237.4 L647.1 240 L647.4 241.5 L647.8 242.2 L648.1 243.1 L648.5 245.7 L648.8 247.2 L649.2 247.8 L649.5 250 L649.9 251.6 L650.2 252.6 L650.6 253.3 L650.9 252.5 L651.2 252.2 L651.6 251.8 L651.9 252.5 L652.3 251.8 L652.6 252.3 L653 255.8 L653.3 258.5 L653.7 260.2 L654 260.5 L654.4 262.4 L654.7 265.1 L655.1 269.4 L655.4 271.6 L655.8 270.9 L656.1 271.2 L656.5 270.1 L656.8 269.4 L657.2 270.4 L657.5 270.4 L657.8 271.5 L658.2 273.4 L658.5 274.1 L658.9 273.9 L659.2 273.8 L659.6 271.4 L659.9 266.3 L660.3 263.3 L660.6 260.1 L661 254.5 L661.3 250.6 L661.7 247.1 L662 241.5 L662.4 236.5 L662.7 232.7 L663.1 229.8 L663.4 227 L663.8 226.3 L664.1 229 L664.5 232.2 L664.8 233.5 L665.1 236.6 L665.5 240.4 L665.8 242.2 L666.2 243.5 L666.5 245.2 L666.9 247.7 L667.2 249.8 L667.6 253 L667.9 255.8 L668.3 256.2 L668.6 258 L669 260.8 L669.3 262.8 L669.7 264.2" fill="none" stroke="#9e3d36" stroke-width="1.2" stroke-linejoin="round"/>
<path d="M473 280.6 L473.3 279 L473.7 274.8 L474 278.9 L474.4 279.5 L474.7 256.4 L475.1 229.1 L475.4 230.8 L475.8 247 L476.1 259.9 L476.5 269.5 L476.8 277.8 L477.1 283.6 L477.5 289.3 L477.8 291.3 L478.2 284.8 L478.5 272.4 L478.9 265.7 L479.2 271.6 L479.6 273.5 L479.9 269.6 L480.3 269.2 L480.6 274.4 L481 281.7 L481.3 284.3 L481.7 287.8 L482 293.7 L482.4 297 L482.7 300.9 L483.1 296.9 L483.4 286.8 L483.8 278 L484.1 271.5 L484.4 267.5 L484.8 267.9 L485.1 267 L485.5 274.4 L485.8 288.3 L486.2 289.6 L486.5 282.6 L486.9 278.3 L487.2 271.7 L487.6 268.9 L487.9 273 L488.3 268.4 L488.6 266.1 L489 270.3 L489.3 276.9 L489.7 288.2 L490 296.8 L490.4 299.9 L490.7 299.5 L491 284.3 L491.4 263.3 L491.7 253.1 L492.1 251.9 L492.4 259.9 L492.8 265.6 L493.1 268.7 L493.5 273.6 L493.8 280.4 L494.2 288.8 L494.5 296.3 L494.9 303.8 L495.2 296.6 L495.6 278.7 L495.9 262.2 L496.3 240.7 L496.6 230.5 L497 240.8 L497.3 251.8 L497.7 262.7 L498 276.2 L498.3 287.2 L498.7 293.1 L499 294.6 L499.4 295.6 L499.7 294.7 L500.1 285.6 L500.4 274.6 L500.8 275.2 L501.1 281.7 L501.5 285.6 L501.8 281.3 L502.2 275.8 L502.5 281.4 L502.9 287.5 L503.2 285.9 L503.6 282.9 L503.9 276.7 L504.3 271.7 L504.6 274.6 L504.9 275.1 L505.3 274.3 L505.6 275.6 L506 277.9 L506.3 282.7 L506.7 290 L507 293.5 L507.4 292.3 L507.7 292.7 L508.1 295.7 L508.4 301.7 L508.8 295.6 L509.1 278.8 L509.5 270.8 L509.8 275.6 L510.2 282.4 L510.5 283.1 L510.9 285.4 L511.2 294.3 L511.6 297.2 L511.9 291.9 L512.2 284.4 L512.6 278.2 L512.9 273 L513.3 270.6 L513.6 273.1 L514 276.1 L514.3 277.5 L514.7 276.2 L515 282.4 L515.4 292.9 L515.7 294.2 L516.1 292.1 L516.4 284 L516.8 269.9 L517.1 260.7 L517.5 262.9 L517.8 270.2 L518.2 273.5 L518.5 276.4 L518.8 280.4 L519.2 286.6 L519.5 290.3 L519.9 284.1 L520.2 276.6 L520.6 273.3 L520.9 269.3 L521.3 270.1 L521.6 268.5 L522 269.2 L522.3 274.4 L522.7 275.3 L523 278 L523.4 282.4 L523.7 289.4 L524.1 294.6 L524.4 298.6 L524.8 295.9 L525.1 290.1 L525.5 281.3 L525.8 273.1 L526.1 273 L526.5 281.5 L526.8 278.3 L527.2 288 L527.5 299.6 L527.9 284 L528.2 276.6 L528.6 273 L528.9 271 L529.3 265.8 L529.6 263.6 L530 263.6 L530.3 269.9 L530.7 275.3 L531 282 L531.4 291.2 L531.7 296 L532.1 297.3 L532.4 302.5 L532.7 295.6 L533.1 271.4 L533.4 247.3 L533.8 240.9 L534.1 245.9 L534.5 256.9 L534.8 263.7 L535.2 264.8 L535.5 272.6 L535.9 274.5 L536.2 271.6 L536.6 279.2 L536.9 284.7 L537.3 280 L537.6 272.9 L538 268.8 L538.3 263.3 L538.7 266 L539 274.1 L539.4 273.6 L539.7 280.8 L540 288.7 L540.4 284.3 L540.7 276.4 L541.1 272.5 L541.4 272 L541.8 272 L542.1 270.6 L542.5 267.2 L542.8 269.5 L543.2 277.6 L543.5 292.6 L543.9 299.8 L544.2 293.6 L544.6 283.1 L544.9 279.3 L545.3 281.1 L545.6 278.5 L546 272.1 L546.3 267.3 L546.6 267 L547 270 L547.3 271.8 L547.7 277.4 L548 285.9 L548.4 291.3 L548.7 292.8 L549.1 298.1 L549.4 288.8 L549.8 272.1 L550.1 262 L550.5 254.9 L550.8 255.4 L551.2 261.4 L551.5 264.4 L551.9 267.6 L552.2 273.8 L552.6 276.5 L552.9 274.3 L553.3 283.1 L553.6 292 L553.9 286.7 L554.3 271.3 L554.6 256.8 L555 252.6 L555.3 259.2 L555.7 267.9 L556 269.8 L556.4 273.4 L556.7 279.7 L557.1 286.6 L557.4 289.7 L557.8 280 L558.1 268.2 L558.5 262.1 L558.8 263.3 L559.2 267.4 L559.5 269.2 L559.9 273 L560.2 276.9 L560.5 274.6 L560.9 276 L561.2 284.9 L561.6 288 L561.9 288.6 L562.3 282.6 L562.6 273.9 L563 266.1 L563.3 262.7 L563.7 266 L564 270.9 L564.4 277.3 L564.7 283.1 L565.1 288.1 L565.4 291.4 L565.8 291.8 L566.1 288.2 L566.5 282.9 L566.8 278.9 L567.2 272.2 L567.5 269.5 L567.8 273.4 L568.2 273.4 L568.5 275 L568.9 290.8 L569.2 297.7 L569.6 283.7 L569.9 274.4 L570.3 271.2 L570.6 266.1 L571 264.4 L571.3 264.7 L571.7 264.5 L572 269.7 L572.4 273.3 L572.7 279.1 L573.1 287.3 L573.4 292.3 L573.8 293 L574.1 291.2 L574.4 285.7 L574.8 268.2 L575.1 256.9 L575.5 262.2 L575.8 269 L576.2 271.7 L576.5 265.7 L576.9 270.5 L577.2 278.5 L577.6 277.6 L577.9 278.9 L578.3 277.2 L578.6 269.9 L579 258 L579.3 254.3 L579.7 260.8 L580 260.9 L580.4 257.6 L580.7 261.3 L581.1 266.5 L581.4 275.3 L581.7 288.1 L582.1 289.5 L582.4 281.5 L582.8 274.2 L583.1 271 L583.5 272.7 L583.8 274.5 L584.2 274.3 L584.5 271.7 L584.9 270.3 L585.2 275.2 L585.6 279.1 L585.9 281 L586.3 284.4 L586.6 284.8 L587 280.2 L587.3 271.4 L587.7 264.9 L588 264 L588.3 267.3 L588.7 269.3 L589 267.7 L589.4 273 L589.7 278.7 L590.1 282.5 L590.4 279.7 L590.8 272 L591.1 265.9 L591.5 260.9 L591.8 260.3 L592.2 261.9 L592.5 264.3 L592.9 259.6 L593.2 265 L593.6 279.1 L593.9 286.6 L594.3 292.6 L594.6 293.1 L595 285 L595.3 276.3 L595.6 273.2 L596 269.9 L596.3 272.5 L596.7 276.4 L597 274.7 L597.4 277.6 L597.7 279.8 L598.1 281.1 L598.4 288.4 L598.8 297.4 L599.1 299 L599.5 292.6 L599.8 279.1 L600.2 266.1 L600.5 262.8 L600.9 266.5 L601.2 271.6 L601.6 274.4 L601.9 277.9 L602.2 282.5 L602.6 292.4 L602.9 303.5 L603.3 301.7 L603.6 285.2 L604 266.9 L604.3 258 L604.7 259.3 L605 266.9 L605.4 269.8 L605.7 266.2 L606.1 282.5 L606.4 300.4 L606.8 285.9 L607.1 273 L607.5 274 L607.8 271.2 L608.2 263.1 L608.5 254.7 L608.9 255.1 L609.2 265.2 L609.5 277 L609.9 280.3 L610.2 285.1 L610.6 286.2 L610.9 282.4 L611.3 276.9 L611.6 270.9 L612 263.2 L612.3 259.5 L612.7 254 L613 252.1 L613.4 255.6 L613.7 256 L614.1 261.4 L614.4 266.8 L614.8 270.4 L615.1 274.6 L615.5 280.6 L615.8 289.4 L616.1 286.1 L616.5 272.6 L616.8 263.6 L617.2 260.8 L617.5 260.5 L617.9 262 L618.2 263.9 L618.6 268.7 L618.9 283.4 L619.3 281.8 L619.6 269.9 L620 270.1 L620.3 269.1 L620.7 265.3 L621 263.9 L621.4 262.7 L621.7 264.3 L622.1 270.4 L622.4 275.8 L622.8 280.6 L623.1 288.5 L623.4 294.6 L623.8 297.9 L624.1 298 L624.5 286.6 L624.8 275.3 L625.2 269.2 L625.5 267.9 L625.9 267.8 L626.2 272.8 L626.6 278 L626.9 282.8 L627.3 289.6 L627.6 291.1 L628 296.5 L628.3 300.9 L628.7 301.1 L629 301.1 L629.4 293.8 L629.7 281.9 L630 278.8 L630.4 279.2 L630.7 285.2 L631.1 284.9 L631.4 288.9 L631.8 302 L632.1 305.1 L632.5 295.4 L632.8 281.5 L633.2 276.2 L633.5 274 L633.9 274.4 L634.2 273.6 L634.6 271.3 L634.9 274.5 L635.3 280.4 L635.6 285.3 L636 284.1 L636.3 277.4 L636.7 280.2 L637 282.9 L637.3 280.3 L637.7 273.2 L638 264.9 L638.4 259.5 L638.7 264.1 L639.1 269.3 L639.4 272.8 L639.8 276.4 L640.1 279.1 L640.5 287.1 L640.8 292.1 L641.2 291.4 L641.5 281.3 L641.9 270.5 L642.2 259.1 L642.6 257.9 L642.9 267.6 L643.3 273 L643.6 275.8 L643.9 285.8 L644.3 298.3 L644.6 303.1 L645 299.6 L645.3 286.7 L645.7 273.3 L646 267.4 L646.4 265.5 L646.7 267.4 L647.1 268.4 L647.4 269.6 L647.8 270.3 L648.1 274.8 L648.5 282.8 L648.8 286 L649.2 288.8 L649.5 283.9 L649.9 268 L650.2 256.1 L650.6 255 L650.9 258.2 L651.2 259.7 L651.6 263.2 L651.9 273.3 L652.3 277 L652.6 276.4 L653 282.9 L653.3 294.7 L653.7 298.8 L654 288.5 L654.4 272.5 L654.7 261 L655.1 260.8 L655.4 264.2 L655.8 266.3 L656.1 272.3 L656.5 274.1 L656.8 275.1 L657.2 283.8 L657.5 291.6 L657.8 287.7 L658.2 272.9 L658.5 255.3 L658.9 245.9 L659.2 243.7 L659.6 246.4 L659.9 252.3 L660.3 258.8 L660.6 264.7 L661 266.5 L661.3 269.2 L661.7 276.1 L662 276.5 L662.4 270.8 L662.7 260.8 L663.1 254.1 L663.4 255 L663.8 258 L664.1 265.2 L664.5 271.7 L664.8 283.3 L665.1 290.5 L665.5 285.7 L665.8 279.2 L666.2 272.8 L666.5 269.2 L666.9 268.5 L667.2 270.5 L667.6 270.6 L667.9 270.5 L668.3 275.1 L668.6 280.9 L669 283.7 L669.3 286.8 L669.7 286.6" fill="none" stroke="#2fa03a" stroke-width="1.15" stroke-linejoin="round"/>
</g>
<rect x="472.7" y="215.0" width="197.2" height="107.3" fill="none" stroke="#b9b9b9" stroke-width="0.8"/>
<text x="471.9" y="217.8" font-size="7.8" text-anchor="end" fill="#9c2f2f" textLength="13" lengthAdjust="spacingAndGlyphs" stroke="#9c2f2f" stroke-width="0.25">653</text>
<text x="670.5" y="217.8" font-size="7.8" fill="#2f9e3a" textLength="13" lengthAdjust="spacingAndGlyphs" stroke="#2f9e3a" stroke-width="0.25">618</text>
<text x="471.9" y="253.6" font-size="7.8" text-anchor="end" fill="#9c2f2f" textLength="13" lengthAdjust="spacingAndGlyphs" stroke="#9c2f2f" stroke-width="0.25">652</text>
<text x="670.5" y="253.6" font-size="7.8" fill="#2f9e3a" textLength="13" lengthAdjust="spacingAndGlyphs" stroke="#2f9e3a" stroke-width="0.25">617</text>
<text x="471.9" y="289.3" font-size="7.8" text-anchor="end" fill="#9c2f2f" textLength="13" lengthAdjust="spacingAndGlyphs" stroke="#9c2f2f" stroke-width="0.25">651</text>
<text x="670.5" y="289.3" font-size="7.8" fill="#2f9e3a" textLength="13" lengthAdjust="spacingAndGlyphs" stroke="#2f9e3a" stroke-width="0.25">616</text>
<text x="471.9" y="325.1" font-size="7.8" text-anchor="end" fill="#9c2f2f" textLength="13" lengthAdjust="spacingAndGlyphs" stroke="#9c2f2f" stroke-width="0.25">650</text>
<text x="670.5" y="325.1" font-size="7.8" fill="#2f9e3a" textLength="13" lengthAdjust="spacingAndGlyphs" stroke="#2f9e3a" stroke-width="0.25">615</text>
<text transform="translate(453.6,273) rotate(-90)" font-size="7.4" text-anchor="middle" fill="#333" textLength="37" lengthAdjust="spacingAndGlyphs">waterlevel</text>
<text transform="translate(461.8,273) rotate(-90)" font-size="7.4" text-anchor="middle" fill="#333">[m]</text>
<text x="643.6" y="226.5" font-size="19.2" fill="#111" font-weight="bold" stroke="#111" stroke-width="0.5">c</text>
<line x1="569.4" y1="301.9" x2="572.5" y2="301.9" stroke="#c0705f" stroke-width="0.9"/>
<text x="574.6" y="305.1" font-size="9.2" fill="#222" textLength="48.7" lengthAdjust="spacingAndGlyphs">Deep well *</text>
<line x1="569.4" y1="310.1" x2="572.5" y2="310.1" stroke="#55b05a" stroke-width="0.9"/>
<text x="575.1" y="313.3" font-size="9.2" fill="#222" textLength="61.4" lengthAdjust="spacingAndGlyphs">Shallow well †</text>
<clipPath id="cpd"><rect x="472.7" y="316.3" width="197.2" height="115.4"/></clipPath>
<g clip-path="url(#cpd)">
<path d="M472.4 367.6 L472.8 367.5 L473.3 351.9 L473.7 341.4 L474.2 339.4 L474.6 341.9 L475.1 349.1 L475.5 348.5 L476 354.5 L476.4 354.8 L476.9 369.9 L477.4 380.9 L477.8 389.4 L478.3 396.1 L478.7 395.6 L479.2 387.7 L479.6 380 L480.1 375.9 L480.5 375.3 L481 382.3 L481.4 390 L481.9 391.8 L482.3 389.3 L482.8 383.6 L483.3 372.3 L483.7 360.4 L484.2 350.2 L484.6 354.5 L485.1 357.6 L485.5 356.1 L486 364.8 L486.4 374.3 L486.9 385.7 L487.3 403 L487.8 411.8 L488.2 414 L488.7 420.9 L489.2 411.3 L489.6 410.7 L490.1 403.1 L490.5 389 L491 377.8 L491.4 372.6 L491.9 373.3 L492.3 375 L492.8 383 L493.2 391.1 L493.7 403.2 L494.1 411.8 L494.6 404.7 L495.1 396.8 L495.5 385.4 L496 368.3 L496.4 355.2 L496.9 345.4 L497.3 342.5 L497.8 343.5 L498.2 353.9 L498.7 351 L499.1 355.5 L499.6 367.3 L500 369.2 L500.5 374.9 L500.9 374.1 L501.4 390 L501.9 398.6 L502.3 401.9 L502.8 394.1 L503.2 392.2 L503.7 379.2 L504.1 367.7 L504.6 359.4 L505 348.6 L505.5 361.1 L505.9 368.4 L506.4 378 L506.8 376.6 L507.3 377.1 L507.8 376.3 L508.2 373.4 L508.7 365.3 L509.1 371.8 L509.6 379.2 L510 383.2 L510.5 391.3 L510.9 401.7 L511.4 410.5 L511.8 411.4 L512.3 395.7 L512.7 388 L513.2 374.4 L513.7 361.9 L514.1 350.4 L514.6 343.1 L515 343.8 L515.5 339.6 L515.9 330.4 L516.4 325.8 L516.8 331.8 L517.3 341.5 L517.7 352.2 L518.2 361.7 L518.6 372.1 L519.1 377 L519.5 389.6 L520 394 L520.5 399.8 L520.9 396.3 L521.4 394.1 L521.8 384.7 L522.3 383.7 L522.7 380.9 L523.2 387.6 L523.6 388.2 L524.1 395.3 L524.5 401.1 L525 412.9 L525.4 411.9 L525.9 417.5 L526.4 427 L526.8 423.4 L527.3 414.3 L527.7 402.2 L528.2 389.1 L528.6 380.5 L529.1 383.7 L529.5 379.3 L530 377.8 L530.4 374.3 L530.9 377.4 L531.3 378.5 L531.8 382.9 L532.3 374.6 L532.7 366 L533.2 350.4 L533.6 344.5 L534.1 345.6 L534.5 347.6 L535 349 L535.4 352.5 L535.9 354.8 L536.3 356 L536.8 361.2 L537.2 377.4 L537.7 384.1 L538.1 387 L538.6 387.9 L539.1 383.2 L539.5 381.8 L540 381.5 L540.4 378.7 L540.9 375.7 L541.3 378.5 L541.8 383.2 L542.2 383.5 L542.7 383.6 L543.1 388.4 L543.6 391.7 L544 391.6 L544.5 387.3 L545 379.5 L545.4 378.3 L545.9 376 L546.3 375.1 L546.8 380.1 L547.2 382.8 L547.7 393.4 L548.1 391 L548.6 394 L549 391.9 L549.5 387.5 L549.9 387.1 L550.4 385.2 L550.9 380.7 L551.3 368.1 L551.8 359.8 L552.2 346.9 L552.7 335.1 L553.1 341.6 L553.6 342.6 L554 351.5 L554.5 360.2 L554.9 376.3 L555.4 383.4 L555.8 382.1 L556.3 383 L556.7 385 L557.2 382.9 L557.7 381.2 L558.1 381.3 L558.6 388.2 L559 389.4 L559.5 397.9 L559.9 401.4 L560.4 395.7 L560.8 388.4 L561.3 375.9 L561.7 367.9 L562.2 368 L562.6 368.3 L563.1 369.5 L563.6 374.1 L564 379.1 L564.5 380.3 L564.9 381.9 L565.4 373 L565.8 371.8 L566.3 359.5 L566.7 354.1 L567.2 352.2 L567.6 361 L568.1 372.4 L568.5 378.7 L569 385.9 L569.5 380.8 L569.9 372.8 L570.4 366 L570.8 358.8 L571.3 355.1 L571.7 356.2 L572.2 369.5 L572.6 376.6 L573.1 392.1 L573.5 397 L574 395.5 L574.4 392.1 L574.9 376 L575.3 361.9 L575.8 353 L576.3 349.5 L576.7 359.2 L577.2 374 L577.6 382.1 L578.1 390.7 L578.5 390.7 L579 390.1 L579.4 378.9 L579.9 371.8 L580.3 370.9 L580.8 364.9 L581.2 362.9 L581.7 364.5 L582.2 362.8 L582.6 368.4 L583.1 376.1 L583.5 381.4 L584 385.9 L584.4 384.5 L584.9 392.7 L585.3 393.3 L585.8 393.6 L586.2 396.7 L586.7 389 L587.1 382.2 L587.6 364.2 L588.1 351.3 L588.5 339.8 L589 332.3 L589.4 326.5 L589.9 336.4 L590.3 347.4 L590.8 361.4 L591.2 369.7 L591.7 372.9 L592.1 370.8 L592.6 370 L593 369.5 L593.5 373.5 L593.9 376.9 L594.4 376.3 L594.9 378.5 L595.3 385.9 L595.8 390.8 L596.2 393.7 L596.7 399 L597.1 403.3 L597.6 406.8 L598 407.7 L598.5 419.4 L598.9 421.1 L599.4 416.8 L599.8 402.6 L600.3 398.4 L600.8 386.3 L601.2 372.8 L601.7 369.1 L602.1 359.4 L602.6 365.8 L603 374.7 L603.5 379.9 L603.9 391.6 L604.4 392.2 L604.8 382.9 L605.3 379.7 L605.7 365.2 L606.2 360.1 L606.7 350.9 L607.1 348.1 L607.6 350.5 L608 346.7 L608.5 344 L608.9 348.1 L609.4 349.1 L609.8 347.6 L610.3 352.4 L610.7 357.2 L611.2 358.4 L611.6 357.6 L612.1 366.3 L612.5 369.7 L613 369.8 L613.5 371.2 L613.9 366.7 L614.4 359.7 L614.8 346.6 L615.3 339.2 L615.7 344.9 L616.2 351 L616.6 360.9 L617.1 368.2 L617.5 380.3 L618 388.7 L618.4 399 L618.9 407.1 L619.4 409.1 L619.8 412.1 L620.3 413.5 L620.7 414.5 L621.2 414.6 L621.6 404.9 L622.1 405.7 L622.5 408.8 L623 402 L623.4 395.6 L623.9 383.2 L624.3 366 L624.8 360.5 L625.3 361 L625.7 357.5 L626.2 369.4 L626.6 374.6 L627.1 388.2 L627.5 396.8 L628 399.5 L628.4 413.9 L628.9 418.6 L629.3 418.5 L629.8 418.1 L630.2 409 L630.7 396.9 L631.2 383.5 L631.6 371.8 L632.1 356.2 L632.5 347.3 L633 343.1 L633.4 351.2 L633.9 356.4 L634.3 359.8 L634.8 370.8 L635.2 376.4 L635.7 381.2 L636.1 380.9 L636.6 388.1 L637 391.1 L637.5 399.4 L638 394.6 L638.4 384.9 L638.9 384.6 L639.3 379.1 L639.8 374 L640.2 361.7 L640.7 354.3 L641.1 350.9 L641.6 339.5 L642 339.4 L642.5 344.6 L642.9 356.7 L643.4 357.8 L643.9 366.7 L644.3 369.6 L644.8 368.3 L645.2 361.4 L645.7 353.9 L646.1 353.1 L646.6 352.3 L647 359.7 L647.5 363.1 L647.9 373.2 L648.4 385.8 L648.8 395.4 L649.3 389.9 L649.8 383 L650.2 381.7 L650.7 378.1 L651.1 376.3 L651.6 377.3 L652 377.5 L652.5 374.5 L652.9 382 L653.4 392.4 L653.8 401.5 L654.3 404.7 L654.7 402.8 L655.2 401.3 L655.6 397.3 L656.1 386.8 L656.6 379.6 L657 372.4 L657.5 365.1 L657.9 360.8 L658.4 359.7 L658.8 359 L659.3 358.8 L659.7 352.2 L660.2 350.7 L660.6 351.6 L661.1 364.6 L661.5 363.2 L662 363.9 L662.5 371.6 L662.9 376 L663.4 381.6 L663.8 387.1 L664.3 396.6 L664.7 402 L665.2 403.1 L665.6 399.1 L666.1 399.5 L666.5 398.2 L667 395.5 L667.4 387.4 L667.9 381.9 L668.4 372.1 L668.8 361.2 L669.3 363.5 L669.7 364.4" fill="none" stroke="#f28e3c" stroke-width="1.0" stroke-linejoin="round"/>
<path d="M472.4 324.3 L472.8 340.5 L473.3 330 L473.7 334 L474.2 336.7 L474.6 339.8 L475.1 350.2 L475.5 348.6 L476 358.9 L476.4 353.8 L476.9 374.4 L477.4 386.1 L477.8 395.6 L478.3 404.6 L478.7 403.5 L479.2 394.3 L479.6 384.3 L480.1 383.7 L480.5 384.9 L481 396.2 L481.4 402.7 L481.9 402 L482.3 398.2 L482.8 392.1 L483.3 381.1 L483.7 368.7 L484.2 355.1 L484.6 360.3 L485.1 362.5 L485.5 362 L486 376.9 L486.4 386.3 L486.9 394.2 L487.3 406.7 L487.8 415.7 L488.2 415.6 L488.7 428.9 L489.2 415.1 L489.6 415.6 L490.1 409 L490.5 392.7 L491 381.8 L491.4 378.2 L491.9 381.5 L492.3 380.6 L492.8 385.1 L493.2 390 L493.7 403.7 L494.1 413.3 L494.6 400.5 L495.1 391.9 L495.5 381.2 L496 362.6 L496.4 349.3 L496.9 340.1 L497.3 337.4 L497.8 338.9 L498.2 355.3 L498.7 350.8 L499.1 358 L499.6 372 L500 372.5 L500.5 382.7 L500.9 383.9 L501.4 404.7 L501.9 412.5 L502.3 415.1 L502.8 406 L503.2 406.8 L503.7 390.1 L504.1 376.3 L504.6 368.7 L505 353.4 L505.5 371.1 L505.9 376.9 L506.4 392.1 L506.8 387.5 L507.3 388.6 L507.8 384.4 L508.2 384 L508.7 370.1 L509.1 378.4 L509.6 384.9 L510 390.1 L510.5 399.4 L510.9 409.4 L511.4 416.4 L511.8 420 L512.3 402.4 L512.7 399.5 L513.2 383.6 L513.7 369.8 L514.1 355.7 L514.6 346.5 L515 348.2 L515.5 345.6 L515.9 335.3 L516.4 328.2 L516.8 334 L517.3 343.4 L517.7 352.9 L518.2 357.5 L518.6 364 L519.1 364.6 L519.5 374.5 L520 375.5 L520.5 380.4 L520.9 380.3 L521.4 379.4 L521.8 368.3 L522.3 369.2 L522.7 366.4 L523.2 377.2 L523.6 376 L524.1 384.5 L524.5 388.4 L525 406.1 L525.4 401.8 L525.9 409.5 L526.4 420.7 L526.8 412 L527.3 401.7 L527.7 389.1 L528.2 377.3 L528.6 362.7 L529.1 361 L529.5 349.9 L530 353.7 L530.4 351.7 L530.9 359 L531.3 360.2 L531.8 369.6 L532.3 361.6 L532.7 357.8 L533.2 343.5 L533.6 341.2 L534.1 343.4 L534.5 348.1 L535 350.1 L535.4 359.6 L535.9 365.7 L536.3 366 L536.8 364.6 L537.2 380.1 L537.7 387.3 L538.1 395.2 L538.6 399.4 L539.1 391.5 L539.5 388 L540 388.7 L540.4 385.2 L540.9 384.3 L541.3 385.6 L541.8 394.3 L542.2 393.4 L542.7 394.4 L543.1 400.4 L543.6 401.5 L544 400.9 L544.5 395.6 L545 387.7 L545.4 388.4 L545.9 384.1 L546.3 379.8 L546.8 382.6 L547.2 381.7 L547.7 397.9 L548.1 390.3 L548.6 396.9 L549 392.5 L549.5 386.9 L549.9 382.8 L550.4 379.5 L550.9 376.7 L551.3 360.1 L551.8 354.1 L552.2 340.9 L552.7 328 L553.1 337.6 L553.6 336.1 L554 348.1 L554.5 352 L554.9 366.9 L555.4 371.1 L555.8 368.8 L556.3 365.9 L556.7 369.7 L557.2 365.5 L557.7 367.2 L558.1 364.2 L558.6 375.5 L559 372.7 L559.5 382 L559.9 385.1 L560.4 379.9 L560.8 374.6 L561.3 362.6 L561.7 353.1 L562.2 354.9 L562.6 355.9 L563.1 355.7 L563.6 363.9 L564 367.3 L564.5 370 L564.9 371.4 L565.4 358.8 L565.8 363.4 L566.3 350.7 L566.7 349.2 L567.2 344.8 L567.6 356.5 L568.1 368.3 L568.5 373.2 L569 383.3 L569.5 378.5 L569.9 372 L570.4 367 L570.8 361.4 L571.3 359.8 L571.7 363.2 L572.2 383.1 L572.6 390.3 L573.1 408.2 L573.5 410.8 L574 404.3 L574.4 402.3 L574.9 380.7 L575.3 367.5 L575.8 360 L576.3 360.3 L576.7 373.2 L577.2 387.1 L577.6 391.2 L578.1 398.9 L578.5 399 L579 399.4 L579.4 387.7 L579.9 382.1 L580.3 383.5 L580.8 376.6 L581.2 369.8 L581.7 369.6 L582.2 363.1 L582.6 370.7 L583.1 377.3 L583.5 378.8 L584 378.6 L584.4 373.2 L584.9 384.9 L585.3 386.8 L585.8 388.4 L586.2 393.3 L586.7 386 L587.1 386.7 L587.6 371 L588.1 361.7 L588.5 348.8 L589 345.5 L589.4 334 L589.9 346.2 L590.3 352.2 L590.8 362.3 L591.2 367.9 L591.7 367.7 L592.1 365.8 L592.6 365.4 L593 362.5 L593.5 362.9 L593.9 364.2 L594.4 361.8 L594.9 366.6 L595.3 373.6 L595.8 375.3 L596.2 377.9 L596.7 386.2 L597.1 392.7 L597.6 393.2 L598 393.4 L598.5 405.2 L598.9 408.2 L599.4 406.6 L599.8 393.4 L600.3 394.4 L600.8 376.9 L601.2 364.2 L601.7 362.4 L602.1 351.2 L602.6 358.9 L603 368.4 L603.5 371.5 L603.9 383.3 L604.4 383.5 L604.8 369 L605.3 370.5 L605.7 352.7 L606.2 351.4 L606.7 339.5 L607.1 334.7 L607.6 336.1 L608 330.8 L608.5 332 L608.9 340.9 L609.4 345.8 L609.8 344 L610.3 351.8 L610.7 360.3 L611.2 362.9 L611.6 363.9 L612.1 375 L612.5 375.4 L613 372.3 L613.5 368.1 L613.9 361.2 L614.4 350.8 L614.8 335.3 L615.3 324.4 L615.7 334.3 L616.2 344.3 L616.6 358.8 L617.1 367.1 L617.5 380.5 L618 388.8 L618.4 399.5 L618.9 407.5 L619.4 410.8 L619.8 420 L620.3 426.6 L620.7 426.4 L621.2 427.2 L621.6 410.8 L622.1 411.6 L622.5 410.8 L623 399.6 L623.4 393.7 L623.9 384.7 L624.3 364.5 L624.8 357.2 L625.3 354.5 L625.7 345.3 L626.2 361.3 L626.6 365.8 L627.1 385.1 L627.5 398.8 L628 400.4 L628.4 417.7 L628.9 419.7 L629.3 421.2 L629.8 426.9 L630.2 417.5 L630.7 404.5 L631.2 389.6 L631.6 383.1 L632.1 366.2 L632.5 358.2 L633 352.4 L633.4 363.9 L633.9 368 L634.3 364.4 L634.8 371.3 L635.2 372.5 L635.7 376.9 L636.1 377.1 L636.6 387.3 L637 388.6 L637.5 397.7 L638 388.4 L638.4 375.6 L638.9 379.3 L639.3 375.2 L639.8 372.7 L640.2 361.2 L640.7 356.4 L641.1 354.8 L641.6 342.4 L642 342 L642.5 347.6 L642.9 361.8 L643.4 362.7 L643.9 375.8 L644.3 381.1 L644.8 379.5 L645.2 374.2 L645.7 366.1 L646.1 366.6 L646.6 362.6 L647 368.5 L647.5 370.4 L647.9 376.8 L648.4 384.3 L648.8 393 L649.3 382.5 L649.8 377.2 L650.2 375.7 L650.7 370.6 L651.1 371.7 L651.6 374.2 L652 381.5 L652.5 378.9 L652.9 388.6 L653.4 396.5 L653.8 405 L654.3 406.3 L654.7 404.4 L655.2 402.9 L655.6 400.4 L656.1 386 L656.6 379.3 L657 374.1 L657.5 368.3 L657.9 361.9 L658.4 359.2 L658.8 353.6 L659.3 354.2 L659.7 341.4 L660.2 342 L660.6 336.7 L661.1 353.1 L661.5 345.4 L662 346.5 L662.5 353.4 L662.9 354.2 L663.4 357.7 L663.8 363.1 L664.3 371.7 L664.7 375 L665.2 375.2 L665.6 377.7 L666.1 384.9 L666.5 386.5 L667 384 L667.4 378.3 L667.9 383 L668.4 381.2 L668.8 373.7 L669.3 377.2 L669.7 375.3" fill="none" stroke="#4a86b4" stroke-width="1.0" stroke-linejoin="round"/>
</g>
<rect x="472.7" y="322.3" width="197.2" height="110.1" fill="none" stroke="#d9d9d9" stroke-width="0.8"/>
<line x1="472.7" y1="322.3" x2="669.9" y2="322.3" stroke="#7a7a7a" stroke-width="0.9"/>
<text x="471.2" y="335.7" font-size="7.6" text-anchor="end" fill="#222">2</text>
<text x="471.2" y="357.7" font-size="7.6" text-anchor="end" fill="#222">1</text>
<text x="471.2" y="379.7" font-size="7.6" text-anchor="end" fill="#222">0</text>
<text x="471.2" y="401.7" font-size="7.6" text-anchor="end" fill="#222">-1</text>
<text x="471.2" y="423.7" font-size="7.6" text-anchor="end" fill="#222">-2</text>
<text x="473" y="439" font-size="7.6" text-anchor="middle" fill="#333" textLength="16.8" lengthAdjust="spacingAndGlyphs">1975</text>
<text x="501.2" y="439" font-size="7.6" text-anchor="middle" fill="#9a9a9a" textLength="16.8" lengthAdjust="spacingAndGlyphs">1980</text>
<text x="528.4" y="439" font-size="7.6" text-anchor="middle" fill="#333" textLength="16.8" lengthAdjust="spacingAndGlyphs">1985</text>
<text x="555.7" y="439" font-size="7.6" text-anchor="middle" fill="#333" textLength="16.8" lengthAdjust="spacingAndGlyphs">1990</text>
<text x="582.9" y="439" font-size="7.6" text-anchor="middle" fill="#333" textLength="16.8" lengthAdjust="spacingAndGlyphs">1995</text>
<text x="610.1" y="439" font-size="7.6" text-anchor="middle" fill="#333" textLength="16.8" lengthAdjust="spacingAndGlyphs">2000</text>
<text x="637.3" y="439" font-size="7.6" text-anchor="middle" fill="#333" textLength="16.8" lengthAdjust="spacingAndGlyphs">2005</text>
<text x="664.5" y="439" font-size="7.6" text-anchor="middle" fill="#333" textLength="16.8" lengthAdjust="spacingAndGlyphs">2010</text>
<text transform="translate(465,375.3) rotate(-90)" font-size="7.4" text-anchor="middle" fill="#333" textLength="30" lengthAdjust="spacingAndGlyphs">SPI, SPEI</text>
<text x="644.8" y="339.5" font-size="18.8" fill="#111" font-weight="bold" stroke="#111" stroke-width="0.5">d</text>
<line x1="527.3" y1="417.4" x2="530.5" y2="417.4" stroke="#f28e3c" stroke-width="1"/>
<text x="532.1" y="421.4" font-size="9.7" fill="#222" textLength="22.9" lengthAdjust="spacingAndGlyphs">SPEI6</text>
<line x1="527.3" y1="427.5" x2="530.5" y2="427.5" stroke="#4a86b4" stroke-width="1"/>
<text x="532.1" y="431.5" font-size="9.7" fill="#222" textLength="17.7" lengthAdjust="spacingAndGlyphs">SPI6</text>
</svg>
</body></html>
